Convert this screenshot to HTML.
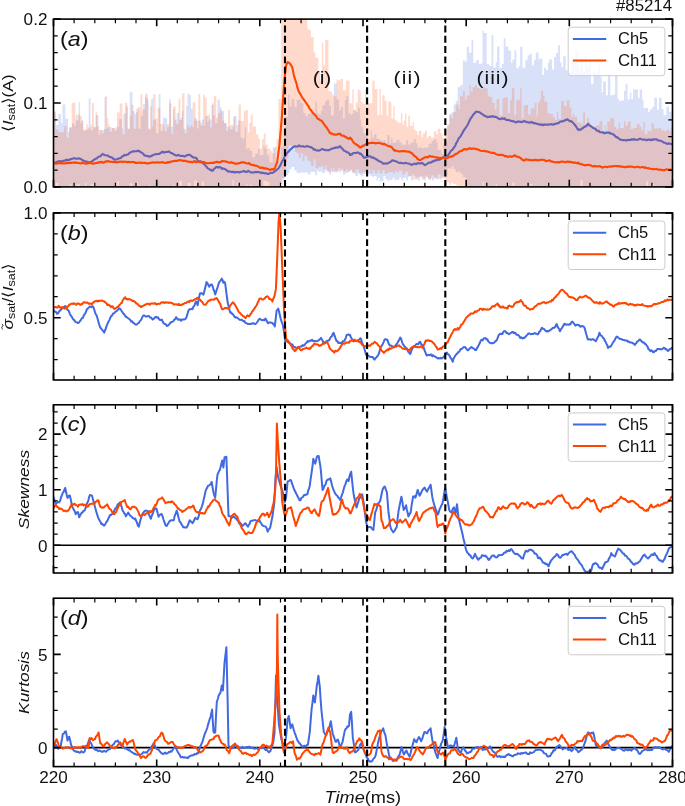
<!DOCTYPE html>
<html><head><meta charset="utf-8"><title>#85214</title>
<style>html,body{margin:0;padding:0;background:#fff;}body{width:685px;height:806px;overflow:hidden;font-family:"Liberation Sans",sans-serif;}</style>
</head><body>
<svg width="685" height="806" viewBox="0 0 685 806" style="display:block;will-change:transform;transform:translateZ(0)">
<rect x="0" y="0" width="685" height="806" fill="#fff"/>
<defs>
<clipPath id="cpa"><rect x="53.5" y="19.1" width="619.0" height="167.8"/></clipPath>
<clipPath id="cpb"><rect x="53.5" y="212.9" width="619.0" height="167.1"/></clipPath>
<clipPath id="cpc"><rect x="53.5" y="404.8" width="619.0" height="168.2"/></clipPath>
<clipPath id="cpd"><rect x="53.5" y="598.2" width="619.0" height="168.4"/></clipPath>
</defs>
<g clip-path="url(#cpa)">
<path d="M53.5 112.2 L55.9 112.2 L55.9 124.7 L58.3 124.7 L58.3 114.3 L61.1 114.3 L61.1 123.2 L62.5 123.2 L62.5 104.6 L65.3 104.6 L65.3 118.8 L68.1 118.8 L68.1 132.0 L69.5 132.0 L69.5 128.0 L71.9 128.0 L71.9 123.2 L73.9 123.2 L73.9 125.7 L75.9 125.7 L75.9 115.0 L77.3 115.0 L77.3 120.5 L78.7 120.5 L78.7 102.2 L80.1 102.2 L80.1 123.3 L81.5 123.3 L81.5 119.8 L82.9 119.8 L82.9 130.9 L84.9 130.9 L84.9 130.3 L86.3 130.3 L86.3 129.6 L88.7 129.6 L88.7 98.2 L90.5 98.2 L90.5 130.2 L92.9 130.2 L92.9 126.8 L95.7 126.8 L95.7 115.0 L98.5 115.0 L98.5 134.8 L100.3 134.8 L100.3 130.1 L102.7 130.1 L102.7 130.3 L104.5 130.3 L104.5 97.1 L106.3 97.1 L106.3 128.4 L108.7 128.4 L108.7 127.0 L111.5 127.0 L111.5 127.9 L114.3 127.9 L114.3 130.5 L117.1 130.5 L117.1 126.8 L119.1 126.8 L119.1 119.1 L121.9 119.1 L121.9 128.5 L123.3 128.5 L123.3 113.5 L126.1 113.5 L126.1 106.4 L127.9 106.4 L127.9 128.8 L129.7 128.8 L129.7 92.2 L132.5 92.2 L132.5 110.9 L134.5 110.9 L134.5 114.1 L136.3 114.1 L136.3 108.7 L138.3 108.7 L138.3 128.7 L140.7 128.7 L140.7 116.1 L143.1 116.1 L143.1 103.9 L144.9 103.9 L144.9 97.4 L147.3 97.4 L147.3 99.8 L148.7 99.8 L148.7 129.5 L151.1 129.5 L151.1 98.9 L153.1 98.9 L153.1 119.7 L155.9 119.7 L155.9 133.2 L158.7 133.2 L158.7 94.2 L160.5 94.2 L160.5 131.1 L162.9 131.1 L162.9 117.5 L164.7 117.5 L164.7 118.3 L167.1 118.3 L167.1 127.0 L169.1 127.0 L169.1 99.4 L170.9 99.4 L170.9 126.8 L172.9 126.8 L172.9 108.9 L174.3 108.9 L174.3 119.4 L176.7 119.4 L176.7 113.1 L179.1 113.1 L179.1 120.1 L181.9 120.1 L181.9 110.7 L183.3 110.7 L183.3 129.0 L186.1 129.0 L186.1 106.1 L187.5 106.1 L187.5 93.4 L188.9 93.4 L188.9 95.1 L190.9 95.1 L190.9 109.1 L192.7 109.1 L192.7 127.4 L194.1 127.4 L194.1 118.5 L196.9 118.5 L196.9 128.6 L198.7 128.6 L198.7 120.4 L200.5 120.4 L200.5 122.5 L201.9 122.5 L201.9 119.4 L203.9 119.4 L203.9 125.5 L205.3 125.5 L205.3 116.3 L207.3 116.3 L207.3 121.8 L208.7 121.8 L208.7 119.4 L211.5 119.4 L211.5 104.9 L213.3 104.9 L213.3 115.4 L215.1 115.4 L215.1 123.1 L217.5 123.1 L217.5 99.4 L219.9 99.4 L219.9 107.3 L221.3 107.3 L221.3 111.2 L224.1 111.2 L224.1 122.9 L226.9 122.9 L226.9 126.8 L229.7 126.8 L229.7 129.2 L232.5 129.2 L232.5 127.0 L233.9 127.0 L233.9 115.9 L236.7 115.9 L236.7 132.3 L238.1 132.3 L238.1 120.4 L240.5 120.4 L240.5 137.5 L242.3 137.5 L242.3 138.7 L244.7 138.7 L244.7 127.3 L246.1 127.3 L246.1 148.9 L247.5 148.9 L247.5 148.1 L249.5 148.1 L249.5 150.8 L252.3 150.8 L252.3 157.3 L255.1 157.3 L255.1 153.7 L257.9 153.7 L257.9 149.1 L259.7 149.1 L259.7 155.3 L261.5 155.3 L261.5 155.2 L263.3 155.2 L263.3 146.3 L265.1 146.3 L265.1 149.0 L266.9 149.0 L266.9 154.7 L269.3 154.7 L269.3 161.7 L270.7 161.7 L270.7 162.5 L272.7 162.5 L272.7 147.6 L275.5 147.6 L275.5 169.2 L277.9 169.2 L277.9 161.6 L280.7 161.6 L280.7 147.6 L282.5 147.6 L282.5 145.6 L283.9 145.6 L283.9 129.0 L285.3 129.0 L285.3 116.7 L288.1 116.7 L288.1 94.4 L289.5 94.4 L289.5 106.5 L291.5 106.5 L291.5 99.1 L294.3 99.1 L294.3 107.1 L296.7 107.1 L296.7 100.1 L298.7 100.1 L298.7 99.6 L300.5 99.6 L300.5 103.2 L303.3 103.2 L303.3 113.0 L305.7 113.0 L305.7 116.6 L307.7 116.6 L307.7 113.8 L310.5 113.8 L310.5 110.6 L312.5 110.6 L312.5 113.3 L315.3 113.3 L315.3 101.8 L317.1 101.8 L317.1 112.7 L318.5 112.7 L318.5 114.4 L320.9 114.4 L320.9 110.6 L322.3 110.6 L322.3 105.3 L325.1 105.3 L325.1 101.4 L326.5 101.4 L326.5 99.8 L329.3 99.8 L329.3 105.7 L331.1 105.7 L331.1 115.5 L333.9 115.5 L333.9 83.5 L336.7 83.5 L336.7 99.4 L339.1 99.4 L339.1 110.0 L341.1 110.0 L341.1 106.9 L342.9 106.9 L342.9 118.5 L344.9 118.5 L344.9 100.0 L346.3 100.0 L346.3 96.0 L348.3 96.0 L348.3 113.3 L350.7 113.3 L350.7 115.0 L352.1 115.0 L352.1 113.7 L353.5 113.7 L353.5 109.9 L355.3 109.9 L355.3 111.7 L358.1 111.7 L358.1 107.7 L359.9 107.7 L359.9 119.4 L361.3 119.4 L361.3 126.6 L363.3 126.6 L363.3 133.4 L366.1 133.4 L366.1 136.5 L367.9 136.5 L367.9 142.1 L369.3 142.1 L369.3 140.3 L370.7 140.3 L370.7 130.4 L372.1 130.4 L372.1 137.7 L374.1 137.7 L374.1 134.2 L376.5 134.2 L376.5 138.7 L377.9 138.7 L377.9 139.0 L379.7 139.0 L379.7 140.1 L381.5 140.1 L381.5 141.0 L383.5 141.0 L383.5 140.0 L385.3 140.0 L385.3 142.8 L387.3 142.8 L387.3 134.9 L389.7 134.9 L389.7 143.4 L391.1 143.4 L391.1 137.5 L392.5 137.5 L392.5 142.8 L394.5 142.8 L394.5 142.3 L396.5 142.3 L396.5 139.9 L399.3 139.9 L399.3 142.3 L401.3 142.3 L401.3 144.6 L403.3 144.6 L403.3 144.7 L406.1 144.7 L406.1 140.1 L408.1 140.1 L408.1 144.5 L410.9 144.5 L410.9 142.6 L413.7 142.6 L413.7 139.0 L415.7 139.0 L415.7 143.2 L417.5 143.2 L417.5 147.8 L419.9 147.8 L419.9 146.5 L421.3 146.5 L421.3 148.3 L423.3 148.3 L423.3 147.8 L425.7 147.8 L425.7 147.5 L428.5 147.5 L428.5 143.7 L430.5 143.7 L430.5 143.4 L431.9 143.4 L431.9 141.0 L433.9 141.0 L433.9 139.3 L436.3 139.3 L436.3 142.6 L437.7 142.6 L437.7 150.0 L439.5 150.0 L439.5 149.7 L441.3 149.7 L441.3 153.7 L443.3 153.7 L443.3 144.2 L445.1 144.2 L445.1 141.6 L447.5 141.6 L447.5 123.9 L449.5 123.9 L449.5 114.1 L451.3 114.1 L451.3 112.6 L453.7 112.6 L453.7 104.6 L455.7 104.6 L455.7 100.7 L457.7 100.7 L457.7 87.0 L460.5 87.0 L460.5 85.0 L462.9 85.0 L462.9 60.5 L465.3 60.5 L465.3 61.7 L466.7 61.7 L466.7 46.8 L469.1 46.8 L469.1 52.7 L471.5 52.7 L471.5 39.8 L473.3 39.8 L473.3 62.9 L476.1 62.9 L476.1 60.2 L478.9 60.2 L478.9 64.0 L480.7 64.0 L480.7 63.5 L482.5 63.5 L482.5 30.7 L483.9 30.7 L483.9 32.9 L486.7 32.9 L486.7 63.9 L489.1 63.9 L489.1 65.8 L491.5 65.8 L491.5 35.2 L493.3 35.2 L493.3 67.6 L495.7 67.6 L495.7 62.2 L497.1 62.2 L497.1 46.6 L499.5 46.6 L499.5 68.0 L501.9 68.0 L501.9 64.0 L503.7 64.0 L503.7 37.9 L505.5 37.9 L505.5 46.4 L508.3 46.4 L508.3 50.5 L511.1 50.5 L511.1 63.1 L512.5 63.1 L512.5 59.5 L514.5 59.5 L514.5 50.3 L516.3 50.3 L516.3 68.2 L518.7 68.2 L518.7 66.0 L520.1 66.0 L520.1 46.7 L522.5 46.7 L522.5 67.8 L525.3 67.8 L525.3 59.8 L527.7 59.8 L527.7 55.3 L530.1 55.3 L530.1 53.6 L531.9 53.6 L531.9 65.6 L533.9 65.6 L533.9 60.0 L535.7 60.0 L535.7 52.4 L538.5 52.4 L538.5 59.3 L540.5 59.3 L540.5 58.4 L542.3 58.4 L542.3 74.9 L544.1 74.9 L544.1 67.8 L545.9 67.8 L545.9 70.1 L547.9 70.1 L547.9 62.6 L549.3 62.6 L549.3 59.4 L552.1 59.4 L552.1 69.6 L554.1 69.6 L554.1 56.9 L556.1 56.9 L556.1 53.1 L558.1 53.1 L558.1 45.3 L560.1 45.3 L560.1 62.6 L561.5 62.6 L561.5 67.2 L563.3 67.2 L563.3 56.0 L565.7 56.0 L565.7 69.9 L567.5 69.9 L567.5 72.2 L569.9 72.2 L569.9 70.8 L571.7 70.8 L571.7 55.2 L573.1 55.2 L573.1 62.3 L575.5 62.3 L575.5 49.2 L578.3 49.2 L578.3 70.2 L580.3 70.2 L580.3 58.1 L582.7 58.1 L582.7 71.7 L584.7 71.7 L584.7 56.1 L586.7 56.1 L586.7 65.8 L589.1 65.8 L589.1 59.7 L591.1 59.7 L591.1 84.2 L593.5 84.2 L593.5 71.2 L595.9 71.2 L595.9 74.0 L597.9 74.0 L597.9 65.1 L599.9 65.1 L599.9 76.5 L601.7 76.5 L601.7 92.2 L603.1 92.2 L603.1 81.5 L605.9 81.5 L605.9 95.3 L607.9 95.3 L607.9 73.4 L610.3 73.4 L610.3 95.2 L613.1 95.2 L613.1 94.8 L615.1 94.8 L615.1 75.5 L617.5 75.5 L617.5 98.6 L618.9 98.6 L618.9 100.9 L621.3 100.9 L621.3 100.5 L624.1 100.5 L624.1 90.7 L625.5 90.7 L625.5 83.7 L627.5 83.7 L627.5 99.4 L629.9 99.4 L629.9 92.4 L631.3 92.4 L631.3 99.2 L633.1 99.2 L633.1 89.2 L635.9 89.2 L635.9 89.5 L637.9 89.5 L637.9 97.9 L639.7 97.9 L639.7 89.5 L642.1 89.5 L642.1 99.6 L643.5 99.6 L643.5 108.1 L646.3 108.1 L646.3 107.7 L648.1 107.7 L648.1 112.1 L649.9 112.1 L649.9 109.2 L652.3 109.2 L652.3 106.8 L654.3 106.8 L654.3 97.8 L657.1 97.8 L657.1 109.7 L658.9 109.7 L658.9 97.8 L661.7 97.8 L661.7 109.0 L663.5 109.0 L663.5 115.2 L666.3 115.2 L666.3 106.8 L669.1 106.8 L669.1 111.8 L671.9 111.8 L671.9 101.2 L674.3 101.2 L674.3 185.2 L671.9 185.2 L671.9 189.9 L669.1 189.9 L669.1 189.9 L666.3 189.9 L666.3 189.9 L663.5 189.9 L663.5 189.9 L661.7 189.9 L661.7 189.9 L658.9 189.9 L658.9 189.9 L657.1 189.9 L657.1 189.9 L654.3 189.9 L654.3 184.2 L652.3 184.2 L652.3 185.5 L649.9 185.5 L649.9 189.9 L648.1 189.9 L648.1 181.2 L646.3 181.2 L646.3 189.9 L643.5 189.9 L643.5 189.9 L642.1 189.9 L642.1 189.9 L639.7 189.9 L639.7 189.9 L637.9 189.9 L637.9 189.9 L635.9 189.9 L635.9 189.9 L633.1 189.9 L633.1 189.9 L631.3 189.9 L631.3 189.9 L629.9 189.9 L629.9 189.9 L627.5 189.9 L627.5 189.9 L625.5 189.9 L625.5 189.9 L624.1 189.9 L624.1 189.9 L621.3 189.9 L621.3 189.9 L618.9 189.9 L618.9 189.9 L617.5 189.9 L617.5 189.9 L615.1 189.9 L615.1 189.9 L613.1 189.9 L613.1 189.9 L610.3 189.9 L610.3 189.9 L607.9 189.9 L607.9 189.9 L605.9 189.9 L605.9 189.9 L603.1 189.9 L603.1 189.9 L601.7 189.9 L601.7 189.9 L599.9 189.9 L599.9 189.9 L597.9 189.9 L597.9 189.9 L595.9 189.9 L595.9 189.9 L593.5 189.9 L593.5 189.9 L591.1 189.9 L591.1 189.9 L589.1 189.9 L589.1 189.9 L586.7 189.9 L586.7 189.9 L584.7 189.9 L584.7 189.9 L582.7 189.9 L582.7 180.3 L580.3 180.3 L580.3 189.9 L578.3 189.9 L578.3 189.9 L575.5 189.9 L575.5 189.9 L573.1 189.9 L573.1 189.9 L571.7 189.9 L571.7 189.9 L569.9 189.9 L569.9 189.9 L567.5 189.9 L567.5 189.9 L565.7 189.9 L565.7 189.9 L563.3 189.9 L563.3 189.9 L561.5 189.9 L561.5 189.9 L560.1 189.9 L560.1 189.9 L558.1 189.9 L558.1 189.9 L556.1 189.9 L556.1 189.9 L554.1 189.9 L554.1 189.9 L552.1 189.9 L552.1 189.9 L549.3 189.9 L549.3 189.9 L547.9 189.9 L547.9 189.9 L545.9 189.9 L545.9 189.9 L544.1 189.9 L544.1 189.9 L542.3 189.9 L542.3 189.9 L540.5 189.9 L540.5 189.9 L538.5 189.9 L538.5 189.9 L535.7 189.9 L535.7 189.9 L533.9 189.9 L533.9 189.9 L531.9 189.9 L531.9 183.9 L530.1 183.9 L530.1 189.9 L527.7 189.9 L527.7 189.9 L525.3 189.9 L525.3 189.9 L522.5 189.9 L522.5 189.9 L520.1 189.9 L520.1 189.9 L518.7 189.9 L518.7 189.9 L516.3 189.9 L516.3 189.9 L514.5 189.9 L514.5 182.2 L512.5 182.2 L512.5 189.9 L511.1 189.9 L511.1 189.9 L508.3 189.9 L508.3 189.9 L505.5 189.9 L505.5 189.9 L503.7 189.9 L503.7 189.9 L501.9 189.9 L501.9 189.9 L499.5 189.9 L499.5 189.9 L497.1 189.9 L497.1 183.5 L495.7 183.5 L495.7 189.9 L493.3 189.9 L493.3 189.9 L491.5 189.9 L491.5 189.9 L489.1 189.9 L489.1 189.9 L486.7 189.9 L486.7 189.9 L483.9 189.9 L483.9 181.4 L482.5 181.4 L482.5 189.9 L480.7 189.9 L480.7 189.9 L478.9 189.9 L478.9 189.9 L476.1 189.9 L476.1 189.9 L473.3 189.9 L473.3 189.9 L471.5 189.9 L471.5 189.9 L469.1 189.9 L469.1 185.9 L466.7 185.9 L466.7 177.6 L465.3 177.6 L465.3 177.1 L462.9 177.1 L462.9 173.7 L460.5 173.7 L460.5 171.6 L457.7 171.6 L457.7 172.2 L455.7 172.2 L455.7 169.1 L453.7 169.1 L453.7 166.4 L451.3 166.4 L451.3 168.7 L449.5 168.7 L449.5 168.1 L447.5 168.1 L447.5 176.9 L445.1 176.9 L445.1 176.4 L443.3 176.4 L443.3 176.6 L441.3 176.6 L441.3 178.7 L439.5 178.7 L439.5 179.2 L437.7 179.2 L437.7 178.1 L436.3 178.1 L436.3 178.7 L433.9 178.7 L433.9 180.4 L431.9 180.4 L431.9 178.1 L430.5 178.1 L430.5 178.8 L428.5 178.8 L428.5 177.7 L425.7 177.7 L425.7 180.2 L423.3 180.2 L423.3 176.5 L421.3 176.5 L421.3 176.2 L419.9 176.2 L419.9 180.4 L417.5 180.4 L417.5 179.6 L415.7 179.6 L415.7 175.8 L413.7 175.8 L413.7 180.3 L410.9 180.3 L410.9 176.4 L408.1 176.4 L408.1 180.5 L406.1 180.5 L406.1 177.8 L403.3 177.8 L403.3 180.1 L401.3 180.1 L401.3 177.4 L399.3 177.4 L399.3 179.8 L396.5 179.8 L396.5 180.0 L394.5 180.0 L394.5 177.7 L392.5 177.7 L392.5 180.3 L391.1 180.3 L391.1 179.7 L389.7 179.7 L389.7 180.7 L387.3 180.7 L387.3 179.1 L385.3 179.1 L385.3 176.1 L383.5 176.1 L383.5 180.7 L381.5 180.7 L381.5 181.8 L379.7 181.8 L379.7 177.9 L377.9 177.9 L377.9 180.8 L376.5 180.8 L376.5 175.9 L374.1 175.9 L374.1 177.0 L372.1 177.0 L372.1 175.9 L370.7 175.9 L370.7 174.4 L369.3 174.4 L369.3 173.7 L367.9 173.7 L367.9 174.3 L366.1 174.3 L366.1 173.9 L363.3 173.9 L363.3 176.6 L361.3 176.6 L361.3 174.9 L359.9 174.9 L359.9 172.9 L358.1 172.9 L358.1 175.7 L355.3 175.7 L355.3 172.2 L353.5 172.2 L353.5 172.5 L352.1 172.5 L352.1 170.7 L350.7 170.7 L350.7 171.2 L348.3 171.2 L348.3 172.6 L346.3 172.6 L346.3 173.5 L344.9 173.5 L344.9 174.6 L342.9 174.6 L342.9 168.8 L341.1 168.8 L341.1 172.3 L339.1 172.3 L339.1 170.5 L336.7 170.5 L336.7 172.2 L333.9 172.2 L333.9 171.6 L331.1 171.6 L331.1 174.5 L329.3 174.5 L329.3 171.6 L326.5 171.6 L326.5 169.7 L325.1 169.7 L325.1 173.0 L322.3 173.0 L322.3 171.6 L320.9 171.6 L320.9 171.7 L318.5 171.7 L318.5 170.6 L317.1 170.6 L317.1 175.2 L315.3 175.2 L315.3 171.9 L312.5 171.9 L312.5 172.1 L310.5 172.1 L310.5 174.4 L307.7 174.4 L307.7 172.0 L305.7 172.0 L305.7 172.8 L303.3 172.8 L303.3 172.4 L300.5 172.4 L300.5 173.0 L298.7 173.0 L298.7 172.9 L296.7 172.9 L296.7 170.5 L294.3 170.5 L294.3 167.1 L291.5 167.1 L291.5 169.3 L289.5 169.3 L289.5 173.0 L288.1 173.0 L288.1 174.9 L285.3 174.9 L285.3 177.9 L283.9 177.9 L283.9 180.8 L282.5 180.8 L282.5 183.9 L280.7 183.9 L280.7 188.8 L277.9 188.8 L277.9 189.9 L275.5 189.9 L275.5 189.9 L272.7 189.9 L272.7 189.9 L270.7 189.9 L270.7 189.9 L269.3 189.9 L269.3 182.1 L266.9 182.1 L266.9 180.9 L265.1 180.9 L265.1 180.6 L263.3 180.6 L263.3 189.9 L261.5 189.9 L261.5 189.9 L259.7 189.9 L259.7 189.9 L257.9 189.9 L257.9 189.9 L255.1 189.9 L255.1 189.9 L252.3 189.9 L252.3 184.7 L249.5 184.7 L249.5 189.9 L247.5 189.9 L247.5 184.2 L246.1 184.2 L246.1 189.9 L244.7 189.9 L244.7 189.9 L242.3 189.9 L242.3 189.9 L240.5 189.9 L240.5 189.9 L238.1 189.9 L238.1 182.7 L236.7 182.7 L236.7 189.9 L233.9 189.9 L233.9 180.1 L232.5 180.1 L232.5 189.9 L229.7 189.9 L229.7 189.9 L226.9 189.9 L226.9 189.9 L224.1 189.9 L224.1 189.9 L221.3 189.9 L221.3 189.9 L219.9 189.9 L219.9 189.9 L217.5 189.9 L217.5 189.9 L215.1 189.9 L215.1 189.9 L213.3 189.9 L213.3 189.9 L211.5 189.9 L211.5 189.9 L208.7 189.9 L208.7 189.9 L207.3 189.9 L207.3 189.9 L205.3 189.9 L205.3 189.9 L203.9 189.9 L203.9 181.6 L201.9 181.6 L201.9 189.9 L200.5 189.9 L200.5 189.9 L198.7 189.9 L198.7 189.9 L196.9 189.9 L196.9 180.8 L194.1 180.8 L194.1 189.9 L192.7 189.9 L192.7 189.9 L190.9 189.9 L190.9 183.0 L188.9 183.0 L188.9 182.7 L187.5 182.7 L187.5 189.9 L186.1 189.9 L186.1 189.9 L183.3 189.9 L183.3 189.9 L181.9 189.9 L181.9 180.7 L179.1 180.7 L179.1 189.9 L176.7 189.9 L176.7 189.9 L174.3 189.9 L174.3 184.9 L172.9 184.9 L172.9 189.9 L170.9 189.9 L170.9 189.9 L169.1 189.9 L169.1 189.9 L167.1 189.9 L167.1 189.9 L164.7 189.9 L164.7 189.9 L162.9 189.9 L162.9 189.9 L160.5 189.9 L160.5 189.9 L158.7 189.9 L158.7 189.9 L155.9 189.9 L155.9 189.9 L153.1 189.9 L153.1 189.9 L151.1 189.9 L151.1 185.2 L148.7 185.2 L148.7 189.9 L147.3 189.9 L147.3 189.9 L144.9 189.9 L144.9 189.9 L143.1 189.9 L143.1 189.9 L140.7 189.9 L140.7 185.5 L138.3 185.5 L138.3 182.1 L136.3 182.1 L136.3 189.9 L134.5 189.9 L134.5 189.9 L132.5 189.9 L132.5 183.2 L129.7 183.2 L129.7 189.9 L127.9 189.9 L127.9 189.9 L126.1 189.9 L126.1 189.9 L123.3 189.9 L123.3 189.9 L121.9 189.9 L121.9 189.9 L119.1 189.9 L119.1 181.0 L117.1 181.0 L117.1 189.9 L114.3 189.9 L114.3 189.9 L111.5 189.9 L111.5 189.9 L108.7 189.9 L108.7 189.9 L106.3 189.9 L106.3 189.9 L104.5 189.9 L104.5 189.9 L102.7 189.9 L102.7 189.9 L100.3 189.9 L100.3 189.9 L98.5 189.9 L98.5 189.9 L95.7 189.9 L95.7 183.5 L92.9 183.5 L92.9 184.3 L90.5 184.3 L90.5 189.9 L88.7 189.9 L88.7 189.9 L86.3 189.9 L86.3 183.1 L84.9 183.1 L84.9 189.9 L82.9 189.9 L82.9 189.9 L81.5 189.9 L81.5 189.9 L80.1 189.9 L80.1 184.6 L78.7 184.6 L78.7 184.2 L77.3 184.2 L77.3 184.2 L75.9 184.2 L75.9 189.9 L73.9 189.9 L73.9 189.9 L71.9 189.9 L71.9 184.5 L69.5 184.5 L69.5 185.7 L68.1 185.7 L68.1 189.9 L65.3 189.9 L65.3 189.9 L62.5 189.9 L62.5 189.9 L61.1 189.9 L61.1 189.9 L58.3 189.9 L58.3 182.8 L55.9 182.8 L55.9 189.9 L53.5 189.9 Z" fill="#4169e1" fill-opacity="0.2"/>
<path d="M53.3 163.1 L54.0 163.4 L54.7 163.1 L55.6 162.4 L56.5 161.9 L57.5 161.9 L58.4 161.5 L59.3 161.0 L60.3 161.3 L61.2 161.3 L62.1 161.4 L63.1 160.9 L64.0 160.8 L64.9 160.6 L65.9 159.8 L66.8 159.9 L67.8 159.8 L68.7 160.3 L69.6 159.7 L70.6 159.1 L71.5 159.1 L72.4 158.6 L73.4 158.5 L74.2 158.2 L75.1 158.3 L76.0 158.7 L76.9 158.8 L77.7 158.7 L78.6 158.3 L79.5 158.6 L80.4 158.7 L81.3 159.4 L82.2 159.8 L83.1 160.5 L84.0 160.7 L84.9 161.1 L85.8 161.6 L86.7 161.6 L87.6 161.9 L88.5 162.3 L89.5 162.7 L90.5 161.9 L91.5 161.6 L92.4 161.2 L93.4 160.4 L94.4 159.3 L95.3 159.3 L96.2 158.5 L97.1 158.2 L98.0 157.1 L98.9 156.5 L99.8 156.5 L100.7 156.3 L101.6 154.9 L102.6 153.9 L103.5 154.4 L104.5 155.0 L105.5 155.3 L106.4 155.5 L107.4 155.4 L108.4 155.9 L109.3 156.8 L110.1 157.0 L111.0 157.1 L111.9 157.5 L112.8 158.6 L113.6 158.6 L114.5 159.4 L115.4 159.7 L116.3 159.4 L117.2 159.0 L118.0 158.6 L118.9 158.7 L119.8 158.2 L120.7 158.0 L121.5 157.1 L122.4 156.3 L123.3 156.2 L124.3 154.9 L125.2 155.1 L126.1 155.2 L127.1 154.6 L128.0 154.5 L128.8 153.9 L129.7 152.6 L130.6 152.5 L131.5 152.0 L132.3 151.6 L133.2 151.3 L134.1 151.4 L135.0 151.3 L136.0 151.2 L136.9 151.2 L137.8 150.5 L138.8 151.1 L139.7 151.3 L140.6 152.3 L141.6 152.6 L142.5 153.2 L143.4 154.0 L144.4 155.3 L145.4 155.8 L146.4 155.8 L147.3 156.1 L148.3 156.1 L149.3 156.8 L150.2 156.3 L151.2 156.3 L152.2 155.4 L153.2 155.1 L154.1 154.6 L155.1 154.2 L156.0 154.3 L156.9 154.1 L157.7 154.0 L158.6 154.0 L159.5 153.9 L160.4 152.8 L161.2 152.8 L162.1 151.8 L163.0 151.9 L163.9 152.7 L164.7 152.3 L165.6 152.0 L166.5 152.0 L167.4 151.9 L168.2 151.8 L169.1 151.4 L170.0 152.3 L170.9 153.0 L171.8 153.1 L172.6 153.6 L173.5 154.2 L174.4 154.8 L175.3 155.1 L176.1 155.6 L177.0 155.4 L177.9 155.0 L178.8 155.1 L179.6 155.7 L180.5 156.0 L181.4 156.0 L182.3 155.7 L183.1 155.9 L184.0 156.4 L184.9 156.5 L185.8 155.8 L186.6 155.6 L187.5 155.0 L188.4 154.7 L189.3 154.9 L190.1 155.0 L191.1 155.9 L192.1 156.7 L193.1 157.2 L194.0 157.8 L195.0 157.7 L196.0 157.7 L196.9 158.9 L197.7 160.8 L198.6 161.4 L199.5 161.6 L200.0 161.0 L200.9 162.2 L201.9 162.3 L202.8 163.3 L203.7 163.7 L204.7 164.9 L205.6 165.9 L206.5 166.7 L207.5 168.2 L208.4 168.6 L209.3 169.1 L210.2 170.1 L211.1 169.8 L212.0 170.8 L212.8 170.7 L213.7 169.3 L214.6 168.5 L215.5 167.7 L216.4 166.9 L217.3 167.0 L218.2 167.7 L219.2 166.9 L220.1 167.2 L221.0 167.6 L221.9 168.8 L222.8 168.3 L223.6 168.8 L224.5 168.9 L225.4 169.3 L226.3 170.2 L227.2 170.7 L228.0 171.6 L228.9 171.2 L229.8 171.4 L230.7 171.9 L231.5 172.1 L232.4 171.8 L233.3 172.2 L234.2 171.8 L235.0 172.6 L235.9 172.3 L236.8 172.0 L237.7 172.0 L238.5 172.1 L239.4 172.5 L240.3 172.0 L241.2 171.7 L242.0 171.8 L242.9 171.4 L243.8 170.9 L244.7 171.6 L245.5 171.6 L246.4 172.1 L247.3 171.7 L248.2 170.8 L249.1 171.4 L249.9 171.8 L250.8 172.5 L251.7 172.5 L252.6 172.4 L253.4 172.5 L254.3 172.2 L255.2 172.2 L256.1 171.8 L256.9 172.2 L257.8 172.0 L258.7 172.0 L259.6 172.5 L260.4 172.8 L261.3 172.4 L262.2 173.2 L263.1 172.8 L263.9 173.1 L264.8 173.4 L265.7 173.3 L266.6 173.3 L267.4 173.9 L268.3 173.9 L269.2 173.8 L270.1 173.0 L271.0 172.6 L271.9 173.0 L272.9 172.7 L273.8 172.0 L274.7 171.6 L275.7 170.6 L276.6 170.0 L277.5 169.1 L278.5 168.3 L279.4 166.8 L280.4 165.3 L281.3 163.1 L282.2 161.1 L283.2 159.9 L284.1 157.8 L285.0 156.2 L286.0 154.7 L286.9 153.1 L287.8 152.3 L288.8 151.2 L289.7 150.3 L290.6 149.3 L291.6 148.7 L292.5 147.6 L293.4 146.8 L294.4 146.6 L295.3 146.2 L296.2 146.5 L297.2 146.6 L298.1 146.3 L299.0 145.4 L300.0 146.3 L300.9 146.5 L301.8 146.2 L302.8 146.3 L303.7 146.6 L304.6 146.7 L305.6 146.6 L306.5 146.3 L307.4 146.0 L308.4 146.7 L309.3 146.9 L310.2 147.0 L311.2 147.3 L312.1 147.9 L313.1 148.6 L314.0 149.9 L314.9 149.5 L315.9 150.1 L316.8 150.5 L317.7 150.4 L318.7 150.6 L319.6 150.5 L320.5 149.9 L321.5 149.3 L322.4 149.0 L323.3 149.3 L324.3 150.0 L325.2 149.9 L326.1 150.3 L327.1 150.3 L328.0 150.1 L328.9 150.2 L329.9 149.7 L330.8 149.2 L331.7 148.5 L332.7 148.7 L333.6 148.2 L334.5 147.8 L335.5 147.9 L336.4 147.2 L337.3 147.6 L338.3 147.4 L339.2 146.7 L340.1 146.1 L341.0 147.6 L341.9 148.1 L342.8 149.1 L343.6 150.3 L344.6 150.9 L345.6 151.4 L346.6 152.0 L347.5 152.3 L348.5 152.7 L349.5 153.7 L350.0 155.1 L350.9 154.4 L351.9 154.6 L352.8 153.2 L353.7 153.0 L354.7 153.0 L355.5 153.1 L356.4 152.8 L357.3 152.5 L358.2 152.6 L359.1 153.1 L359.9 153.9 L360.8 153.6 L361.7 154.8 L362.5 155.5 L363.2 156.8 L364.0 157.8 L364.9 157.7 L365.9 157.1 L366.8 157.0 L367.8 156.5 L368.7 156.4 L369.6 156.5 L370.4 156.4 L371.3 157.4 L372.2 157.6 L373.1 157.2 L373.9 158.3 L374.8 158.3 L375.7 159.0 L376.6 159.5 L377.6 160.1 L378.5 160.9 L379.4 161.4 L380.4 161.5 L381.3 162.1 L382.2 162.7 L383.2 163.7 L384.1 163.6 L385.0 163.5 L385.9 163.4 L386.8 163.6 L387.7 163.2 L388.5 162.9 L389.4 162.6 L390.3 161.9 L391.2 161.3 L392.0 160.3 L393.0 160.4 L393.9 160.7 L394.8 161.0 L395.8 161.2 L396.7 161.7 L397.6 162.2 L398.6 162.6 L399.5 163.0 L400.5 162.9 L401.4 162.9 L402.3 163.3 L403.3 163.3 L404.2 163.4 L405.1 162.9 L406.1 163.0 L407.0 163.3 L407.9 163.5 L408.9 163.8 L409.8 163.8 L410.7 164.5 L411.7 164.9 L412.6 164.3 L413.5 164.2 L414.5 163.6 L415.4 163.8 L416.3 164.3 L417.3 163.3 L418.2 163.1 L419.1 163.5 L420.1 163.2 L421.0 163.4 L421.9 162.9 L422.9 163.5 L423.8 164.3 L424.7 165.1 L425.7 164.8 L426.6 164.1 L427.5 163.6 L428.5 162.8 L429.4 162.5 L430.4 162.8 L431.3 162.3 L432.2 161.4 L433.2 161.6 L434.1 160.5 L435.0 160.8 L436.0 160.3 L436.9 160.1 L437.8 160.0 L438.8 159.6 L439.7 159.7 L440.6 159.1 L441.6 158.6 L442.5 158.0 L443.4 157.3 L444.3 156.7 L445.2 156.6 L446.1 156.1 L446.9 155.8 L447.8 155.6 L448.7 154.4 L449.6 153.2 L450.4 151.6 L451.4 150.4 L452.3 150.0 L453.2 148.7 L454.2 147.2 L455.1 146.1 L456.0 143.6 L457.0 142.0 L457.9 140.1 L458.8 138.1 L459.8 137.3 L460.7 136.1 L461.6 134.4 L462.6 132.8 L463.5 130.8 L464.5 129.5 L465.4 128.1 L466.3 126.9 L467.3 125.5 L468.2 123.6 L469.1 121.6 L470.0 119.7 L470.9 118.1 L471.8 117.0 L472.6 115.7 L473.6 114.2 L474.7 113.3 L475.7 111.8 L476.6 111.8 L477.5 111.8 L478.5 112.0 L479.4 112.3 L480.3 112.7 L481.3 113.6 L482.2 114.1 L483.1 114.7 L484.1 115.6 L485.0 115.7 L485.9 116.5 L486.9 116.6 L487.8 117.3 L488.7 117.1 L489.7 116.3 L490.6 116.9 L491.5 116.7 L492.5 116.0 L493.4 116.5 L494.4 117.0 L495.3 116.8 L496.2 117.0 L497.2 117.7 L498.1 118.4 L499.1 118.7 L500.0 119.0 L500.9 119.2 L501.8 118.2 L502.7 118.4 L503.6 118.9 L504.5 118.3 L505.4 119.3 L506.3 120.0 L507.2 119.9 L508.1 120.1 L509.0 120.1 L509.9 120.5 L510.8 120.8 L511.7 121.1 L512.6 121.0 L513.5 121.5 L514.4 121.6 L515.3 122.2 L516.2 122.5 L517.1 121.8 L518.0 121.4 L518.9 121.7 L519.8 121.6 L520.7 121.9 L521.6 122.1 L522.5 121.9 L523.4 121.2 L524.3 121.0 L525.2 121.6 L526.1 121.5 L527.0 122.3 L527.9 122.3 L528.8 122.6 L529.7 122.4 L530.6 122.6 L531.5 121.8 L532.4 122.3 L533.3 123.1 L534.2 123.0 L535.1 123.1 L536.0 123.6 L536.9 123.9 L537.8 123.9 L538.7 124.5 L539.6 124.2 L540.5 125.0 L541.4 124.5 L542.3 124.4 L543.2 125.2 L544.1 124.8 L545.0 124.4 L545.9 124.7 L546.8 124.6 L547.7 124.5 L548.6 124.6 L549.5 124.4 L550.4 124.2 L551.3 124.0 L552.2 124.8 L553.1 124.3 L554.0 124.5 L554.9 123.8 L555.8 124.0 L556.7 123.4 L557.6 123.1 L558.4 123.2 L559.2 122.6 L560.1 121.7 L560.9 121.5 L561.8 121.4 L562.6 121.5 L563.5 120.8 L564.3 120.6 L565.1 120.5 L565.9 119.7 L566.7 119.7 L567.5 119.3 L568.4 120.2 L569.3 120.8 L570.2 121.3 L571.1 121.0 L572.0 122.0 L572.9 122.6 L573.8 123.6 L574.7 124.8 L575.6 125.7 L576.5 127.2 L577.4 128.7 L578.3 130.0 L579.2 129.4 L580.1 129.7 L581.0 129.4 L581.9 128.5 L582.8 128.2 L583.7 127.3 L584.5 126.8 L585.3 126.5 L586.2 126.3 L587.0 125.2 L587.8 123.8 L588.7 124.5 L589.6 125.6 L590.5 125.9 L591.4 126.7 L592.3 127.2 L593.2 128.0 L594.1 128.4 L595.0 128.6 L595.9 129.3 L596.8 130.8 L597.7 130.8 L598.6 130.7 L599.5 132.0 L600.4 132.3 L601.3 132.2 L602.2 132.4 L603.1 132.3 L604.0 133.2 L604.9 133.1 L605.8 132.8 L606.7 132.6 L607.6 132.5 L608.5 132.8 L609.4 132.5 L610.2 133.5 L611.1 133.5 L611.9 133.8 L612.8 134.2 L613.6 134.7 L614.4 135.3 L615.3 136.3 L616.1 137.1 L617.0 137.0 L617.9 138.0 L618.8 138.4 L619.7 139.4 L620.6 139.6 L621.5 139.7 L622.4 140.1 L623.2 140.3 L624.1 140.1 L624.9 140.2 L625.8 140.3 L626.6 140.5 L627.4 140.0 L628.3 139.9 L629.1 140.0 L630.0 140.1 L630.8 139.8 L631.7 139.2 L632.5 139.8 L633.3 139.5 L634.2 139.0 L635.0 139.6 L635.9 139.7 L636.8 139.7 L637.7 139.6 L638.6 139.4 L639.5 138.8 L640.4 138.7 L641.3 139.1 L642.1 139.5 L643.0 139.7 L643.8 139.5 L644.7 139.6 L645.5 139.8 L646.3 140.1 L647.2 140.2 L648.0 139.6 L648.9 139.5 L649.7 139.9 L650.6 140.0 L651.4 140.2 L652.3 139.4 L653.1 139.4 L653.9 139.8 L654.8 139.3 L655.7 139.3 L656.6 139.2 L657.5 140.3 L658.4 140.5 L659.3 140.4 L660.2 140.7 L661.1 140.9 L662.0 141.4 L662.9 142.0 L663.8 142.5 L664.7 142.7 L665.6 143.1 L666.5 143.5 L667.4 144.0 L668.4 143.2 L669.3 143.6 L670.2 143.8 L671.1 144.0 L672.0 144.1" fill="none" stroke="#4169e1" stroke-width="2.1" stroke-linejoin="round"/>
<path d="M53.5 111.0 L55.5 111.0 L55.5 129.5 L58.3 129.5 L58.3 131.9 L60.3 131.9 L60.3 132.5 L62.7 132.5 L62.7 131.9 L64.1 131.9 L64.1 126.2 L66.5 126.2 L66.5 137.7 L68.9 137.7 L68.9 127.1 L71.7 127.1 L71.7 103.1 L73.5 103.1 L73.5 102.8 L75.5 102.8 L75.5 120.3 L77.5 120.3 L77.5 114.3 L79.3 114.3 L79.3 115.7 L81.7 115.7 L81.7 121.0 L83.5 121.0 L83.5 129.5 L86.3 129.5 L86.3 124.0 L87.7 124.0 L87.7 127.6 L90.5 127.6 L90.5 125.3 L91.9 125.3 L91.9 102.9 L93.9 102.9 L93.9 127.7 L95.7 127.7 L95.7 112.1 L97.1 112.1 L97.1 125.9 L98.9 125.9 L98.9 129.9 L101.7 129.9 L101.7 133.3 L104.1 133.3 L104.1 128.9 L105.5 128.9 L105.5 96.1 L106.9 96.1 L106.9 118.3 L108.3 118.3 L108.3 124.7 L109.7 124.7 L109.7 131.8 L112.1 131.8 L112.1 127.9 L114.9 127.9 L114.9 127.4 L116.9 127.4 L116.9 112.5 L119.7 112.5 L119.7 103.6 L122.5 103.6 L122.5 134.6 L124.9 134.6 L124.9 102.9 L127.3 102.9 L127.3 128.8 L129.7 128.8 L129.7 116.0 L131.5 116.0 L131.5 104.8 L133.5 104.8 L133.5 128.7 L136.3 128.7 L136.3 112.1 L137.7 112.1 L137.7 107.2 L140.5 107.2 L140.5 94.1 L142.3 94.1 L142.3 109.4 L145.1 109.4 L145.1 93.8 L147.9 93.8 L147.9 128.5 L149.9 128.5 L149.9 106.3 L151.7 106.3 L151.7 126.8 L153.1 126.8 L153.1 94.3 L155.5 94.3 L155.5 118.4 L157.5 118.4 L157.5 107.9 L160.3 107.9 L160.3 124.0 L163.1 124.0 L163.1 125.5 L164.5 125.5 L164.5 131.2 L166.9 131.2 L166.9 124.0 L169.3 124.0 L169.3 103.6 L171.3 103.6 L171.3 134.0 L173.3 134.0 L173.3 106.2 L175.7 106.2 L175.7 124.1 L178.5 124.1 L178.5 98.8 L180.3 98.8 L180.3 117.4 L182.1 117.4 L182.1 93.2 L184.5 93.2 L184.5 132.9 L186.9 132.9 L186.9 124.5 L188.3 124.5 L188.3 127.2 L190.7 127.2 L190.7 125.3 L192.7 125.3 L192.7 102.3 L195.5 102.3 L195.5 120.7 L198.3 120.7 L198.3 94.0 L200.3 94.0 L200.3 125.7 L203.1 125.7 L203.1 94.7 L204.9 94.7 L204.9 98.1 L206.7 98.1 L206.7 115.4 L208.7 115.4 L208.7 114.3 L210.1 114.3 L210.1 127.6 L212.1 127.6 L212.1 103.2 L213.9 103.2 L213.9 96.1 L216.3 96.1 L216.3 117.7 L218.1 117.7 L218.1 112.9 L220.5 112.9 L220.5 109.6 L222.3 109.6 L222.3 120.7 L224.3 120.7 L224.3 123.6 L226.1 123.6 L226.1 131.3 L228.1 131.3 L228.1 109.9 L229.9 109.9 L229.9 124.9 L231.7 124.9 L231.7 125.0 L233.1 125.0 L233.1 117.2 L234.9 117.2 L234.9 131.6 L236.7 131.6 L236.7 124.9 L238.5 124.9 L238.5 104.6 L240.9 104.6 L240.9 121.1 L243.7 121.1 L243.7 111.1 L245.5 111.1 L245.5 109.9 L247.9 109.9 L247.9 132.4 L249.3 132.4 L249.3 123.0 L250.7 123.0 L250.7 114.5 L252.7 114.5 L252.7 126.4 L254.7 126.4 L254.7 126.6 L256.1 126.6 L256.1 134.5 L258.5 134.5 L258.5 138.8 L259.9 138.8 L259.9 148.7 L261.9 148.7 L261.9 139.2 L263.7 139.2 L263.7 133.7 L265.7 133.7 L265.7 144.5 L267.7 144.5 L267.7 148.6 L270.5 148.6 L270.5 151.0 L271.9 151.0 L271.9 153.2 L274.7 153.2 L274.7 146.5 L276.5 146.5 L276.5 139.0 L278.5 139.0 L278.5 98.9 L281.3 98.9 L281.3 14.1 L283.7 14.1 L283.7 14.1 L285.7 14.1 L285.7 14.1 L287.1 14.1 L287.1 14.1 L288.5 14.1 L288.5 14.1 L290.9 14.1 L290.9 14.1 L292.3 14.1 L292.3 14.1 L295.1 14.1 L295.1 14.1 L296.5 14.1 L296.5 14.1 L298.9 14.1 L298.9 14.1 L300.9 14.1 L300.9 14.1 L302.7 14.1 L302.7 14.1 L304.5 14.1 L304.5 15.1 L307.3 15.1 L307.3 28.7 L309.1 28.7 L309.1 30.0 L310.9 30.0 L310.9 37.1 L313.7 37.1 L313.7 52.4 L315.5 52.4 L315.5 57.7 L318.3 57.7 L318.3 71.5 L320.1 71.5 L320.1 80.7 L321.9 80.7 L321.9 43.0 L323.3 43.0 L323.3 65.4 L325.1 65.4 L325.1 40.0 L326.5 40.0 L326.5 40.0 L328.5 40.0 L328.5 91.3 L330.5 91.3 L330.5 91.6 L331.9 91.6 L331.9 94.6 L333.3 94.6 L333.3 96.0 L334.7 96.0 L334.7 96.5 L336.5 96.5 L336.5 79.7 L338.5 79.7 L338.5 80.5 L340.3 80.5 L340.3 79.0 L343.1 79.0 L343.1 90.3 L345.9 90.3 L345.9 80.5 L347.7 80.5 L347.7 80.5 L349.5 80.5 L349.5 103.3 L352.3 103.3 L352.3 89.2 L353.7 89.2 L353.7 110.1 L355.7 110.1 L355.7 102.4 L357.7 102.4 L357.7 89.0 L359.1 89.0 L359.1 90.6 L360.9 90.6 L360.9 102.1 L362.7 102.1 L362.7 103.7 L365.1 103.7 L365.1 89.8 L366.5 89.8 L366.5 105.9 L367.9 105.9 L367.9 103.6 L370.3 103.6 L370.3 103.2 L372.3 103.2 L372.3 80.7 L374.7 80.7 L374.7 88.9 L377.5 88.9 L377.5 114.9 L379.5 114.9 L379.5 89.0 L380.9 89.0 L380.9 114.8 L382.3 114.8 L382.3 95.3 L384.7 95.3 L384.7 100.7 L386.5 100.7 L386.5 115.4 L388.3 115.4 L388.3 101.2 L389.7 101.2 L389.7 101.9 L391.5 101.9 L391.5 118.6 L393.3 118.6 L393.3 105.9 L394.7 105.9 L394.7 120.0 L396.7 120.0 L396.7 121.8 L398.5 121.8 L398.5 122.7 L400.9 122.7 L400.9 112.9 L402.3 112.9 L402.3 124.5 L403.7 124.5 L403.7 120.5 L405.1 120.5 L405.1 113.8 L406.5 113.8 L406.5 126.7 L408.3 126.7 L408.3 115.5 L410.1 115.5 L410.1 125.8 L412.5 125.8 L412.5 122.1 L413.9 122.1 L413.9 129.9 L415.9 129.9 L415.9 130.9 L417.3 130.9 L417.3 134.7 L418.7 134.7 L418.7 130.9 L421.5 130.9 L421.5 137.4 L422.9 137.4 L422.9 133.3 L424.9 133.3 L424.9 130.9 L426.9 130.9 L426.9 137.9 L428.3 137.9 L428.3 136.0 L431.1 136.0 L431.1 137.8 L433.9 137.8 L433.9 131.3 L436.3 131.3 L436.3 134.5 L437.7 134.5 L437.7 128.7 L440.5 128.7 L440.5 133.4 L442.3 133.4 L442.3 137.9 L445.1 137.9 L445.1 129.5 L446.9 129.5 L446.9 126.0 L449.3 126.0 L449.3 115.1 L451.1 115.1 L451.1 118.1 L453.1 118.1 L453.1 111.9 L455.9 111.9 L455.9 104.6 L458.7 104.6 L458.7 108.5 L460.1 108.5 L460.1 96.2 L462.9 96.2 L462.9 90.9 L464.9 90.9 L464.9 99.4 L466.7 99.4 L466.7 95.2 L469.5 95.2 L469.5 85.4 L470.9 85.4 L470.9 91.7 L472.7 91.7 L472.7 87.0 L475.1 87.0 L475.1 84.9 L477.1 84.9 L477.1 88.0 L479.1 88.0 L479.1 88.8 L481.5 88.8 L481.5 88.4 L483.5 88.4 L483.5 87.4 L485.3 87.4 L485.3 88.3 L487.7 88.3 L487.7 95.5 L489.5 95.5 L489.5 97.0 L492.3 97.0 L492.3 102.7 L494.7 102.7 L494.7 109.4 L496.5 109.4 L496.5 99.3 L499.3 99.3 L499.3 115.3 L500.7 115.3 L500.7 115.4 L502.5 115.4 L502.5 98.1 L504.9 98.1 L504.9 97.2 L507.7 97.2 L507.7 113.1 L510.1 113.1 L510.1 100.1 L511.9 100.1 L511.9 88.0 L514.3 88.0 L514.3 115.3 L516.1 115.3 L516.1 100.6 L517.9 100.6 L517.9 100.1 L520.3 100.1 L520.3 88.1 L521.7 88.1 L521.7 118.2 L523.5 118.2 L523.5 105.7 L525.3 105.7 L525.3 104.9 L528.1 104.9 L528.1 114.4 L530.9 114.4 L530.9 108.3 L532.3 108.3 L532.3 108.6 L534.7 108.6 L534.7 102.8 L536.5 102.8 L536.5 116.6 L537.9 116.6 L537.9 102.4 L539.7 102.4 L539.7 99.5 L541.1 99.5 L541.1 90.9 L543.1 90.9 L543.1 96.3 L544.5 96.3 L544.5 101.7 L547.3 101.7 L547.3 113.3 L550.1 113.3 L550.1 114.1 L552.9 114.1 L552.9 117.3 L554.9 117.3 L554.9 120.3 L556.9 120.3 L556.9 112.0 L558.3 112.0 L558.3 119.2 L561.1 119.2 L561.1 100.7 L563.9 100.7 L563.9 106.3 L566.7 106.3 L566.7 100.2 L569.5 100.2 L569.5 107.6 L571.5 107.6 L571.5 117.3 L572.9 117.3 L572.9 113.8 L574.3 113.8 L574.3 116.9 L577.1 116.9 L577.1 122.2 L578.9 122.2 L578.9 122.4 L581.7 122.4 L581.7 124.6 L583.1 124.6 L583.1 112.5 L585.1 112.5 L585.1 123.9 L587.1 123.9 L587.1 117.7 L588.9 117.7 L588.9 121.6 L590.3 121.6 L590.3 125.9 L593.1 125.9 L593.1 128.2 L594.5 128.2 L594.5 125.9 L596.9 125.9 L596.9 125.0 L599.7 125.0 L599.7 121.0 L602.5 121.0 L602.5 130.9 L604.5 130.9 L604.5 125.5 L605.9 125.5 L605.9 132.9 L607.3 132.9 L607.3 121.5 L610.1 121.5 L610.1 118.1 L611.5 118.1 L611.5 118.2 L614.3 118.2 L614.3 127.1 L616.3 127.1 L616.3 129.3 L618.7 129.3 L618.7 122.4 L620.1 122.4 L620.1 128.0 L622.1 128.0 L622.1 128.2 L624.1 128.2 L624.1 121.1 L625.5 121.1 L625.5 125.4 L627.9 125.4 L627.9 121.5 L630.7 121.5 L630.7 129.1 L633.1 129.1 L633.1 128.0 L634.9 128.0 L634.9 127.9 L636.7 127.9 L636.7 123.8 L639.5 123.8 L639.5 127.1 L641.5 127.1 L641.5 130.6 L643.5 130.6 L643.5 122.3 L644.9 122.3 L644.9 134.3 L647.3 134.3 L647.3 130.6 L649.7 130.6 L649.7 130.9 L651.5 130.9 L651.5 123.2 L653.9 123.2 L653.9 128.6 L656.7 128.6 L656.7 128.5 L659.1 128.5 L659.1 127.9 L661.1 127.9 L661.1 130.6 L662.5 130.6 L662.5 129.9 L664.5 129.9 L664.5 131.3 L666.5 131.3 L666.5 129.4 L668.9 129.4 L668.9 130.9 L670.9 130.9 L670.9 127.6 L673.7 127.6 L673.7 189.9 L670.9 189.9 L670.9 189.9 L668.9 189.9 L668.9 189.9 L666.5 189.9 L666.5 189.9 L664.5 189.9 L664.5 189.9 L662.5 189.9 L662.5 189.9 L661.1 189.9 L661.1 189.9 L659.1 189.9 L659.1 189.9 L656.7 189.9 L656.7 189.9 L653.9 189.9 L653.9 189.9 L651.5 189.9 L651.5 189.9 L649.7 189.9 L649.7 189.9 L647.3 189.9 L647.3 189.9 L644.9 189.9 L644.9 189.9 L643.5 189.9 L643.5 189.9 L641.5 189.9 L641.5 189.9 L639.5 189.9 L639.5 189.9 L636.7 189.9 L636.7 189.9 L634.9 189.9 L634.9 189.9 L633.1 189.9 L633.1 189.9 L630.7 189.9 L630.7 189.9 L627.9 189.9 L627.9 189.9 L625.5 189.9 L625.5 189.9 L624.1 189.9 L624.1 189.9 L622.1 189.9 L622.1 189.9 L620.1 189.9 L620.1 189.9 L618.7 189.9 L618.7 189.9 L616.3 189.9 L616.3 189.9 L614.3 189.9 L614.3 189.9 L611.5 189.9 L611.5 189.9 L610.1 189.9 L610.1 189.9 L607.3 189.9 L607.3 189.9 L605.9 189.9 L605.9 189.9 L604.5 189.9 L604.5 189.9 L602.5 189.9 L602.5 189.9 L599.7 189.9 L599.7 189.9 L596.9 189.9 L596.9 189.9 L594.5 189.9 L594.5 189.9 L593.1 189.9 L593.1 189.9 L590.3 189.9 L590.3 189.9 L588.9 189.9 L588.9 189.9 L587.1 189.9 L587.1 189.9 L585.1 189.9 L585.1 189.9 L583.1 189.9 L583.1 189.9 L581.7 189.9 L581.7 189.9 L578.9 189.9 L578.9 189.9 L577.1 189.9 L577.1 189.9 L574.3 189.9 L574.3 189.9 L572.9 189.9 L572.9 189.9 L571.5 189.9 L571.5 189.9 L569.5 189.9 L569.5 189.9 L566.7 189.9 L566.7 189.9 L563.9 189.9 L563.9 189.9 L561.1 189.9 L561.1 189.9 L558.3 189.9 L558.3 189.9 L556.9 189.9 L556.9 189.9 L554.9 189.9 L554.9 189.9 L552.9 189.9 L552.9 189.9 L550.1 189.9 L550.1 189.9 L547.3 189.9 L547.3 189.9 L544.5 189.9 L544.5 189.9 L543.1 189.9 L543.1 189.9 L541.1 189.9 L541.1 189.9 L539.7 189.9 L539.7 189.9 L537.9 189.9 L537.9 189.9 L536.5 189.9 L536.5 189.9 L534.7 189.9 L534.7 189.9 L532.3 189.9 L532.3 189.9 L530.9 189.9 L530.9 189.9 L528.1 189.9 L528.1 189.9 L525.3 189.9 L525.3 189.9 L523.5 189.9 L523.5 189.9 L521.7 189.9 L521.7 189.9 L520.3 189.9 L520.3 189.9 L517.9 189.9 L517.9 189.9 L516.1 189.9 L516.1 189.9 L514.3 189.9 L514.3 189.9 L511.9 189.9 L511.9 189.9 L510.1 189.9 L510.1 189.9 L507.7 189.9 L507.7 189.9 L504.9 189.9 L504.9 189.9 L502.5 189.9 L502.5 189.9 L500.7 189.9 L500.7 189.9 L499.3 189.9 L499.3 189.9 L496.5 189.9 L496.5 189.9 L494.7 189.9 L494.7 189.9 L492.3 189.9 L492.3 189.9 L489.5 189.9 L489.5 189.9 L487.7 189.9 L487.7 189.9 L485.3 189.9 L485.3 189.9 L483.5 189.9 L483.5 189.9 L481.5 189.9 L481.5 189.9 L479.1 189.9 L479.1 189.9 L477.1 189.9 L477.1 189.9 L475.1 189.9 L475.1 189.9 L472.7 189.9 L472.7 189.9 L470.9 189.9 L470.9 189.9 L469.5 189.9 L469.5 188.4 L466.7 188.4 L466.7 186.2 L464.9 186.2 L464.9 185.5 L462.9 185.5 L462.9 186.8 L460.1 186.8 L460.1 186.8 L458.7 186.8 L458.7 185.6 L455.9 185.6 L455.9 184.1 L453.1 184.1 L453.1 182.9 L451.1 182.9 L451.1 185.1 L449.3 185.1 L449.3 182.3 L446.9 182.3 L446.9 184.9 L445.1 184.9 L445.1 177.9 L442.3 177.9 L442.3 178.9 L440.5 178.9 L440.5 174.5 L437.7 174.5 L437.7 179.5 L436.3 179.5 L436.3 177.0 L433.9 177.0 L433.9 175.5 L431.1 175.5 L431.1 179.9 L428.3 179.9 L428.3 176.4 L426.9 176.4 L426.9 175.4 L424.9 175.4 L424.9 178.5 L422.9 178.5 L422.9 179.6 L421.5 179.6 L421.5 176.7 L418.7 176.7 L418.7 176.9 L417.3 176.9 L417.3 177.4 L415.9 177.4 L415.9 178.9 L413.9 178.9 L413.9 174.1 L412.5 174.1 L412.5 175.7 L410.1 175.7 L410.1 176.3 L408.3 176.3 L408.3 172.1 L406.5 172.1 L406.5 171.4 L405.1 171.4 L405.1 174.3 L403.7 174.3 L403.7 175.0 L402.3 175.0 L402.3 170.3 L400.9 170.3 L400.9 170.7 L398.5 170.7 L398.5 172.7 L396.7 172.7 L396.7 170.8 L394.7 170.8 L394.7 174.0 L393.3 174.0 L393.3 171.7 L391.5 171.7 L391.5 171.9 L389.7 171.9 L389.7 172.5 L388.3 172.5 L388.3 172.8 L386.5 172.8 L386.5 174.1 L384.7 174.1 L384.7 169.9 L382.3 169.9 L382.3 173.9 L380.9 173.9 L380.9 173.0 L379.5 173.0 L379.5 169.9 L377.5 169.9 L377.5 173.5 L374.7 173.5 L374.7 170.0 L372.3 170.0 L372.3 173.4 L370.3 173.4 L370.3 169.6 L367.9 169.6 L367.9 169.7 L366.5 169.7 L366.5 172.2 L365.1 172.2 L365.1 172.1 L362.7 172.1 L362.7 173.1 L360.9 173.1 L360.9 174.3 L359.1 174.3 L359.1 169.5 L357.7 169.5 L357.7 169.3 L355.7 169.3 L355.7 173.3 L353.7 173.3 L353.7 172.8 L352.3 172.8 L352.3 169.4 L349.5 169.4 L349.5 172.0 L347.7 172.0 L347.7 169.0 L345.9 169.0 L345.9 170.9 L343.1 170.9 L343.1 170.4 L340.3 170.4 L340.3 168.0 L338.5 168.0 L338.5 172.3 L336.5 172.3 L336.5 171.2 L334.7 171.2 L334.7 168.1 L333.3 168.1 L333.3 172.4 L331.9 172.4 L331.9 168.3 L330.5 168.3 L330.5 172.2 L328.5 172.2 L328.5 170.6 L326.5 170.6 L326.5 165.6 L325.1 165.6 L325.1 169.4 L323.3 169.4 L323.3 165.7 L321.9 165.7 L321.9 166.8 L320.1 166.8 L320.1 166.7 L318.3 166.7 L318.3 168.2 L315.5 168.2 L315.5 159.3 L313.7 159.3 L313.7 165.9 L310.9 165.9 L310.9 161.6 L309.1 161.6 L309.1 160.5 L307.3 160.5 L307.3 156.1 L304.5 156.1 L304.5 161.1 L302.7 161.1 L302.7 153.2 L300.9 153.2 L300.9 157.9 L298.9 157.9 L298.9 153.3 L296.5 153.3 L296.5 152.0 L295.1 152.0 L295.1 147.5 L292.3 147.5 L292.3 145.1 L290.9 145.1 L290.9 145.6 L288.5 145.6 L288.5 157.6 L287.1 157.6 L287.1 162.5 L285.7 162.5 L285.7 168.9 L283.7 168.9 L283.7 178.2 L281.3 178.2 L281.3 187.6 L278.5 187.6 L278.5 189.9 L276.5 189.9 L276.5 189.9 L274.7 189.9 L274.7 189.9 L271.9 189.9 L271.9 189.9 L270.5 189.9 L270.5 189.9 L267.7 189.9 L267.7 189.9 L265.7 189.9 L265.7 189.9 L263.7 189.9 L263.7 189.9 L261.9 189.9 L261.9 189.9 L259.9 189.9 L259.9 189.9 L258.5 189.9 L258.5 189.9 L256.1 189.9 L256.1 189.9 L254.7 189.9 L254.7 189.9 L252.7 189.9 L252.7 189.9 L250.7 189.9 L250.7 189.9 L249.3 189.9 L249.3 189.9 L247.9 189.9 L247.9 189.9 L245.5 189.9 L245.5 189.9 L243.7 189.9 L243.7 189.9 L240.9 189.9 L240.9 189.9 L238.5 189.9 L238.5 189.9 L236.7 189.9 L236.7 189.9 L234.9 189.9 L234.9 189.9 L233.1 189.9 L233.1 189.9 L231.7 189.9 L231.7 189.9 L229.9 189.9 L229.9 189.9 L228.1 189.9 L228.1 189.9 L226.1 189.9 L226.1 189.9 L224.3 189.9 L224.3 189.9 L222.3 189.9 L222.3 189.9 L220.5 189.9 L220.5 189.9 L218.1 189.9 L218.1 189.9 L216.3 189.9 L216.3 189.9 L213.9 189.9 L213.9 189.9 L212.1 189.9 L212.1 189.9 L210.1 189.9 L210.1 189.9 L208.7 189.9 L208.7 189.9 L206.7 189.9 L206.7 189.9 L204.9 189.9 L204.9 189.9 L203.1 189.9 L203.1 189.9 L200.3 189.9 L200.3 189.9 L198.3 189.9 L198.3 189.9 L195.5 189.9 L195.5 189.9 L192.7 189.9 L192.7 189.9 L190.7 189.9 L190.7 189.9 L188.3 189.9 L188.3 189.9 L186.9 189.9 L186.9 189.9 L184.5 189.9 L184.5 189.9 L182.1 189.9 L182.1 189.9 L180.3 189.9 L180.3 189.9 L178.5 189.9 L178.5 189.9 L175.7 189.9 L175.7 189.9 L173.3 189.9 L173.3 189.9 L171.3 189.9 L171.3 189.9 L169.3 189.9 L169.3 189.9 L166.9 189.9 L166.9 189.9 L164.5 189.9 L164.5 189.9 L163.1 189.9 L163.1 189.9 L160.3 189.9 L160.3 189.9 L157.5 189.9 L157.5 189.9 L155.5 189.9 L155.5 189.9 L153.1 189.9 L153.1 189.9 L151.7 189.9 L151.7 189.9 L149.9 189.9 L149.9 189.9 L147.9 189.9 L147.9 189.9 L145.1 189.9 L145.1 189.9 L142.3 189.9 L142.3 189.9 L140.5 189.9 L140.5 189.9 L137.7 189.9 L137.7 189.9 L136.3 189.9 L136.3 189.9 L133.5 189.9 L133.5 189.9 L131.5 189.9 L131.5 189.9 L129.7 189.9 L129.7 189.9 L127.3 189.9 L127.3 189.9 L124.9 189.9 L124.9 189.9 L122.5 189.9 L122.5 189.9 L119.7 189.9 L119.7 189.9 L116.9 189.9 L116.9 189.9 L114.9 189.9 L114.9 189.9 L112.1 189.9 L112.1 189.9 L109.7 189.9 L109.7 189.9 L108.3 189.9 L108.3 189.9 L106.9 189.9 L106.9 189.9 L105.5 189.9 L105.5 189.9 L104.1 189.9 L104.1 189.9 L101.7 189.9 L101.7 189.9 L98.9 189.9 L98.9 189.9 L97.1 189.9 L97.1 189.9 L95.7 189.9 L95.7 189.9 L93.9 189.9 L93.9 189.9 L91.9 189.9 L91.9 189.9 L90.5 189.9 L90.5 189.9 L87.7 189.9 L87.7 189.9 L86.3 189.9 L86.3 189.9 L83.5 189.9 L83.5 189.9 L81.7 189.9 L81.7 189.9 L79.3 189.9 L79.3 189.9 L77.5 189.9 L77.5 189.9 L75.5 189.9 L75.5 189.9 L73.5 189.9 L73.5 189.9 L71.7 189.9 L71.7 189.9 L68.9 189.9 L68.9 189.9 L66.5 189.9 L66.5 189.9 L64.1 189.9 L64.1 189.9 L62.7 189.9 L62.7 189.9 L60.3 189.9 L60.3 189.9 L58.3 189.9 L58.3 189.9 L55.5 189.9 L55.5 189.9 L53.5 189.9 Z" fill="#ff4500" fill-opacity="0.2"/>
<path d="M53.3 164.0 L54.0 163.5 L54.7 163.5 L55.6 163.5 L56.5 163.8 L57.5 163.2 L58.4 163.3 L59.3 163.2 L60.3 163.1 L61.2 163.1 L62.1 163.2 L63.1 163.4 L64.0 163.3 L64.9 163.5 L65.9 163.3 L66.8 162.4 L67.8 163.1 L68.7 163.0 L69.6 162.7 L70.6 162.9 L71.5 162.9 L72.4 162.8 L73.4 162.4 L74.3 162.6 L75.2 162.3 L76.1 163.0 L77.0 162.7 L77.8 162.8 L78.7 163.0 L79.6 163.3 L80.5 163.3 L81.4 163.5 L82.3 162.5 L83.2 163.0 L84.1 163.3 L85.0 163.4 L85.9 163.9 L86.8 163.5 L87.7 163.5 L88.6 162.9 L89.5 163.2 L90.4 162.8 L91.3 162.6 L92.2 163.7 L93.1 163.7 L94.0 163.5 L94.9 163.5 L95.8 162.9 L96.7 162.7 L97.6 163.0 L98.5 162.3 L99.4 162.5 L100.3 162.0 L101.2 162.3 L102.1 161.9 L103.0 162.6 L103.9 162.7 L104.8 162.2 L105.7 161.4 L106.6 161.3 L107.5 161.4 L108.4 161.1 L109.3 161.5 L110.2 161.9 L111.1 161.8 L112.0 161.7 L112.9 162.0 L113.8 161.8 L114.7 162.1 L115.6 161.9 L116.5 162.4 L117.4 162.2 L118.3 161.8 L119.2 161.9 L120.1 161.8 L121.0 161.6 L121.9 161.8 L122.8 162.1 L123.7 161.5 L124.6 161.7 L125.5 161.8 L126.4 161.9 L127.3 162.2 L128.2 161.8 L129.1 162.1 L130.0 162.0 L130.9 162.1 L131.8 162.0 L132.7 162.0 L133.5 161.9 L134.4 162.2 L135.3 162.9 L136.2 162.9 L137.1 162.9 L138.0 162.8 L138.9 162.5 L139.8 162.7 L140.7 163.2 L141.6 162.5 L142.5 162.8 L143.4 163.0 L144.3 162.9 L145.2 162.9 L146.1 163.1 L147.0 163.5 L147.9 163.3 L148.8 163.4 L149.7 163.0 L150.6 162.9 L151.5 162.6 L152.4 162.5 L153.3 162.2 L154.2 162.4 L155.1 162.7 L156.0 162.4 L156.9 162.4 L157.8 162.5 L158.7 162.4 L159.6 162.7 L160.5 162.6 L161.4 162.2 L162.3 162.0 L163.2 162.4 L164.1 162.7 L165.0 163.0 L165.9 162.9 L166.8 162.8 L167.7 162.1 L168.6 162.5 L169.5 161.9 L170.4 162.1 L171.3 161.5 L172.2 161.2 L173.1 161.2 L174.0 161.0 L174.9 160.7 L175.8 160.9 L176.7 160.9 L177.6 160.7 L178.5 160.3 L179.4 160.1 L180.3 160.2 L181.2 160.3 L182.1 160.5 L183.0 160.9 L183.9 160.9 L184.8 160.8 L185.7 160.8 L186.6 161.5 L187.5 161.5 L188.3 161.6 L189.2 161.7 L190.1 161.9 L191.1 161.9 L192.0 162.1 L192.9 162.2 L193.9 161.1 L194.8 161.3 L195.8 162.4 L196.7 161.7 L197.6 161.7 L198.6 162.0 L199.5 161.9 L200.0 162.2 L200.9 161.8 L201.8 161.7 L202.6 162.0 L203.5 162.1 L204.4 162.2 L205.3 162.8 L206.1 163.1 L207.0 163.3 L207.9 163.1 L208.8 163.2 L209.6 163.0 L210.5 162.7 L211.4 162.9 L212.3 162.9 L213.1 162.8 L214.0 162.9 L214.9 162.2 L215.8 162.1 L216.7 161.8 L217.6 162.2 L218.6 162.0 L219.5 162.3 L220.4 162.3 L221.3 161.6 L222.2 160.9 L223.2 161.3 L224.1 161.3 L225.1 161.5 L226.1 161.4 L227.1 161.9 L228.0 162.2 L228.9 162.5 L229.8 162.7 L230.7 162.6 L231.5 162.2 L232.4 162.7 L233.3 162.9 L234.2 163.2 L235.0 163.8 L235.9 163.6 L236.8 163.8 L237.7 163.5 L238.5 163.3 L239.4 163.1 L240.3 163.0 L241.2 162.2 L242.0 162.4 L242.9 162.5 L243.8 162.2 L244.7 162.7 L245.5 162.9 L246.4 163.3 L247.3 163.5 L248.2 163.5 L249.1 163.0 L249.9 164.0 L250.8 164.5 L251.7 164.8 L252.6 164.9 L253.4 165.4 L254.3 165.2 L255.2 165.6 L256.1 165.8 L256.9 165.8 L257.8 166.3 L258.7 166.8 L259.6 167.6 L260.4 168.0 L261.3 167.6 L262.2 167.4 L263.1 168.1 L263.9 168.4 L264.8 168.4 L265.7 168.3 L266.6 168.7 L267.4 168.8 L268.3 169.0 L269.2 169.7 L270.1 169.9 L270.9 169.5 L271.8 169.1 L272.6 169.1 L273.4 169.7 L274.3 169.2 L275.2 167.4 L276.1 164.6 L277.1 162.1 L277.9 156.9 L278.6 151.1 L279.4 145.7 L280.2 136.0 L281.0 127.1 L281.8 118.1 L282.5 106.9 L283.3 96.0 L284.1 85.0 L285.0 74.4 L286.0 65.7 L286.8 63.9 L287.6 62.2 L288.4 62.5 L289.1 62.8 L289.9 63.7 L290.7 64.4 L291.5 65.9 L292.3 67.4 L293.0 70.9 L293.8 74.7 L294.6 77.9 L295.5 80.5 L296.4 83.3 L297.2 86.6 L298.1 89.9 L299.0 91.7 L300.0 93.7 L300.9 94.9 L301.8 96.7 L302.8 98.4 L303.7 99.5 L304.6 100.6 L305.6 102.3 L306.5 103.4 L307.4 104.8 L308.4 106.0 L309.3 108.1 L310.2 109.3 L311.2 110.5 L312.1 111.8 L313.1 113.0 L314.0 114.2 L314.9 114.9 L315.9 116.0 L316.8 117.6 L317.7 118.7 L318.7 119.0 L319.6 119.8 L320.5 120.4 L321.5 120.5 L322.4 121.9 L323.3 123.0 L324.3 124.7 L325.2 125.8 L326.1 127.0 L327.0 128.1 L327.9 129.8 L328.8 130.8 L329.6 132.6 L330.6 133.4 L331.5 133.2 L332.4 133.8 L333.4 134.4 L334.3 134.3 L335.3 134.7 L336.3 134.6 L337.2 134.4 L338.2 133.8 L339.2 133.9 L340.1 133.8 L341.1 135.2 L342.0 135.6 L342.9 135.8 L343.9 135.7 L344.8 136.8 L345.8 136.8 L346.7 137.7 L347.6 138.4 L348.6 138.6 L349.5 138.8 L350.0 137.6 L350.9 138.3 L351.9 139.7 L352.8 141.3 L353.7 142.5 L354.7 143.6 L355.6 143.9 L356.5 144.7 L357.5 145.2 L358.4 145.9 L359.3 147.0 L360.3 147.5 L361.2 147.0 L362.1 146.5 L363.1 145.6 L364.0 145.6 L364.9 145.0 L365.9 144.2 L366.8 143.6 L367.8 143.5 L368.7 143.1 L369.6 143.3 L370.6 142.9 L371.5 142.7 L372.4 143.0 L373.4 142.8 L374.3 143.0 L375.3 143.4 L376.3 143.3 L377.3 143.0 L378.2 143.0 L379.2 142.9 L380.2 143.4 L381.1 143.5 L382.1 143.8 L383.1 144.2 L384.1 143.9 L385.0 144.2 L386.0 145.0 L387.0 145.3 L388.0 146.0 L388.9 146.2 L389.9 146.3 L390.9 146.8 L391.8 147.2 L392.6 148.6 L393.5 149.4 L394.4 150.7 L395.4 150.4 L396.3 150.8 L397.3 151.1 L398.3 151.2 L399.2 151.5 L400.2 151.5 L401.2 151.2 L402.2 151.0 L403.1 151.1 L404.1 151.1 L405.1 151.4 L406.1 151.4 L407.0 151.5 L407.9 151.7 L408.9 151.5 L409.8 152.0 L410.7 152.6 L411.7 153.1 L412.6 154.0 L413.5 155.2 L414.5 155.8 L415.4 156.7 L416.3 157.2 L417.3 158.7 L418.2 159.4 L419.1 160.0 L420.1 160.0 L421.0 159.7 L421.9 159.0 L422.9 158.6 L423.8 157.9 L424.7 157.5 L425.7 157.1 L426.7 157.1 L427.7 157.4 L428.6 156.6 L429.6 156.0 L430.6 156.2 L431.6 156.6 L432.5 156.5 L433.5 156.8 L434.5 157.0 L435.5 157.2 L436.4 157.6 L437.4 157.4 L438.3 157.7 L439.2 157.9 L440.2 157.9 L441.1 158.3 L442.0 157.8 L443.0 157.4 L443.9 158.0 L444.8 157.6 L445.8 158.3 L446.7 158.3 L447.6 157.9 L448.6 157.5 L449.5 156.8 L450.4 157.0 L451.4 156.3 L452.3 156.6 L453.2 155.6 L454.2 155.4 L455.1 154.2 L456.0 153.8 L457.0 153.8 L457.9 152.9 L458.8 152.0 L459.8 151.3 L460.7 151.1 L461.6 150.9 L462.6 150.3 L463.5 149.2 L464.5 149.1 L465.4 149.3 L466.4 149.7 L467.4 149.2 L468.3 148.8 L469.3 148.3 L470.3 148.4 L471.3 149.0 L472.2 148.6 L473.2 148.8 L474.2 148.6 L475.2 148.7 L476.1 149.0 L477.1 149.5 L478.0 149.5 L478.9 149.8 L479.9 150.5 L480.8 150.8 L481.8 151.0 L482.7 151.0 L483.7 150.9 L484.7 151.1 L485.7 151.3 L486.6 151.3 L487.6 151.8 L488.6 151.9 L489.6 152.4 L490.5 152.5 L491.5 152.9 L492.5 152.8 L493.5 152.9 L494.4 153.0 L495.4 153.9 L496.4 154.3 L497.3 154.6 L498.3 155.0 L499.2 154.7 L500.0 154.9 L500.9 154.9 L501.8 154.7 L502.7 155.1 L503.6 155.2 L504.5 156.1 L505.4 156.0 L506.3 156.1 L507.2 156.7 L508.1 156.9 L509.0 156.4 L509.9 156.5 L510.8 156.3 L511.7 156.9 L512.6 156.4 L513.5 156.1 L514.4 155.4 L515.3 155.5 L516.2 156.4 L517.1 156.7 L518.0 156.7 L518.9 157.3 L519.8 157.6 L520.7 158.0 L521.6 159.1 L522.5 159.8 L523.4 160.2 L524.3 160.6 L525.2 159.9 L526.1 159.2 L527.0 159.7 L527.9 159.8 L528.8 159.9 L529.7 159.9 L530.6 160.1 L531.5 160.3 L532.4 160.3 L533.3 160.3 L534.2 160.0 L535.1 159.8 L536.0 160.2 L536.9 159.9 L537.8 160.4 L538.7 160.2 L539.6 159.9 L540.5 160.0 L541.4 159.8 L542.3 159.8 L543.2 159.8 L544.1 160.0 L545.0 160.4 L545.9 161.1 L546.8 161.1 L547.7 160.7 L548.6 160.6 L549.5 160.3 L550.4 161.0 L551.3 161.5 L552.2 161.6 L553.1 161.8 L554.0 162.0 L554.9 162.2 L555.8 162.4 L556.7 162.5 L557.6 162.0 L558.5 162.3 L559.4 162.6 L560.3 161.8 L561.2 161.8 L562.1 161.5 L563.0 161.8 L563.9 161.7 L564.8 162.1 L565.7 162.3 L566.6 161.8 L567.5 161.6 L568.4 161.6 L569.3 162.0 L570.2 161.8 L571.1 162.2 L572.0 162.0 L572.9 162.6 L573.8 162.9 L574.7 162.6 L575.6 162.6 L576.5 163.0 L577.4 163.4 L578.3 162.7 L579.2 163.4 L580.1 164.3 L581.0 164.2 L581.9 164.0 L582.8 164.8 L583.7 165.0 L584.6 165.1 L585.5 165.4 L586.4 165.0 L587.3 165.0 L588.2 164.9 L589.1 164.9 L590.0 165.2 L590.9 165.2 L591.8 166.1 L592.7 166.3 L593.6 166.5 L594.5 165.9 L595.4 166.1 L596.3 166.2 L597.2 166.3 L598.1 166.5 L599.0 166.3 L599.9 166.1 L600.8 166.6 L601.7 167.3 L602.6 167.7 L603.5 167.2 L604.4 166.8 L605.3 166.8 L606.2 166.9 L607.1 167.3 L608.0 166.9 L608.9 166.5 L609.8 166.8 L610.7 166.4 L611.6 166.2 L612.5 166.4 L613.4 166.3 L614.3 166.0 L615.2 166.0 L616.1 166.0 L617.0 166.1 L617.9 166.0 L618.8 166.4 L619.7 166.4 L620.6 166.3 L621.5 166.8 L622.4 166.5 L623.3 166.9 L624.2 167.1 L625.1 167.0 L626.0 167.1 L626.9 166.6 L627.8 166.9 L628.7 166.6 L629.6 166.5 L630.5 166.8 L631.4 166.6 L632.3 166.8 L633.2 166.9 L634.1 167.2 L635.0 167.2 L635.9 167.3 L636.8 166.8 L637.7 166.7 L638.6 167.0 L639.5 167.4 L640.4 167.5 L641.3 167.3 L642.2 167.0 L643.1 167.0 L644.0 167.7 L644.9 167.4 L645.8 167.6 L646.7 168.0 L647.6 168.2 L648.5 168.0 L649.4 168.8 L650.3 168.7 L651.2 168.8 L652.1 169.1 L653.0 168.9 L653.9 169.2 L654.8 169.2 L655.7 169.0 L656.6 168.9 L657.5 169.4 L658.4 169.6 L659.3 169.7 L660.2 169.6 L661.2 169.7 L662.1 170.0 L663.0 170.3 L663.9 170.1 L664.8 170.1 L665.7 169.5 L666.6 169.4 L667.5 169.5 L668.4 169.6 L669.3 170.1 L670.2 169.5 L671.1 170.0 L672.0 170.3" fill="none" stroke="#ff4500" stroke-width="2.1" stroke-linejoin="round"/>
</g>
<line x1="53.5" x2="672.5" y1="545.3" y2="545.3" stroke="#000" stroke-width="1.6"/>
<line x1="53.5" x2="672.5" y1="747.6" y2="747.6" stroke="#000" stroke-width="1.6"/>
<g clip-path="url(#cpb)">
<path d="M53.3 310.3 L54.2 310.7 L55.1 311.8 L56.1 312.0 L57.0 313.7 L57.9 313.6 L58.8 312.1 L59.6 310.6 L60.5 310.6 L61.4 308.9 L62.4 308.5 L63.3 307.9 L64.2 307.0 L65.2 306.0 L66.1 307.0 L66.9 308.7 L67.8 310.2 L68.7 310.7 L69.6 313.4 L70.6 315.3 L71.5 316.2 L72.4 317.9 L73.4 319.6 L74.3 320.1 L75.2 321.6 L76.2 322.3 L77.1 322.4 L78.0 323.1 L79.0 322.5 L79.9 321.2 L80.8 320.2 L81.8 318.3 L82.7 318.1 L83.6 315.8 L84.5 314.4 L85.3 313.4 L86.2 311.2 L87.1 309.0 L88.0 308.4 L88.8 307.6 L89.7 306.6 L90.6 306.4 L91.5 307.2 L92.3 306.6 L93.2 306.5 L94.1 309.1 L95.0 312.1 L95.8 314.3 L96.7 315.5 L97.6 318.7 L98.5 322.1 L99.3 324.8 L100.2 327.3 L101.2 328.7 L102.2 330.0 L103.2 330.9 L104.2 332.6 L105.0 330.3 L105.9 328.5 L106.7 325.6 L107.6 323.6 L108.4 321.8 L109.3 320.1 L110.3 317.8 L111.2 315.9 L112.1 315.5 L113.1 313.5 L114.0 313.3 L114.9 312.3 L115.9 311.5 L116.8 310.9 L117.7 310.0 L118.5 309.1 L119.3 308.5 L120.1 308.8 L120.9 309.8 L121.8 311.3 L122.7 312.6 L123.6 313.8 L124.5 314.7 L125.5 316.5 L126.5 317.0 L127.5 317.8 L128.4 318.5 L129.4 319.1 L130.4 320.2 L131.3 321.7 L132.2 321.3 L133.2 322.9 L134.1 323.3 L135.0 324.2 L136.0 324.7 L136.9 324.4 L137.8 323.4 L138.8 323.1 L139.7 321.3 L140.6 320.3 L141.6 319.0 L142.5 316.7 L143.4 315.5 L144.4 315.4 L145.3 316.2 L146.2 316.5 L147.2 316.4 L148.1 315.9 L149.0 315.9 L150.0 317.6 L150.9 317.4 L151.8 318.5 L152.8 319.6 L153.6 318.9 L154.5 318.1 L155.4 316.9 L156.3 316.8 L157.2 317.8 L158.1 317.4 L159.1 319.2 L160.0 319.9 L160.9 320.0 L161.9 319.6 L162.9 322.1 L163.9 323.6 L164.8 323.9 L165.8 324.4 L166.8 325.9 L167.7 325.7 L168.7 324.8 L169.6 324.1 L170.5 322.6 L171.5 321.9 L172.4 321.7 L173.3 321.3 L174.3 319.6 L175.2 319.3 L176.1 317.2 L177.1 318.3 L178.0 319.8 L178.9 319.6 L179.9 319.4 L180.8 320.8 L181.7 319.4 L182.7 319.7 L183.6 319.3 L184.5 319.4 L185.5 318.9 L186.4 317.5 L187.2 314.8 L188.1 311.7 L189.0 309.6 L189.9 309.1 L190.7 309.3 L191.6 308.8 L192.5 309.2 L193.4 306.7 L194.2 306.0 L195.1 303.6 L196.0 301.6 L196.8 302.3 L197.6 305.3 L198.4 300.8 L199.2 296.7 L200.0 293.2 L200.9 293.3 L201.8 293.2 L202.6 293.9 L203.5 294.6 L204.5 290.4 L205.5 286.6 L206.5 282.1 L207.5 283.2 L208.4 285.3 L209.3 286.8 L210.1 285.2 L210.9 284.6 L211.7 284.5 L212.6 286.3 L213.4 289.3 L214.3 291.0 L215.2 294.5 L216.1 292.0 L216.9 289.3 L217.8 286.6 L218.7 283.4 L219.7 281.6 L220.7 280.6 L221.7 278.6 L222.6 280.2 L223.5 282.8 L224.4 281.8 L225.2 283.5 L226.0 289.9 L226.8 296.0 L227.6 302.1 L228.5 305.8 L229.4 309.9 L230.4 312.8 L231.3 312.6 L232.2 313.9 L233.2 314.6 L234.1 316.2 L235.0 317.4 L236.0 317.3 L236.9 317.5 L237.8 318.2 L238.8 319.0 L239.7 319.8 L240.6 319.9 L241.6 319.6 L242.5 320.4 L243.4 321.2 L244.4 321.1 L245.3 322.7 L246.2 323.0 L247.2 323.6 L248.1 324.1 L249.1 323.9 L249.9 323.8 L250.8 324.1 L251.7 323.7 L252.6 323.1 L253.4 323.6 L254.3 323.6 L255.2 324.1 L256.1 323.5 L256.9 322.5 L257.8 321.2 L258.7 319.7 L259.6 318.8 L260.6 319.4 L261.6 320.0 L262.6 320.3 L263.5 319.8 L264.5 320.2 L265.4 318.6 L266.3 319.9 L267.3 322.2 L268.2 323.3 L269.0 322.5 L269.9 322.4 L270.7 322.5 L271.6 322.8 L272.4 322.9 L273.2 324.1 L274.0 324.5 L274.7 326.5 L275.7 319.0 L276.6 310.7 L277.4 309.9 L278.2 308.6 L279.0 311.3 L279.8 314.8 L280.6 318.3 L281.4 321.2 L282.1 322.8 L282.9 325.3 L283.7 329.7 L284.5 335.1 L285.3 341.8 L286.1 340.6 L287.0 341.2 L287.9 342.2 L288.8 342.0 L289.7 342.5 L290.6 344.0 L291.6 344.4 L292.5 344.6 L293.4 346.8 L294.4 346.9 L295.3 347.2 L296.2 348.2 L297.2 347.9 L298.1 347.2 L299.0 347.0 L300.0 346.7 L300.9 346.3 L301.8 346.5 L302.8 345.0 L303.7 345.7 L304.6 344.9 L305.6 343.5 L306.5 342.7 L307.4 341.3 L308.4 341.7 L309.3 341.0 L310.2 340.6 L311.2 340.7 L312.1 339.8 L313.1 341.2 L314.0 341.1 L314.9 340.9 L315.9 341.3 L316.8 341.2 L317.6 340.9 L318.5 340.5 L319.3 339.8 L320.2 339.0 L321.0 337.9 L321.9 339.4 L322.9 341.3 L323.8 343.2 L324.7 342.5 L325.7 341.9 L326.6 341.1 L327.5 340.7 L328.5 340.6 L329.3 340.2 L330.2 338.1 L331.0 336.8 L331.9 336.4 L332.7 333.9 L333.6 332.8 L334.6 335.6 L335.6 338.6 L336.6 341.0 L337.5 341.3 L338.4 342.9 L339.3 342.8 L340.1 342.9 L341.1 343.1 L342.0 342.4 L342.9 341.2 L343.9 341.3 L344.8 340.0 L345.8 337.9 L346.7 335.0 L347.6 334.7 L348.4 334.3 L349.2 335.2 L350.0 334.9 L350.9 337.4 L351.8 338.7 L352.6 340.1 L353.5 341.4 L354.4 340.9 L355.3 341.1 L356.1 340.9 L357.0 340.6 L357.9 340.5 L358.8 339.7 L359.6 339.3 L360.5 338.2 L361.3 339.7 L362.1 343.1 L362.8 344.3 L363.9 347.0 L364.9 350.5 L365.9 354.6 L366.9 355.1 L367.9 355.5 L368.9 355.9 L369.9 356.8 L370.8 357.0 L371.7 356.9 L372.7 357.1 L373.6 358.5 L374.5 359.6 L375.4 358.3 L376.3 357.5 L377.2 356.4 L378.0 355.3 L379.0 353.6 L379.9 350.1 L380.8 347.0 L381.8 345.6 L382.7 344.2 L383.6 342.1 L384.6 339.5 L385.5 339.0 L386.4 339.8 L387.4 339.8 L388.2 342.4 L388.9 344.1 L389.7 345.4 L390.6 345.6 L391.6 345.8 L392.5 346.3 L393.4 347.0 L394.4 347.0 L395.3 345.9 L396.1 344.5 L397.0 343.8 L397.9 341.8 L398.7 340.7 L399.4 339.6 L400.2 337.5 L401.2 338.9 L402.2 342.6 L403.3 344.8 L404.2 345.7 L405.2 347.4 L406.2 348.1 L407.2 348.9 L408.2 351.7 L409.3 352.8 L410.3 354.0 L411.2 351.4 L412.1 348.9 L413.1 347.6 L413.9 346.1 L414.8 346.0 L415.7 344.8 L416.6 343.9 L417.4 344.0 L418.3 344.3 L419.2 342.4 L420.1 341.7 L420.9 343.7 L421.8 344.9 L422.7 345.1 L423.6 347.2 L424.6 350.4 L425.6 352.8 L426.6 355.5 L427.6 355.1 L428.6 354.7 L429.6 355.3 L430.6 354.7 L431.5 354.4 L432.3 356.4 L433.2 355.4 L434.1 356.0 L435.0 356.6 L436.0 357.3 L436.9 357.6 L437.8 358.5 L438.8 358.0 L439.7 358.5 L440.6 357.8 L441.6 358.4 L442.5 357.7 L443.4 357.4 L444.3 356.2 L445.2 354.8 L446.1 353.6 L446.9 352.5 L447.7 354.2 L448.5 354.4 L449.3 355.2 L450.1 357.2 L451.0 358.3 L451.9 359.8 L452.8 361.7 L453.6 358.4 L454.5 357.0 L455.4 355.5 L456.3 354.3 L457.2 353.6 L458.0 352.4 L458.9 351.8 L459.8 350.6 L460.7 349.1 L461.6 348.9 L462.6 348.2 L463.5 347.2 L464.5 346.9 L465.3 347.5 L466.2 348.5 L467.1 349.8 L468.0 350.3 L468.8 349.4 L469.7 348.5 L470.6 347.6 L471.5 347.0 L472.4 347.9 L473.3 348.3 L474.3 348.9 L475.2 350.1 L476.1 350.0 L477.1 348.0 L478.0 346.6 L478.9 344.8 L479.9 342.8 L480.8 340.5 L481.7 339.7 L482.7 340.4 L483.6 338.4 L484.5 338.2 L485.5 337.9 L486.4 339.4 L487.3 339.3 L488.3 341.4 L489.2 342.2 L490.1 342.9 L491.1 343.2 L492.0 343.0 L492.9 343.2 L493.9 342.9 L494.8 341.8 L495.7 341.2 L496.6 340.3 L497.4 338.6 L498.3 335.9 L499.2 334.7 L500.0 333.8 L500.8 333.7 L501.6 334.0 L502.4 334.1 L503.2 332.1 L504.1 331.1 L504.9 331.2 L505.7 331.6 L506.5 333.1 L507.3 332.8 L508.1 333.7 L508.9 334.3 L509.7 333.6 L510.5 333.2 L511.3 332.7 L512.2 332.1 L513.0 332.0 L513.8 333.2 L514.6 332.6 L515.4 333.0 L516.2 334.4 L517.0 334.8 L517.8 334.9 L518.6 335.4 L519.4 336.3 L520.3 337.9 L521.1 337.3 L521.9 338.1 L522.7 338.5 L523.5 337.7 L524.3 337.9 L525.1 337.3 L525.9 336.2 L526.7 335.4 L527.5 334.6 L528.4 333.5 L529.3 333.4 L530.2 333.9 L531.1 334.3 L532.0 334.1 L532.9 334.1 L533.8 333.6 L534.6 333.0 L535.4 333.5 L536.2 333.7 L537.0 333.7 L537.8 334.4 L538.6 333.3 L539.4 331.5 L540.2 331.3 L541.1 329.2 L541.9 327.8 L542.8 328.7 L543.7 328.7 L544.6 329.7 L545.5 330.6 L546.4 331.5 L547.3 330.9 L548.2 331.4 L549.1 330.9 L550.0 330.2 L550.9 329.6 L551.8 329.0 L552.7 328.0 L553.5 327.7 L554.3 327.9 L555.1 327.1 L555.9 325.1 L556.7 324.1 L557.5 326.5 L558.3 327.9 L559.1 329.0 L560.0 331.3 L560.8 329.6 L561.7 328.3 L562.5 326.9 L563.4 325.7 L564.3 323.8 L565.1 323.9 L565.9 324.7 L566.7 324.6 L567.5 324.4 L568.3 324.8 L569.1 324.2 L569.9 324.7 L570.8 323.6 L571.6 321.8 L572.4 321.7 L573.2 322.6 L574.0 323.6 L574.8 324.6 L575.6 325.7 L576.4 324.8 L577.2 324.7 L578.1 325.1 L578.9 324.9 L579.7 326.4 L580.6 326.7 L581.5 325.9 L582.4 326.3 L583.3 326.3 L584.3 327.4 L585.1 329.7 L586.0 333.3 L586.9 336.3 L587.8 339.6 L588.6 339.4 L589.4 339.3 L590.2 339.3 L591.0 339.9 L591.8 339.6 L592.6 339.3 L593.4 339.2 L594.3 340.2 L595.1 340.6 L595.9 341.1 L596.8 339.2 L597.6 337.5 L598.5 335.9 L599.4 332.7 L600.3 334.8 L601.2 335.7 L602.1 336.1 L603.1 338.0 L604.0 338.6 L604.8 340.6 L605.6 341.8 L606.4 343.7 L607.2 345.1 L608.0 348.1 L608.8 346.7 L609.6 346.8 L610.5 346.8 L611.3 345.6 L612.1 344.1 L613.0 342.4 L613.9 341.4 L614.8 339.9 L615.8 337.8 L616.7 336.6 L617.6 336.9 L618.6 338.0 L619.6 338.7 L620.6 339.1 L621.5 339.1 L622.4 339.6 L623.3 340.1 L624.2 340.0 L625.1 340.6 L626.0 340.4 L626.9 340.4 L627.8 341.7 L628.7 341.6 L629.6 342.3 L630.5 342.6 L631.4 342.4 L632.3 342.8 L633.1 343.3 L634.0 343.9 L634.8 345.0 L635.6 343.7 L636.4 343.0 L637.2 341.4 L638.0 341.3 L638.8 340.4 L639.6 339.5 L640.4 339.9 L641.3 341.1 L642.2 341.9 L643.1 342.6 L644.0 342.6 L644.9 343.8 L645.8 344.1 L646.6 345.6 L647.5 346.4 L648.3 349.0 L649.1 349.4 L649.9 350.6 L650.7 351.1 L651.5 350.3 L652.3 350.8 L653.1 352.2 L653.9 352.2 L654.8 351.1 L655.7 351.0 L656.6 350.0 L657.5 349.0 L658.4 349.1 L659.3 349.0 L660.2 349.3 L661.1 349.2 L662.0 349.2 L662.9 348.5 L663.8 347.8 L664.7 348.1 L665.6 349.4 L666.4 349.2 L667.2 350.2 L668.0 350.9 L668.8 350.3 L669.6 349.2 L670.4 349.0 L671.2 348.7 L672.0 347.1" fill="none" stroke="#4169e1" stroke-width="2" stroke-linejoin="round"/>
<path d="M53.3 307.0 L54.1 306.9 L55.0 307.3 L55.9 307.1 L56.7 307.5 L57.6 307.6 L58.5 305.9 L59.3 306.5 L60.2 307.8 L61.1 307.3 L62.0 307.7 L62.8 307.0 L63.7 307.8 L64.6 308.6 L65.5 307.9 L66.4 308.3 L67.3 306.8 L68.3 306.1 L69.3 304.6 L70.2 304.4 L71.2 303.9 L72.2 303.5 L73.2 304.0 L74.1 303.2 L75.1 303.9 L76.1 304.9 L77.1 303.5 L78.0 303.7 L78.9 303.6 L79.8 304.6 L80.7 304.9 L81.5 304.0 L82.4 303.9 L83.3 302.4 L84.2 302.2 L85.0 302.6 L86.0 302.7 L87.0 302.5 L88.0 302.9 L88.9 303.9 L89.9 303.5 L90.9 303.6 L91.8 304.5 L92.8 302.9 L93.8 302.1 L94.8 301.2 L95.7 301.2 L96.7 300.7 L97.7 301.6 L98.7 300.5 L99.6 301.1 L100.6 300.8 L101.6 300.4 L102.6 300.9 L103.5 301.3 L104.5 301.5 L105.5 302.6 L106.4 303.3 L107.4 305.1 L108.4 304.7 L109.3 305.2 L110.1 306.1 L111.0 307.1 L111.9 306.1 L112.8 306.4 L113.6 308.5 L114.5 308.9 L115.4 308.5 L116.3 307.8 L117.3 307.0 L118.2 307.0 L119.1 305.1 L120.1 304.5 L120.9 303.2 L121.8 302.9 L122.6 300.5 L123.5 299.2 L124.4 297.9 L125.2 297.2 L126.1 299.0 L127.0 298.9 L127.9 299.6 L128.8 299.0 L129.7 299.2 L130.6 299.6 L131.6 300.2 L132.5 300.9 L133.5 300.7 L134.5 301.6 L135.5 302.4 L136.4 303.5 L137.4 303.9 L138.3 304.8 L139.2 305.9 L140.2 305.9 L141.1 307.2 L142.0 306.3 L142.8 305.9 L143.7 305.6 L144.6 304.7 L145.5 304.7 L146.4 304.1 L147.2 304.0 L148.1 303.5 L149.0 304.1 L149.9 304.7 L150.7 303.4 L151.6 303.4 L152.5 303.4 L153.4 303.4 L154.2 303.8 L155.1 303.1 L156.0 304.2 L156.9 304.4 L157.7 303.8 L158.6 303.8 L159.5 303.9 L160.4 303.5 L161.2 302.4 L162.1 302.3 L163.0 302.7 L163.9 302.2 L164.7 302.9 L165.6 302.3 L166.5 302.6 L167.4 302.4 L168.2 302.9 L169.1 302.5 L170.0 302.7 L170.9 302.7 L171.8 302.9 L172.6 303.3 L173.5 304.4 L174.4 304.3 L175.3 304.4 L176.1 304.2 L177.0 304.6 L177.9 305.0 L178.8 303.9 L179.6 305.1 L180.5 304.8 L181.4 305.2 L182.3 304.3 L183.1 304.2 L184.0 303.6 L184.9 303.0 L185.8 303.0 L186.6 302.6 L187.5 301.7 L188.4 301.4 L189.3 302.1 L190.1 300.7 L191.0 300.4 L191.9 301.0 L192.8 300.7 L193.6 300.0 L194.5 299.7 L195.4 299.0 L196.3 299.1 L197.2 297.7 L198.1 298.1 L199.1 299.4 L200.0 299.5 L200.9 300.9 L201.9 301.7 L202.8 302.9 L203.7 304.4 L204.7 304.7 L205.6 304.8 L206.5 303.4 L207.5 302.3 L208.4 300.8 L209.3 300.5 L210.3 300.4 L211.2 299.4 L212.1 299.6 L213.1 299.7 L214.0 299.8 L214.8 298.6 L215.6 298.7 L216.4 298.1 L217.2 298.8 L218.1 300.3 L219.0 302.2 L219.9 303.1 L220.6 305.1 L221.4 307.5 L222.2 309.2 L223.1 309.3 L223.9 308.8 L224.8 308.0 L225.7 307.9 L226.6 308.1 L227.4 308.5 L228.3 308.2 L229.2 308.1 L230.1 305.8 L230.9 304.6 L231.8 303.6 L232.7 302.3 L233.6 302.9 L234.6 304.3 L235.5 305.6 L236.4 307.4 L237.4 309.1 L238.3 311.2 L239.2 312.5 L240.2 313.1 L241.1 314.2 L242.0 315.1 L242.9 316.1 L243.8 316.3 L244.7 317.3 L245.5 318.1 L246.5 316.5 L247.4 315.3 L248.4 316.0 L249.3 316.3 L250.2 314.5 L251.2 313.6 L252.1 311.6 L253.0 310.8 L254.0 309.1 L254.9 307.9 L255.8 306.3 L256.8 305.0 L257.7 302.5 L258.6 301.0 L259.6 298.4 L260.4 298.4 L261.3 298.6 L262.2 299.6 L263.1 299.6 L263.9 299.0 L264.8 298.4 L265.7 297.2 L266.6 296.6 L267.4 296.3 L268.3 297.0 L269.2 298.9 L270.1 298.9 L270.9 299.5 L271.6 300.0 L272.4 301.6 L273.2 298.8 L274.0 297.4 L274.7 295.1 L275.9 288.9 L276.7 270.9 L277.4 253.4 L278.6 221.3 L279.4 212.5 L280.6 226.4 L281.4 245.9 L282.2 266.6 L283.2 289.0 L284.1 312.5 L285.0 324.7 L286.0 337.5 L286.9 340.0 L287.9 340.3 L288.9 343.0 L289.9 343.6 L290.9 345.1 L291.8 346.7 L292.7 348.8 L293.7 349.3 L294.6 351.1 L295.5 350.6 L296.4 349.3 L297.2 348.4 L298.1 346.9 L299.0 347.7 L299.9 349.1 L300.7 350.3 L301.6 350.3 L302.5 349.3 L303.5 348.9 L304.4 348.7 L305.3 348.3 L306.3 347.6 L307.2 348.3 L308.1 348.7 L309.1 348.1 L310.0 349.0 L310.9 347.6 L311.8 346.3 L312.7 346.0 L313.6 344.6 L314.5 343.5 L315.4 344.2 L316.3 344.2 L317.3 344.4 L318.2 344.7 L319.1 346.0 L320.1 345.2 L321.0 345.4 L321.9 344.7 L322.9 343.5 L323.8 343.7 L324.7 343.5 L325.5 343.0 L326.4 342.3 L327.3 341.8 L328.1 344.1 L328.9 345.6 L329.6 348.0 L330.6 349.5 L331.5 350.0 L332.4 351.2 L333.4 351.2 L334.3 352.6 L335.2 350.7 L336.2 351.4 L337.1 350.9 L338.0 350.3 L339.0 349.3 L339.9 348.2 L340.7 346.5 L341.6 345.1 L342.5 343.7 L343.4 343.3 L344.4 343.8 L345.3 342.8 L346.2 342.5 L347.2 342.8 L348.1 342.3 L349.1 342.8 L350.0 340.8 L350.9 340.8 L351.9 340.5 L352.8 340.2 L353.7 340.0 L354.7 339.6 L355.6 340.8 L356.5 341.1 L357.5 341.3 L358.4 341.0 L359.3 342.3 L360.3 341.7 L361.2 343.2 L362.1 344.9 L363.1 345.4 L364.0 345.9 L365.0 346.8 L366.0 345.7 L366.9 345.8 L367.9 345.8 L368.9 345.5 L369.9 345.9 L370.8 344.9 L371.8 343.8 L372.8 343.8 L373.7 342.9 L374.7 341.9 L375.7 342.6 L376.6 343.2 L377.4 344.1 L378.3 345.5 L379.2 346.0 L380.1 347.4 L381.1 349.8 L382.0 351.0 L382.9 351.7 L383.9 353.0 L384.8 351.8 L385.7 350.8 L386.7 350.6 L387.6 349.3 L388.5 349.9 L389.5 348.4 L390.4 348.8 L391.3 348.4 L392.3 347.5 L393.2 347.6 L394.2 347.2 L395.2 346.3 L396.1 346.7 L397.1 345.8 L398.1 345.8 L399.1 345.3 L400.0 346.6 L401.0 346.8 L402.0 347.9 L402.9 348.8 L403.9 348.7 L404.9 348.8 L405.8 349.3 L406.8 349.4 L407.7 349.4 L408.6 350.2 L409.6 350.7 L410.4 348.7 L411.3 347.7 L412.2 346.9 L413.1 346.9 L414.0 346.3 L414.9 346.7 L415.9 347.1 L416.8 347.3 L417.7 347.1 L418.7 347.2 L419.6 347.3 L420.5 346.5 L421.5 346.4 L422.4 347.8 L423.3 345.8 L424.2 344.5 L425.0 342.3 L425.9 340.4 L426.8 340.9 L427.8 340.2 L428.7 340.2 L429.6 341.0 L430.6 340.8 L431.5 341.5 L432.3 341.8 L433.2 342.8 L434.1 343.7 L435.0 344.9 L435.8 346.4 L436.7 347.2 L437.6 349.6 L438.5 349.4 L439.5 348.8 L440.4 348.1 L441.3 348.9 L442.3 347.3 L443.1 346.6 L444.0 346.0 L444.9 345.3 L445.8 344.2 L446.6 342.6 L447.5 342.6 L448.4 340.6 L449.3 338.5 L450.2 337.0 L451.1 335.0 L452.1 333.3 L453.0 331.6 L453.9 329.8 L454.9 328.9 L455.8 329.9 L456.7 329.6 L457.7 328.1 L458.6 329.5 L459.5 327.9 L460.4 326.4 L461.2 324.7 L462.1 324.5 L463.1 322.9 L464.0 321.7 L464.9 320.1 L465.9 318.1 L466.8 317.3 L467.7 316.2 L468.7 315.4 L469.6 315.0 L470.5 313.5 L471.5 313.5 L472.4 313.5 L473.3 313.5 L474.3 312.4 L475.2 311.2 L476.1 311.9 L477.1 311.0 L478.0 310.5 L478.9 310.3 L479.9 308.8 L480.8 308.7 L481.7 309.0 L482.7 310.1 L483.6 308.8 L484.5 309.3 L485.5 309.4 L486.4 309.7 L487.3 309.3 L488.3 309.6 L489.2 309.4 L490.1 309.0 L491.0 308.0 L491.9 306.9 L492.8 306.0 L493.6 306.3 L494.6 306.4 L495.6 304.9 L496.6 304.4 L497.6 303.4 L498.4 305.8 L499.2 305.2 L500.0 307.0 L500.8 307.6 L501.7 307.6 L502.5 306.4 L503.4 306.9 L504.2 307.8 L505.1 307.8 L505.9 307.7 L506.8 308.6 L507.6 308.4 L508.4 305.9 L509.3 305.6 L510.1 306.2 L511.0 306.3 L511.8 306.9 L512.7 306.8 L513.5 305.8 L514.3 303.9 L515.1 303.2 L515.9 302.7 L516.7 301.9 L517.6 302.4 L518.4 301.7 L519.2 301.9 L520.0 301.0 L520.8 300.0 L521.6 301.4 L522.4 301.9 L523.2 304.0 L524.0 305.5 L524.8 305.7 L525.7 305.8 L526.6 307.3 L527.5 308.3 L528.4 308.3 L529.3 309.1 L530.2 309.7 L531.2 309.1 L532.2 309.0 L533.2 308.7 L534.1 307.5 L535.1 306.3 L536.0 305.9 L536.9 305.2 L537.8 304.2 L538.7 303.7 L539.6 303.7 L540.5 303.7 L541.4 303.2 L542.3 302.5 L543.2 302.4 L544.1 302.0 L545.0 302.9 L545.9 303.4 L546.8 302.4 L547.7 302.5 L548.6 302.2 L549.5 301.7 L550.4 301.3 L551.3 301.6 L552.1 299.7 L552.9 300.3 L553.7 299.1 L554.6 297.5 L555.4 297.5 L556.3 296.1 L557.2 294.8 L558.1 294.3 L559.0 293.0 L559.9 291.5 L560.8 290.5 L561.6 289.8 L562.4 289.7 L563.2 290.3 L564.0 291.2 L564.8 292.1 L565.7 293.2 L566.6 293.4 L567.5 294.7 L568.4 296.1 L569.3 297.0 L570.2 296.9 L571.1 297.6 L572.0 297.2 L572.9 297.6 L573.8 298.1 L574.7 298.7 L575.6 299.8 L576.5 299.9 L577.4 299.9 L578.3 298.3 L579.2 297.6 L580.1 296.6 L581.0 297.3 L581.9 297.5 L582.8 297.2 L583.7 296.7 L584.6 296.3 L585.5 295.6 L586.4 295.9 L587.3 296.9 L588.2 297.7 L589.1 297.4 L590.0 298.3 L590.9 299.0 L591.8 300.1 L592.7 301.1 L593.6 301.8 L594.5 302.7 L595.4 302.8 L596.3 302.1 L597.2 302.8 L598.1 303.2 L598.9 303.8 L599.8 302.0 L600.6 302.9 L601.4 303.7 L602.3 303.2 L603.1 303.5 L604.0 303.0 L604.9 302.1 L605.8 301.7 L606.7 301.5 L607.6 302.6 L608.5 303.2 L609.4 303.4 L610.2 304.7 L611.0 304.7 L611.8 304.8 L612.6 305.8 L613.4 306.7 L614.3 305.8 L615.2 304.8 L616.1 304.8 L617.0 304.1 L617.9 304.3 L618.8 302.8 L619.7 303.8 L620.6 303.5 L621.5 303.2 L622.4 303.0 L623.3 303.3 L624.2 302.9 L625.1 303.2 L626.0 302.9 L626.9 304.0 L627.8 304.4 L628.7 305.0 L629.6 304.1 L630.5 303.8 L631.4 304.4 L632.3 304.3 L633.2 304.6 L634.1 305.4 L635.0 304.8 L635.9 305.6 L636.8 305.0 L637.7 304.4 L638.6 304.8 L639.5 305.0 L640.4 304.9 L641.3 305.2 L642.1 304.0 L643.0 304.9 L643.8 305.6 L644.7 305.7 L645.5 305.9 L646.3 305.9 L647.2 306.1 L648.0 306.7 L648.9 306.2 L649.7 305.9 L650.6 306.2 L651.4 306.2 L652.3 305.7 L653.1 304.7 L653.9 304.0 L654.8 304.3 L655.7 304.0 L656.6 304.0 L657.5 303.8 L658.4 303.3 L659.3 303.3 L660.2 302.8 L661.1 302.3 L662.0 301.9 L662.9 302.1 L663.8 301.5 L664.7 300.3 L665.7 301.1 L666.6 300.3 L667.5 299.3 L668.4 300.3 L669.3 300.0 L670.2 299.6 L671.1 299.9 L672.0 299.8" fill="none" stroke="#ff4500" stroke-width="2" stroke-linejoin="round"/>
</g>
<g clip-path="url(#cpc)">
<path d="M53.3 496.6 L54.1 498.8 L55.0 501.6 L55.8 503.9 L56.7 502.9 L57.6 502.5 L58.5 501.9 L59.3 502.2 L60.2 500.4 L61.1 497.0 L62.0 495.3 L62.8 492.8 L63.6 492.0 L64.4 489.6 L65.2 488.0 L66.0 491.8 L66.7 494.8 L67.5 497.9 L68.3 496.9 L69.1 495.4 L69.9 495.6 L70.6 498.8 L71.4 502.8 L72.2 506.9 L73.1 508.2 L73.9 510.0 L74.8 511.4 L75.7 514.2 L76.5 512.6 L77.3 512.7 L78.0 512.1 L79.2 517.2 L80.1 515.4 L80.9 514.0 L81.8 512.6 L82.7 512.4 L83.5 510.8 L84.3 510.8 L85.0 509.7 L85.8 507.4 L86.6 504.6 L87.4 502.6 L88.2 501.1 L88.9 497.9 L89.7 495.4 L90.5 494.9 L91.3 495.3 L92.0 495.6 L92.8 498.7 L93.6 501.8 L94.4 504.8 L95.3 508.1 L96.1 510.9 L97.0 514.0 L97.9 516.9 L98.8 519.1 L99.6 520.5 L100.5 521.9 L101.4 524.1 L102.3 523.7 L103.1 525.0 L104.0 525.6 L104.9 524.9 L105.8 523.1 L106.6 521.8 L107.5 520.6 L108.4 518.4 L109.3 516.8 L110.1 515.0 L111.0 514.9 L111.9 514.1 L112.8 514.0 L113.6 512.4 L114.5 510.2 L115.4 508.3 L116.2 507.9 L117.0 506.2 L117.7 504.5 L118.5 503.8 L119.3 503.6 L120.1 502.3 L120.9 504.9 L121.6 506.9 L122.4 509.9 L123.3 511.4 L124.2 513.3 L125.0 513.9 L125.9 516.4 L126.7 514.9 L127.5 513.7 L128.2 512.5 L129.1 514.2 L130.0 515.3 L130.9 516.4 L131.8 516.7 L132.6 518.0 L133.5 518.2 L134.4 519.1 L135.3 518.5 L136.1 520.8 L137.0 522.6 L137.9 525.7 L138.8 526.7 L139.7 522.7 L140.6 519.4 L141.6 516.3 L142.6 513.9 L143.6 512.3 L144.6 511.0 L145.5 510.7 L146.4 510.6 L147.2 510.9 L148.1 511.3 L149.0 514.3 L150.0 517.1 L150.9 518.8 L151.9 515.5 L152.9 513.1 L153.9 510.1 L154.7 508.9 L155.5 508.3 L156.3 508.4 L157.1 510.9 L157.8 513.7 L158.6 516.7 L159.6 515.1 L160.6 514.5 L161.6 514.0 L162.6 516.3 L163.5 519.5 L164.5 522.3 L165.2 524.4 L166.0 525.8 L166.8 525.9 L167.7 524.1 L168.5 523.0 L169.4 521.5 L170.3 520.5 L171.2 520.5 L172.0 520.0 L172.9 520.5 L173.8 520.1 L174.7 515.8 L175.7 513.8 L176.6 510.7 L177.6 513.4 L178.6 517.8 L179.6 521.4 L180.5 522.5 L181.4 524.1 L182.3 525.4 L183.1 527.2 L184.0 527.0 L184.9 527.6 L185.8 527.6 L186.6 527.6 L187.7 525.6 L188.7 522.9 L189.7 520.3 L190.6 521.1 L191.5 522.0 L192.5 523.2 L193.4 521.8 L194.4 519.5 L195.3 517.7 L196.1 518.7 L196.8 518.8 L197.6 519.3 L198.4 517.2 L199.2 514.1 L200.0 510.4 L200.9 509.0 L201.9 506.3 L202.8 503.6 L203.8 499.1 L204.8 494.8 L205.8 490.1 L206.9 488.3 L207.9 485.9 L208.9 485.5 L209.8 485.0 L210.7 484.0 L211.7 482.0 L212.6 487.5 L213.5 492.5 L214.4 495.8 L215.2 497.6 L216.0 489.3 L216.7 481.7 L217.5 474.5 L218.3 472.9 L219.1 470.9 L219.9 470.0 L220.6 466.9 L221.4 463.7 L222.2 460.5 L223.4 467.5 L224.5 457.3 L225.5 457.3 L226.4 456.7 L227.6 490.3 L228.5 515.9 L229.5 515.9 L230.5 516.9 L231.5 517.5 L232.4 517.6 L233.3 516.6 L234.2 516.9 L235.0 517.9 L235.9 518.2 L236.8 519.6 L237.7 520.2 L238.5 521.7 L239.4 523.7 L240.3 522.7 L241.2 524.4 L242.0 525.9 L242.9 525.5 L243.8 524.5 L244.7 523.6 L245.5 523.2 L246.3 524.4 L247.1 525.7 L247.9 526.7 L248.8 524.9 L249.6 523.8 L250.5 521.2 L251.4 520.8 L252.3 520.8 L253.3 520.5 L254.2 520.0 L255.1 520.1 L256.1 520.5 L256.9 520.7 L257.8 520.7 L258.7 520.1 L259.6 520.7 L260.4 522.4 L261.3 523.4 L262.2 525.4 L263.1 525.7 L264.1 526.1 L265.1 526.4 L266.1 527.1 L266.9 528.8 L267.7 531.7 L268.5 529.9 L269.3 528.8 L270.1 527.9 L270.9 524.1 L271.6 520.6 L272.4 516.8 L273.3 510.2 L274.3 503.2 L275.4 478.1 L276.6 467.3 L277.4 472.5 L278.2 477.7 L279.0 480.1 L279.8 483.1 L280.6 485.8 L281.4 488.4 L282.1 489.9 L282.9 492.5 L283.7 496.3 L284.6 502.6 L285.3 500.2 L286.0 498.1 L286.8 489.8 L287.6 481.4 L288.5 481.3 L289.3 480.7 L290.2 479.9 L291.1 480.3 L291.9 483.2 L292.7 485.4 L293.4 487.4 L294.3 489.7 L295.2 491.5 L296.1 493.5 L296.9 494.8 L297.8 496.7 L298.7 498.2 L299.6 500.3 L300.4 500.3 L301.3 498.0 L302.2 497.5 L303.1 496.7 L303.9 495.2 L304.8 494.8 L305.7 494.9 L306.6 494.2 L307.4 494.3 L308.2 490.5 L309.0 488.7 L309.8 485.5 L310.7 478.7 L311.6 472.5 L312.5 466.1 L313.3 458.8 L314.2 461.4 L315.2 463.7 L316.0 460.6 L316.8 456.9 L317.7 456.0 L318.7 456.1 L319.5 461.1 L320.3 465.6 L321.1 473.2 L321.8 481.5 L322.6 489.9 L323.4 488.7 L324.2 486.2 L325.0 485.1 L325.7 484.0 L326.5 480.9 L327.3 479.8 L328.3 479.3 L329.3 479.5 L330.3 478.3 L331.3 482.3 L332.2 486.0 L333.1 488.8 L334.0 490.9 L334.9 492.9 L335.8 494.4 L336.6 495.2 L337.5 496.0 L338.4 497.7 L339.3 498.3 L340.1 499.9 L341.0 497.6 L341.9 494.9 L342.8 492.6 L343.6 489.4 L344.5 486.2 L345.4 484.4 L346.3 481.5 L347.2 479.5 L347.9 479.6 L348.6 481.1 L349.3 477.2 L350.0 474.6 L351.2 471.7 L351.9 478.8 L352.7 486.5 L353.5 493.2 L354.5 498.6 L355.5 503.3 L356.5 507.6 L357.5 504.3 L358.4 501.4 L359.3 498.5 L360.3 497.6 L361.2 495.1 L362.1 494.3 L363.1 499.5 L364.0 504.7 L364.9 512.3 L365.9 521.2 L366.7 524.5 L367.5 527.7 L368.5 527.2 L369.5 527.1 L370.6 526.9 L371.5 528.0 L372.4 529.3 L373.4 530.0 L374.3 521.0 L375.2 512.1 L376.2 510.2 L377.1 506.7 L378.0 503.5 L378.8 503.1 L379.6 501.7 L380.4 500.0 L381.1 496.5 L381.9 492.8 L382.7 489.2 L383.6 487.6 L384.6 486.5 L385.3 487.8 L386.1 490.5 L386.9 492.1 L387.7 502.2 L388.5 512.5 L389.4 518.4 L390.2 526.0 L391.2 529.2 L392.2 530.8 L393.2 532.3 L394.1 531.3 L395.0 530.2 L395.8 528.4 L396.7 527.3 L397.6 518.6 L398.6 510.6 L399.5 506.1 L400.5 500.9 L401.4 496.8 L402.2 500.7 L402.9 505.3 L403.7 509.9 L404.5 508.6 L405.3 507.4 L406.1 505.3 L406.8 509.5 L407.6 512.5 L408.4 516.5 L409.2 514.9 L410.0 513.5 L410.7 512.3 L411.5 506.1 L412.3 501.3 L413.1 496.5 L413.8 496.4 L414.6 496.2 L415.4 497.7 L416.2 495.4 L417.0 492.2 L417.7 489.9 L418.7 493.0 L419.6 495.8 L420.4 494.4 L421.2 492.7 L421.9 490.8 L422.9 489.4 L423.8 488.3 L424.7 487.6 L425.5 489.5 L426.3 490.6 L427.1 491.6 L428.0 489.3 L428.8 488.1 L429.7 486.6 L430.6 484.7 L431.4 490.5 L432.2 496.4 L433.0 500.2 L433.8 503.2 L434.6 506.2 L435.6 508.9 L436.6 511.6 L437.6 514.7 L438.6 512.7 L439.6 509.3 L440.6 507.2 L441.4 505.3 L442.2 504.2 L443.0 500.8 L444.0 494.1 L445.1 488.3 L446.0 492.1 L446.9 497.6 L447.7 501.2 L448.5 505.9 L449.3 510.2 L450.0 511.3 L450.8 512.0 L451.6 512.4 L452.4 510.0 L453.2 508.3 L453.9 507.4 L454.8 510.2 L455.6 513.3 L456.3 508.9 L457.0 504.2 L457.8 511.6 L458.6 518.8 L459.6 521.9 L460.6 526.6 L461.6 530.3 L462.6 534.5 L463.5 539.0 L464.5 542.8 L465.2 545.9 L466.0 549.7 L466.8 551.6 L467.7 553.1 L468.5 553.6 L469.4 555.2 L470.3 555.2 L471.1 557.0 L471.8 557.7 L472.6 558.5 L473.4 557.6 L474.2 556.0 L475.0 553.8 L475.8 555.7 L476.7 557.0 L477.6 559.1 L478.5 559.8 L479.3 558.3 L480.2 557.8 L481.1 557.5 L482.0 555.2 L482.8 555.4 L483.7 555.7 L484.6 556.0 L485.5 555.6 L486.4 556.9 L487.2 557.4 L488.1 559.3 L489.0 559.9 L489.9 558.6 L490.7 557.8 L491.6 556.3 L492.5 555.5 L493.4 555.8 L494.2 555.5 L495.1 557.0 L496.0 557.5 L497.0 557.3 L498.0 555.9 L499.0 555.1 L500.0 555.3 L500.8 555.1 L501.6 555.0 L502.4 554.7 L503.2 554.1 L504.1 552.7 L504.9 552.6 L505.7 552.6 L506.5 550.9 L507.3 551.3 L508.1 551.1 L508.9 550.1 L509.7 551.0 L510.5 549.8 L511.3 549.1 L512.2 550.1 L513.1 551.7 L514.0 552.9 L514.9 553.7 L515.7 554.2 L516.5 553.8 L517.3 553.9 L518.1 554.4 L518.9 555.6 L519.7 555.8 L520.5 556.7 L521.3 558.0 L522.1 558.2 L523.0 558.7 L523.9 555.3 L524.8 553.1 L525.7 550.9 L526.5 550.7 L527.4 551.7 L528.3 551.2 L529.2 549.7 L530.0 549.7 L530.8 549.8 L531.6 550.0 L532.4 550.8 L533.2 551.0 L534.0 552.6 L534.8 553.7 L535.6 553.6 L536.5 554.3 L537.3 555.6 L538.1 558.1 L538.9 558.2 L539.7 557.5 L540.5 558.7 L541.3 559.5 L542.1 560.9 L542.9 562.6 L543.8 562.7 L544.6 563.1 L545.4 564.0 L546.2 563.7 L547.0 564.1 L547.8 565.5 L548.6 566.3 L549.4 564.0 L550.2 562.2 L551.0 560.7 L551.9 559.6 L552.7 558.6 L553.5 557.5 L554.3 557.1 L555.1 556.1 L555.9 555.6 L556.7 554.0 L557.5 554.6 L558.3 555.5 L559.1 557.3 L560.0 557.7 L560.8 557.6 L561.7 556.1 L562.6 555.0 L563.5 554.9 L564.3 554.5 L565.1 554.3 L565.9 554.1 L566.7 553.8 L567.5 554.9 L568.3 553.7 L569.1 552.8 L569.9 552.1 L570.8 551.5 L571.6 551.0 L572.4 552.1 L573.2 553.3 L574.0 554.1 L574.8 554.9 L575.6 557.0 L576.4 558.2 L577.2 559.1 L578.1 560.1 L578.9 561.4 L579.7 563.1 L580.5 563.8 L581.3 564.7 L582.1 565.8 L582.9 567.6 L583.7 569.1 L584.6 570.7 L585.5 571.3 L586.4 571.7 L587.2 572.0 L588.0 571.5 L588.9 571.5 L589.7 572.1 L590.5 571.7 L591.4 570.0 L592.3 566.1 L593.2 564.0 L594.1 563.9 L595.0 563.2 L595.9 563.1 L596.8 564.1 L597.7 564.5 L598.6 566.8 L599.5 567.7 L600.3 567.8 L601.2 568.0 L602.1 569.0 L602.9 567.3 L603.7 565.7 L604.5 564.0 L605.3 562.3 L606.2 562.1 L607.1 561.8 L608.0 561.1 L608.8 558.8 L609.6 557.6 L610.5 555.9 L611.3 553.1 L612.1 554.7 L613.0 555.4 L613.9 555.7 L614.8 556.5 L615.7 554.7 L616.5 552.4 L617.4 550.4 L618.3 548.6 L619.1 549.6 L619.9 549.6 L620.7 550.5 L621.5 551.6 L622.3 552.7 L623.2 553.5 L624.0 553.7 L624.8 555.5 L625.6 555.5 L626.4 556.0 L627.2 557.2 L628.0 558.6 L628.8 558.9 L629.6 559.6 L630.4 560.9 L631.3 562.1 L632.1 562.5 L632.9 564.1 L633.7 564.3 L634.5 564.8 L635.3 563.4 L636.1 563.3 L636.9 563.4 L637.7 563.2 L638.5 562.1 L639.4 561.7 L640.2 560.8 L641.0 559.3 L641.8 558.1 L642.7 556.2 L643.6 555.3 L644.5 554.7 L645.4 555.9 L646.2 557.0 L647.1 557.8 L648.0 558.5 L648.8 557.6 L649.6 557.0 L650.4 556.0 L651.2 554.8 L652.1 554.3 L652.9 554.9 L653.7 554.9 L654.5 553.1 L655.3 554.5 L656.1 555.5 L656.9 556.2 L657.7 558.3 L658.5 558.9 L659.3 560.2 L660.2 560.7 L661.1 560.4 L662.0 561.6 L662.9 561.7 L663.7 560.2 L664.5 559.1 L665.3 556.9 L666.2 554.7 L667.0 553.4 L667.9 551.1 L668.8 548.7 L669.6 547.4 L670.4 547.6 L671.2 546.9 L672.0 545.8" fill="none" stroke="#4169e1" stroke-width="2" stroke-linejoin="round"/>
<path d="M53.3 508.3 L54.1 507.3 L55.0 505.5 L55.8 504.8 L56.7 506.4 L57.6 507.1 L58.5 507.6 L59.3 509.0 L60.3 508.5 L61.2 508.8 L62.1 509.1 L63.1 510.5 L64.0 511.1 L64.9 510.5 L65.8 510.7 L66.6 511.4 L67.5 511.1 L68.4 510.1 L69.3 509.2 L70.1 507.4 L71.0 505.4 L71.9 505.8 L72.8 504.3 L73.6 504.5 L74.5 503.6 L75.4 504.6 L76.3 505.3 L77.2 505.4 L78.0 506.6 L79.0 504.8 L79.9 504.7 L80.8 504.4 L81.8 504.7 L82.7 504.1 L83.6 505.5 L84.6 504.7 L85.5 504.7 L86.4 505.7 L87.4 506.7 L88.3 506.4 L89.2 504.5 L90.2 503.9 L91.1 503.9 L92.0 503.6 L92.9 503.8 L93.8 503.5 L94.7 503.5 L95.5 501.7 L96.6 501.6 L97.6 500.2 L98.6 500.7 L99.4 503.9 L100.2 506.8 L101.1 507.1 L102.0 507.8 L102.8 507.3 L103.7 507.7 L104.6 506.7 L105.5 505.7 L106.4 505.3 L107.2 504.3 L108.1 506.2 L109.0 508.2 L109.9 509.1 L110.7 509.4 L111.6 510.9 L112.5 512.6 L113.4 513.4 L114.2 514.3 L115.1 513.0 L116.0 512.3 L116.9 510.2 L117.7 508.2 L118.6 506.4 L119.5 504.5 L120.4 504.2 L121.2 502.1 L122.1 501.6 L123.0 501.2 L123.9 500.8 L124.7 500.0 L125.5 502.5 L126.3 504.5 L127.1 507.0 L128.0 506.6 L128.8 507.6 L129.7 508.9 L130.6 509.3 L131.5 507.7 L132.3 506.8 L133.2 507.0 L134.1 506.5 L135.0 507.3 L135.8 507.5 L136.7 508.6 L137.6 510.4 L138.5 512.1 L139.3 514.8 L140.2 515.8 L141.1 516.3 L142.0 514.6 L142.8 514.3 L143.7 514.8 L144.6 515.1 L145.5 513.9 L146.4 513.2 L147.2 513.6 L148.1 512.8 L149.0 512.1 L149.9 511.0 L150.7 512.2 L151.6 511.6 L152.5 510.4 L153.4 508.3 L154.2 506.9 L155.1 505.0 L156.0 505.4 L156.9 503.2 L157.7 500.7 L158.6 499.5 L159.5 499.2 L160.4 498.7 L161.2 498.3 L162.1 497.4 L163.0 498.8 L163.9 500.1 L164.7 501.7 L165.6 503.2 L166.5 502.5 L167.4 502.5 L168.2 502.0 L169.1 502.2 L170.0 501.8 L170.9 502.3 L171.8 501.2 L172.6 502.2 L173.5 502.7 L174.4 504.3 L175.3 504.4 L176.1 505.8 L177.0 506.9 L177.9 508.8 L178.8 508.6 L179.6 509.8 L180.5 510.2 L181.4 510.5 L182.3 511.9 L183.1 511.4 L184.0 510.7 L184.9 510.3 L185.8 509.3 L186.6 508.8 L187.5 508.3 L188.4 507.3 L189.3 507.0 L190.1 507.8 L191.0 507.0 L191.9 507.0 L192.8 505.5 L193.6 506.1 L194.5 509.1 L195.4 510.6 L196.3 511.7 L197.2 512.4 L198.1 512.0 L199.1 512.8 L200.0 513.4 L200.9 513.0 L201.9 513.3 L202.8 513.0 L203.7 513.7 L204.7 513.4 L205.5 512.0 L206.4 509.7 L207.3 508.5 L208.2 506.3 L209.1 506.5 L209.9 504.9 L210.8 503.1 L211.7 502.1 L212.6 501.0 L213.4 500.0 L214.3 499.5 L215.2 499.4 L216.1 500.9 L216.9 501.2 L217.8 502.5 L218.7 502.4 L219.6 505.6 L220.4 506.9 L221.3 509.4 L222.2 513.1 L223.1 514.6 L223.9 515.6 L224.8 516.9 L225.7 518.8 L226.6 520.8 L227.4 522.4 L228.3 523.6 L229.2 525.5 L230.0 522.5 L230.8 519.9 L231.5 516.0 L232.5 515.4 L233.6 514.2 L234.6 513.8 L235.5 515.2 L236.4 516.1 L237.4 516.9 L238.2 519.6 L239.1 521.8 L240.0 524.0 L240.9 525.8 L241.8 528.2 L242.7 529.4 L243.7 530.7 L244.6 532.6 L245.5 534.0 L246.4 534.3 L247.3 533.2 L248.2 532.5 L249.1 532.2 L249.9 532.9 L250.8 533.1 L251.7 532.9 L252.6 532.7 L253.4 530.6 L254.3 528.6 L255.2 526.5 L256.1 523.1 L256.9 522.4 L257.8 521.5 L258.7 520.1 L259.6 518.0 L260.4 516.5 L261.3 515.5 L262.2 513.7 L263.1 513.7 L263.8 513.8 L264.6 515.7 L265.4 515.2 L266.3 514.4 L267.3 512.9 L268.1 514.8 L268.9 517.2 L269.7 515.2 L270.5 513.8 L271.2 511.9 L272.0 509.8 L272.8 505.7 L273.6 503.0 L274.3 497.1 L275.0 492.1 L275.9 478.7 L276.9 423.5 L277.8 440.7 L278.5 450.8 L279.2 461.4 L279.9 470.1 L280.7 480.1 L281.5 489.6 L282.2 501.5 L282.9 506.4 L283.6 510.1 L284.4 514.1 L285.3 516.1 L286.0 514.2 L286.8 511.9 L287.6 508.9 L288.5 508.3 L289.3 508.1 L290.2 507.8 L291.1 507.2 L291.9 510.6 L292.7 514.3 L293.4 517.0 L294.2 519.6 L295.0 522.8 L295.8 526.0 L296.6 523.7 L297.5 521.1 L298.4 518.3 L299.3 515.8 L300.1 513.6 L301.0 512.4 L301.9 511.9 L302.8 509.8 L303.6 509.4 L304.5 509.1 L305.4 508.9 L306.3 508.6 L307.1 507.5 L307.8 507.7 L308.6 507.7 L309.4 510.0 L310.2 511.1 L310.9 512.7 L311.8 513.0 L312.7 511.3 L313.6 510.6 L314.5 509.4 L315.2 510.4 L316.0 512.3 L316.8 514.1 L317.6 514.3 L318.3 515.8 L319.1 515.9 L319.9 511.8 L320.7 506.5 L321.5 502.2 L322.3 501.1 L323.2 500.8 L324.1 498.6 L325.0 496.1 L326.0 494.0 L327.0 491.1 L328.0 488.0 L328.8 492.7 L329.6 497.8 L330.6 503.0 L331.7 508.5 L332.7 514.3 L333.7 514.7 L334.7 513.9 L335.6 514.3 L336.6 513.4 L337.7 512.0 L338.7 510.8 L339.7 508.8 L340.5 504.9 L341.2 501.8 L342.0 499.5 L342.9 502.9 L343.9 505.9 L344.8 507.4 L345.7 508.6 L346.6 508.1 L347.4 508.2 L348.3 509.0 L349.2 511.1 L350.0 513.3 L350.8 513.2 L351.6 510.9 L352.3 509.3 L353.1 507.1 L353.9 505.1 L354.7 503.8 L355.5 501.9 L356.2 499.3 L357.0 498.0 L357.9 497.6 L358.9 495.9 L359.8 493.9 L360.6 495.5 L361.4 496.8 L362.1 498.1 L362.9 501.6 L363.7 506.2 L364.5 510.5 L365.3 512.8 L366.0 514.6 L366.8 516.8 L367.8 516.9 L368.8 518.8 L369.9 520.1 L370.6 517.4 L371.4 514.1 L372.2 511.6 L373.0 508.8 L373.7 506.4 L374.5 503.9 L375.5 504.8 L376.5 504.2 L377.6 504.9 L378.5 504.8 L379.4 505.7 L380.4 506.1 L381.5 520.7 L382.3 521.8 L383.1 524.9 L383.9 528.2 L384.7 527.8 L385.6 527.9 L386.5 527.0 L387.4 525.5 L388.2 525.6 L388.9 524.2 L389.7 522.0 L390.6 520.8 L391.5 520.3 L392.3 519.7 L393.2 519.2 L394.1 519.9 L395.0 521.6 L395.8 523.1 L396.7 523.3 L397.6 522.1 L398.5 521.9 L399.3 521.2 L400.2 519.7 L401.0 520.9 L401.8 522.5 L402.6 522.5 L403.6 521.2 L404.6 520.5 L405.6 519.2 L406.6 521.1 L407.6 523.3 L408.6 525.5 L409.6 527.1 L410.6 524.0 L411.6 522.3 L412.6 520.1 L413.6 518.8 L414.6 516.4 L415.6 514.7 L416.6 512.0 L417.3 515.7 L418.1 518.2 L418.9 521.1 L419.8 519.9 L420.7 517.8 L421.5 516.8 L422.4 514.0 L423.3 512.7 L424.2 511.9 L425.0 511.5 L425.9 510.7 L426.8 510.2 L427.7 509.5 L428.5 509.4 L429.4 508.4 L430.3 508.1 L431.2 508.2 L432.0 507.7 L432.9 507.4 L433.7 509.0 L434.5 511.2 L435.3 511.3 L436.0 516.0 L436.8 522.3 L437.6 526.9 L438.5 525.3 L439.3 525.6 L440.2 524.5 L441.1 525.0 L441.9 524.2 L442.7 523.6 L443.4 523.6 L444.4 528.5 L445.3 533.6 L446.1 530.0 L446.9 528.2 L447.6 526.5 L448.6 524.0 L449.5 520.9 L450.4 518.6 L451.3 517.2 L452.2 514.7 L453.1 512.8 L453.9 511.9 L454.7 513.2 L455.5 514.7 L456.3 515.9 L457.2 517.1 L458.0 518.2 L458.9 518.7 L459.8 518.8 L460.7 520.0 L461.6 520.1 L462.6 521.0 L463.5 522.6 L464.5 523.6 L465.4 524.5 L466.3 524.5 L467.3 524.4 L468.2 525.0 L469.1 525.4 L470.0 525.2 L470.9 524.7 L471.8 524.3 L472.6 523.0 L473.5 521.7 L474.4 519.8 L475.3 517.5 L476.1 516.0 L477.0 514.1 L477.9 511.2 L478.8 509.8 L479.6 508.3 L480.5 508.3 L481.4 507.9 L482.3 507.0 L483.1 506.7 L484.0 508.3 L484.9 510.7 L485.8 511.2 L486.6 512.0 L487.5 512.9 L488.4 514.1 L489.3 515.4 L490.1 517.3 L491.1 517.0 L492.0 517.1 L492.9 517.5 L494.0 515.4 L495.0 513.5 L496.0 511.3 L496.8 511.2 L497.5 509.0 L498.3 507.3 L499.2 507.6 L500.0 509.4 L500.8 509.2 L501.6 508.7 L502.4 506.9 L503.2 506.4 L504.1 507.5 L504.9 508.0 L505.7 508.4 L506.5 508.1 L507.3 508.0 L508.1 507.1 L508.9 505.6 L509.7 504.5 L510.5 504.0 L511.3 503.4 L512.2 503.6 L513.1 503.4 L514.0 503.9 L514.9 503.5 L515.8 504.9 L516.7 507.3 L517.6 508.4 L518.5 507.2 L519.4 506.7 L520.3 504.2 L521.1 503.7 L521.9 502.8 L522.7 503.3 L523.5 503.2 L524.3 504.6 L525.2 504.3 L526.1 503.9 L527.0 502.2 L527.8 502.4 L528.6 503.4 L529.4 504.8 L530.2 506.4 L531.1 504.8 L532.0 505.7 L532.9 507.2 L533.8 507.8 L534.6 507.7 L535.4 507.6 L536.2 506.7 L537.0 505.2 L537.8 504.0 L538.6 504.1 L539.4 503.8 L540.2 503.2 L541.1 504.6 L541.9 503.6 L542.8 503.7 L543.7 504.2 L544.6 504.1 L545.4 503.6 L546.3 502.4 L547.2 501.3 L548.1 500.6 L548.9 501.4 L549.7 502.7 L550.5 503.1 L551.3 503.8 L552.1 502.4 L552.9 500.9 L553.7 499.7 L554.6 499.6 L555.4 498.1 L556.3 497.6 L557.2 496.8 L558.1 496.0 L558.9 495.5 L559.8 496.3 L560.7 495.8 L561.6 494.8 L562.4 495.8 L563.2 497.6 L564.0 499.0 L564.8 500.8 L565.6 501.8 L566.4 502.6 L567.2 502.7 L568.1 502.9 L568.9 503.7 L569.8 506.1 L570.7 507.5 L571.6 508.5 L572.4 508.6 L573.2 508.4 L574.0 507.5 L574.8 507.6 L575.6 507.3 L576.4 507.8 L577.2 507.8 L578.1 507.9 L578.9 507.1 L579.7 506.6 L580.5 505.5 L581.3 504.6 L582.1 503.8 L582.9 502.6 L583.7 501.8 L584.5 501.7 L585.3 499.9 L586.2 499.2 L587.0 498.0 L587.8 499.3 L588.7 499.0 L589.6 500.0 L590.5 501.5 L591.4 501.0 L592.2 501.3 L593.1 500.5 L594.0 499.9 L594.8 502.1 L595.6 503.6 L596.4 505.6 L597.2 508.5 L598.0 509.2 L598.8 510.6 L599.7 511.1 L600.5 511.9 L601.3 510.3 L602.2 508.6 L603.1 507.7 L604.0 507.8 L604.8 508.0 L605.6 507.2 L606.4 507.1 L607.2 507.1 L608.0 507.0 L608.8 507.2 L609.6 506.1 L610.5 505.5 L611.3 506.3 L612.1 505.8 L612.9 504.2 L613.7 503.2 L614.5 503.4 L615.3 503.0 L616.1 502.5 L616.9 501.2 L617.8 500.3 L618.6 500.0 L619.4 499.0 L620.2 497.9 L621.0 496.7 L621.8 497.8 L622.6 498.4 L623.4 498.5 L624.2 499.3 L625.0 498.9 L625.9 500.0 L626.7 500.7 L627.5 501.7 L628.3 502.2 L629.1 501.4 L629.9 502.0 L630.7 501.4 L631.5 500.8 L632.3 501.1 L633.1 501.2 L634.0 501.7 L634.8 502.3 L635.6 503.5 L636.4 503.6 L637.2 504.5 L638.0 504.8 L638.8 506.0 L639.6 507.1 L640.4 507.2 L641.2 508.1 L642.1 507.7 L642.9 508.7 L643.7 509.8 L644.5 510.5 L645.4 510.4 L646.2 510.9 L647.1 509.5 L648.0 510.6 L648.8 508.4 L649.6 507.4 L650.4 505.5 L651.2 504.5 L652.1 506.5 L652.9 507.3 L653.7 507.3 L654.5 507.1 L655.4 506.1 L656.2 506.3 L657.1 505.3 L658.0 504.5 L658.8 505.8 L659.6 505.7 L660.4 505.6 L661.2 504.3 L662.0 504.4 L662.9 504.3 L663.7 503.1 L664.5 503.4 L665.3 502.5 L666.1 502.7 L667.0 502.6 L667.9 501.6 L668.7 500.1 L669.6 501.0 L670.4 498.6 L671.2 497.2 L672.0 495.9" fill="none" stroke="#ff4500" stroke-width="2" stroke-linejoin="round"/>
</g>
<g clip-path="url(#cpd)">
<path d="M53.3 748.7 L54.1 747.5 L55.0 746.1 L55.8 744.6 L56.6 746.1 L57.4 746.9 L58.2 748.8 L59.0 748.2 L59.7 747.8 L60.5 747.4 L61.3 742.5 L62.1 738.4 L62.8 733.9 L63.9 733.6 L64.9 731.8 L65.9 731.4 L66.7 735.7 L67.5 740.6 L68.3 737.9 L69.2 736.7 L70.1 740.0 L71.0 744.5 L71.8 746.4 L72.6 748.2 L73.4 750.1 L74.2 750.9 L75.1 751.4 L76.0 751.3 L76.9 752.0 L77.7 751.7 L78.6 751.9 L79.5 752.7 L80.4 752.5 L81.2 751.2 L82.1 751.9 L83.0 752.4 L83.9 752.2 L84.6 751.4 L85.4 748.6 L86.2 746.7 L87.2 745.7 L88.2 742.5 L89.2 739.9 L90.2 742.2 L91.1 743.2 L92.0 745.5 L92.9 747.0 L93.8 748.3 L94.7 749.5 L95.5 749.7 L96.5 749.3 L97.4 750.7 L98.4 751.2 L99.3 750.5 L100.2 750.7 L101.2 751.5 L102.2 751.9 L103.1 751.5 L104.1 750.8 L105.1 751.5 L106.1 751.7 L107.0 750.6 L107.9 750.0 L108.9 749.3 L109.8 749.2 L110.7 747.8 L111.6 746.3 L112.5 745.0 L113.4 744.4 L114.2 743.7 L115.1 741.6 L116.0 741.2 L116.9 741.2 L117.7 740.5 L118.6 742.2 L119.5 743.0 L120.4 744.5 L121.2 745.3 L122.1 745.8 L123.0 746.7 L123.9 747.9 L124.7 748.4 L125.6 748.2 L126.5 748.4 L127.4 749.7 L128.2 749.2 L129.1 750.4 L130.0 750.6 L130.9 751.5 L131.8 752.2 L132.6 752.7 L133.5 753.2 L134.4 753.9 L135.3 753.7 L136.2 754.6 L137.1 754.8 L138.1 754.3 L139.0 755.0 L139.9 755.0 L140.8 754.5 L141.7 754.1 L142.6 753.3 L143.4 752.0 L144.3 752.5 L145.2 752.4 L146.1 752.2 L146.9 752.7 L147.8 751.1 L148.7 750.0 L149.6 749.4 L150.4 748.6 L151.3 747.4 L152.2 745.8 L153.1 744.3 L153.9 743.0 L154.7 745.5 L155.5 747.2 L156.3 748.5 L157.2 749.4 L158.0 749.6 L158.9 749.9 L159.8 751.5 L160.7 752.2 L161.5 753.5 L162.4 753.5 L163.3 754.1 L164.2 753.2 L165.2 752.5 L166.1 753.8 L167.0 753.4 L168.0 752.8 L168.8 751.9 L169.7 752.2 L170.6 751.1 L171.5 751.6 L172.3 750.5 L173.2 748.9 L174.1 748.0 L175.0 746.8 L176.0 748.2 L177.0 750.4 L178.0 752.3 L178.9 753.8 L179.9 755.1 L180.8 757.3 L181.7 757.0 L182.6 757.1 L183.4 757.6 L184.3 757.2 L185.2 757.4 L186.2 757.7 L187.1 757.4 L188.0 758.2 L189.0 756.7 L189.9 756.2 L190.8 755.5 L191.8 755.6 L192.7 755.3 L193.6 755.0 L194.6 753.9 L195.5 754.2 L196.5 754.2 L197.4 752.8 L198.3 753.1 L199.2 749.8 L200.0 746.8 L200.8 745.7 L201.6 743.5 L202.3 742.3 L203.3 738.8 L204.2 735.7 L205.1 733.2 L206.2 730.6 L207.2 728.0 L208.2 724.1 L209.0 721.6 L209.7 719.1 L210.5 717.0 L211.3 713.6 L212.1 709.6 L212.8 721.1 L213.5 731.9 L214.4 732.8 L215.2 732.5 L216.0 716.3 L216.8 701.9 L217.8 699.0 L218.7 695.4 L219.6 694.1 L220.6 692.2 L221.7 685.6 L222.9 690.5 L223.7 677.3 L224.5 663.2 L225.5 654.6 L226.4 647.2 L227.6 698.4 L228.5 745.4 L229.5 747.1 L230.5 747.7 L231.5 748.3 L232.4 748.3 L233.3 747.7 L234.2 746.8 L235.0 745.4 L236.0 745.3 L236.9 747.1 L237.8 746.8 L238.8 747.2 L239.7 747.5 L240.6 747.6 L241.6 748.1 L242.5 746.8 L243.4 748.1 L244.4 747.7 L245.3 747.5 L246.2 747.2 L247.2 746.9 L248.1 747.6 L249.1 746.6 L250.0 746.9 L250.9 748.0 L251.9 747.8 L252.8 747.4 L253.7 748.5 L254.7 748.7 L255.6 748.4 L256.5 748.1 L257.5 748.8 L258.4 749.5 L259.3 748.5 L260.3 747.9 L261.2 748.2 L262.1 747.4 L263.1 747.3 L263.9 747.9 L264.8 749.0 L265.7 750.2 L266.6 749.7 L267.3 750.2 L268.1 751.5 L268.9 752.5 L269.7 751.4 L270.5 750.9 L271.2 748.7 L272.3 745.8 L273.3 741.8 L274.5 733.5 L275.4 698.4 L276.0 675.5 L277.0 698.3 L278.0 711.0 L278.9 724.5 L279.7 729.3 L280.5 733.9 L281.3 738.8 L282.2 742.1 L283.2 744.2 L284.1 746.8 L285.0 741.7 L286.0 737.4 L286.8 728.6 L287.6 719.2 L288.8 716.0 L289.7 721.9 L290.6 728.2 L291.4 725.8 L292.3 724.4 L293.0 727.1 L293.8 730.0 L294.6 732.5 L295.5 734.9 L296.4 737.5 L297.2 740.0 L298.1 741.2 L299.0 742.8 L299.9 743.5 L300.7 744.8 L301.6 745.7 L302.5 747.0 L303.4 746.4 L304.2 745.6 L305.1 746.8 L306.0 746.1 L307.0 744.9 L307.9 744.8 L308.8 738.7 L309.8 731.9 L310.7 720.2 L311.6 709.0 L312.5 702.6 L313.3 695.4 L314.1 698.8 L314.9 702.5 L315.9 694.0 L316.8 685.7 L317.6 681.4 L318.4 675.7 L319.1 681.7 L319.8 686.7 L320.6 699.6 L321.5 710.9 L322.2 717.0 L323.0 724.6 L323.8 732.0 L324.6 733.2 L325.4 734.5 L326.1 735.4 L327.1 732.1 L328.0 731.2 L328.9 729.2 L329.9 725.1 L330.8 721.2 L331.7 727.3 L332.7 733.5 L333.6 736.2 L334.5 738.7 L335.5 741.7 L336.3 741.8 L337.0 740.1 L337.8 739.5 L338.6 741.3 L339.4 744.9 L340.1 746.7 L340.9 745.4 L341.7 744.0 L342.5 742.2 L343.3 737.9 L344.0 734.6 L344.8 730.6 L345.6 729.0 L346.4 728.6 L347.2 726.5 L348.1 726.7 L349.0 725.8 L350.0 714.4 L351.2 711.9 L352.0 723.8 L352.8 737.4 L353.6 742.7 L354.4 747.9 L355.1 752.4 L356.2 751.9 L357.2 750.8 L358.2 749.9 L359.2 747.7 L360.2 744.5 L361.2 743.2 L362.0 744.9 L362.8 746.2 L363.5 749.3 L364.3 751.4 L365.1 753.5 L365.9 754.9 L366.8 757.6 L367.8 758.5 L368.7 760.7 L369.6 761.5 L370.4 761.2 L371.3 761.4 L372.2 761.2 L373.1 759.2 L373.9 758.3 L374.8 757.4 L375.7 755.2 L376.5 751.0 L377.3 747.4 L378.0 743.1 L379.0 739.1 L379.9 735.7 L380.8 732.6 L381.6 730.8 L382.4 729.8 L383.2 728.4 L383.9 730.9 L384.7 733.7 L385.5 735.7 L386.4 741.3 L387.4 747.1 L388.2 750.4 L388.9 754.2 L389.7 757.7 L390.6 757.5 L391.5 758.6 L392.3 760.1 L393.2 761.1 L394.1 760.3 L395.0 760.7 L395.8 760.1 L396.7 759.4 L397.6 757.8 L398.6 756.2 L399.5 754.7 L400.5 751.6 L401.4 747.1 L402.2 748.3 L402.9 751.7 L403.7 754.6 L404.7 753.1 L405.6 751.5 L406.5 750.5 L407.5 753.3 L408.5 754.8 L409.6 756.7 L410.3 754.4 L411.1 750.8 L411.9 747.7 L412.7 744.7 L413.5 741.8 L414.2 739.1 L415.0 740.6 L415.8 741.7 L416.6 742.2 L417.3 739.9 L418.1 738.7 L418.9 737.0 L419.7 738.0 L420.5 739.9 L421.2 741.2 L422.3 738.7 L423.3 735.1 L424.3 732.3 L425.2 732.0 L426.1 732.9 L427.1 733.4 L428.0 731.5 L428.8 730.1 L429.7 729.6 L430.6 728.4 L431.4 734.3 L432.2 739.2 L433.0 743.3 L433.8 745.4 L434.6 749.6 L435.6 753.0 L436.6 755.6 L437.6 758.0 L438.6 752.9 L439.6 749.7 L440.6 745.6 L441.4 743.0 L442.2 742.0 L443.0 739.4 L443.8 733.5 L444.6 726.8 L445.4 731.8 L446.2 737.7 L447.2 743.2 L448.1 748.1 L449.0 746.8 L450.0 745.5 L450.9 745.4 L451.9 746.1 L452.9 746.3 L453.9 746.5 L454.7 743.7 L455.5 740.8 L456.3 737.7 L457.1 743.1 L457.9 749.5 L458.9 750.5 L459.9 752.1 L460.9 752.5 L461.7 750.0 L462.5 748.2 L463.3 747.3 L464.2 748.8 L465.0 750.6 L465.9 751.2 L466.8 753.5 L467.7 753.0 L468.7 752.8 L469.6 752.0 L470.5 752.0 L471.5 751.0 L472.4 748.4 L473.3 748.8 L474.3 748.6 L475.2 748.2 L476.1 747.7 L477.1 746.9 L478.0 746.9 L478.9 748.2 L479.9 747.6 L480.8 747.0 L481.7 748.2 L482.7 750.0 L483.6 749.4 L484.5 749.2 L485.5 749.5 L486.4 749.0 L487.3 748.2 L488.3 748.2 L489.2 748.0 L490.1 746.3 L491.0 748.0 L491.9 749.8 L492.8 751.2 L493.6 752.1 L494.5 752.3 L495.4 753.4 L496.3 755.3 L497.2 756.7 L498.1 756.8 L499.1 756.1 L500.0 756.3 L500.8 757.3 L501.6 756.7 L502.4 756.4 L503.2 757.1 L504.1 756.6 L504.9 757.1 L505.7 756.2 L506.5 755.3 L507.3 754.6 L508.1 754.7 L508.9 754.1 L509.7 755.0 L510.5 755.0 L511.3 755.7 L512.2 756.0 L513.0 756.4 L513.8 755.4 L514.6 754.9 L515.4 754.7 L516.2 754.4 L517.0 754.5 L517.8 753.3 L518.6 753.4 L519.4 753.6 L520.3 754.2 L521.1 753.2 L521.9 752.9 L522.7 753.6 L523.5 752.9 L524.3 752.7 L525.1 752.7 L525.9 752.5 L526.7 753.4 L527.5 754.0 L528.4 754.1 L529.2 754.2 L530.0 752.4 L530.8 752.9 L531.6 753.0 L532.4 752.6 L533.2 752.4 L534.0 752.1 L534.8 750.8 L535.6 750.2 L536.5 749.7 L537.3 749.9 L538.1 749.8 L538.9 749.7 L539.7 749.4 L540.5 749.8 L541.3 750.3 L542.1 750.7 L542.9 751.2 L543.8 753.0 L544.6 753.4 L545.4 753.6 L546.2 754.0 L547.0 755.8 L547.8 756.6 L548.6 756.6 L549.4 756.0 L550.2 756.0 L551.0 754.6 L551.9 753.0 L552.7 752.2 L553.5 750.3 L554.3 750.6 L555.1 750.0 L555.9 748.2 L556.7 747.1 L557.6 746.4 L558.5 745.9 L559.4 745.1 L560.2 746.2 L561.0 747.2 L561.8 747.9 L562.7 749.4 L563.5 748.8 L564.3 748.2 L565.1 748.4 L565.9 748.2 L566.7 747.9 L567.5 748.6 L568.3 749.9 L569.1 749.3 L569.9 749.8 L570.8 750.1 L571.6 751.1 L572.5 750.3 L573.4 748.4 L574.3 747.6 L575.1 747.1 L575.9 749.5 L576.7 749.9 L577.5 750.8 L578.3 752.2 L579.1 751.5 L579.9 751.1 L580.8 749.9 L581.6 749.7 L582.4 748.9 L583.3 747.2 L584.2 744.4 L585.1 742.2 L586.0 738.8 L586.9 735.5 L587.8 732.7 L588.7 732.4 L589.6 734.0 L590.5 733.5 L591.4 732.8 L592.3 733.3 L593.2 732.4 L594.1 735.6 L595.0 740.9 L595.9 745.4 L596.7 746.2 L597.5 746.5 L598.3 746.1 L599.1 746.8 L599.9 748.1 L600.7 747.3 L601.5 746.5 L602.4 747.3 L603.2 746.6 L604.0 744.7 L604.9 742.5 L605.8 742.0 L606.7 740.6 L607.5 741.6 L608.3 744.3 L609.1 745.3 L609.9 746.9 L610.7 748.4 L611.5 749.0 L612.4 750.0 L613.2 750.1 L614.0 749.1 L614.8 750.0 L615.6 748.9 L616.4 748.7 L617.2 748.1 L618.0 748.0 L618.8 747.9 L619.7 748.2 L620.6 748.7 L621.5 749.1 L622.4 749.8 L623.3 750.4 L624.2 750.8 L625.1 749.8 L626.0 749.1 L626.9 749.9 L627.8 750.4 L628.7 749.5 L629.6 750.1 L630.5 750.0 L631.4 750.6 L632.3 749.3 L633.2 749.1 L634.1 748.2 L635.0 748.1 L635.8 749.4 L636.7 749.6 L637.5 750.8 L638.3 752.2 L639.1 753.7 L639.9 753.9 L640.7 753.3 L641.5 752.1 L642.3 750.9 L643.1 750.6 L644.0 750.2 L644.9 749.8 L645.8 749.4 L646.7 749.4 L647.6 750.3 L648.5 749.8 L649.4 750.2 L650.3 749.9 L651.2 750.1 L652.1 749.9 L653.0 748.3 L653.9 747.4 L654.8 747.2 L655.7 747.1 L656.6 747.5 L657.5 747.7 L658.4 747.0 L659.3 747.4 L660.2 747.6 L661.1 748.4 L662.0 749.1 L662.9 749.4 L663.8 748.6 L664.7 748.6 L665.6 749.6 L666.4 749.8 L667.2 750.1 L668.0 750.9 L668.8 751.8 L669.6 750.0 L670.4 748.5 L671.2 747.2 L672.0 745.6" fill="none" stroke="#4169e1" stroke-width="2" stroke-linejoin="round"/>
<path d="M53.3 746.4 L54.1 744.7 L54.9 743.2 L55.7 741.1 L56.5 739.2 L57.3 741.0 L58.1 743.1 L58.9 746.6 L59.9 746.3 L60.9 747.7 L61.9 748.1 L62.8 748.6 L63.8 747.9 L64.7 747.8 L65.6 747.4 L66.6 747.4 L67.5 747.2 L68.5 747.2 L69.4 747.5 L70.3 748.2 L71.3 748.2 L72.2 748.7 L73.1 748.2 L74.1 747.0 L75.0 747.7 L75.9 747.3 L76.9 747.6 L77.8 747.7 L78.7 747.0 L79.7 747.6 L80.6 747.7 L81.5 746.8 L82.4 746.6 L83.3 746.0 L84.2 746.6 L85.0 746.5 L85.9 745.7 L86.8 746.4 L87.7 747.6 L88.5 748.0 L89.7 738.1 L90.6 739.1 L91.5 738.1 L92.3 739.5 L93.2 740.3 L94.1 739.3 L95.0 739.1 L95.8 736.8 L96.7 735.9 L97.6 734.5 L98.6 732.5 L99.4 737.8 L100.2 743.2 L101.1 743.5 L102.0 744.7 L102.8 746.0 L103.7 746.4 L104.6 744.8 L105.5 743.7 L106.4 742.9 L107.2 742.4 L108.1 743.7 L109.0 744.1 L109.9 746.4 L110.7 746.4 L111.6 746.9 L112.5 747.6 L113.4 747.9 L114.2 748.2 L115.1 747.0 L116.0 747.2 L116.9 746.6 L117.7 745.4 L118.5 744.5 L119.3 743.8 L120.1 742.2 L120.9 743.6 L121.6 744.3 L122.4 747.1 L123.2 743.3 L124.0 741.1 L124.7 739.0 L125.5 740.8 L126.3 742.6 L127.1 744.6 L128.0 743.0 L128.8 742.3 L129.7 741.5 L130.6 741.7 L131.4 740.8 L132.1 740.8 L132.9 740.0 L133.7 742.5 L134.5 746.2 L135.3 749.4 L136.0 750.3 L136.8 751.3 L137.6 752.5 L138.5 753.7 L139.3 754.6 L140.2 756.9 L141.1 758.0 L142.0 756.9 L143.0 756.3 L143.9 756.4 L144.8 757.6 L145.8 757.9 L146.7 757.0 L147.6 755.3 L148.6 754.8 L149.5 753.9 L150.4 753.7 L151.2 751.8 L152.0 749.9 L152.8 747.1 L153.6 744.8 L154.3 743.3 L155.1 740.5 L155.9 740.3 L156.7 739.7 L157.4 739.3 L158.3 737.5 L159.1 736.9 L160.0 736.1 L160.8 733.8 L161.6 732.6 L162.6 733.5 L163.5 736.4 L164.5 739.8 L165.3 740.7 L166.2 741.5 L167.1 742.1 L168.0 743.7 L168.9 743.6 L169.8 743.1 L170.8 742.1 L171.7 742.0 L172.6 742.1 L173.5 743.6 L174.4 744.8 L175.3 745.8 L176.1 746.6 L177.0 747.3 L177.9 747.6 L178.8 747.1 L179.6 747.6 L180.5 748.1 L181.4 747.8 L182.3 747.3 L183.1 747.4 L184.1 746.7 L185.0 746.1 L185.9 745.7 L186.9 745.4 L187.8 744.9 L188.7 745.0 L189.6 745.4 L190.4 745.4 L191.3 746.4 L192.2 746.2 L193.2 746.4 L194.1 747.3 L195.1 747.0 L196.0 747.4 L197.0 748.6 L198.0 750.2 L199.0 751.2 L200.0 752.5 L200.9 752.3 L201.8 751.5 L202.6 751.1 L203.5 750.2 L204.4 747.3 L205.3 746.1 L206.1 745.8 L207.0 745.3 L207.9 744.0 L208.8 742.3 L209.6 740.5 L210.5 739.9 L211.5 739.7 L212.5 739.2 L213.5 739.1 L214.3 737.2 L215.1 736.7 L215.9 736.0 L216.8 735.7 L217.8 735.4 L218.7 735.9 L219.5 738.6 L220.2 740.3 L221.0 741.9 L221.9 743.2 L222.8 743.5 L223.6 744.7 L224.5 744.4 L225.3 745.5 L226.1 748.0 L226.9 750.3 L227.6 750.6 L228.4 751.7 L229.2 753.2 L230.0 750.4 L230.8 748.2 L231.5 746.4 L232.4 745.9 L233.3 745.1 L234.2 744.2 L235.0 743.5 L235.9 745.5 L236.8 745.8 L237.7 745.8 L238.5 748.8 L239.4 749.9 L240.3 750.8 L241.2 751.6 L242.0 753.2 L243.0 753.8 L243.9 753.2 L244.8 753.1 L245.8 752.7 L246.7 754.0 L247.6 753.8 L248.6 754.5 L249.5 754.9 L250.5 754.7 L251.4 755.9 L252.3 755.9 L253.3 754.5 L254.2 754.7 L255.1 754.9 L256.1 753.9 L256.9 753.0 L257.8 752.1 L258.7 750.8 L259.6 748.1 L260.4 747.4 L261.3 746.7 L262.2 745.4 L263.1 744.7 L263.9 744.7 L264.8 746.0 L265.7 746.1 L266.6 745.5 L267.4 746.8 L268.3 746.4 L269.2 747.1 L270.1 747.7 L270.9 745.4 L271.6 745.5 L272.4 742.9 L273.1 734.7 L273.8 727.2 L274.9 711.5 L276.0 697.3 L277.0 665.0 L277.3 614.4 L277.7 655.0 L278.5 683.4 L279.5 711.8 L280.3 723.5 L281.1 733.6 L281.9 740.1 L282.8 748.0 L283.5 750.6 L284.2 752.9 L285.3 749.6 L286.4 745.9 L287.3 744.2 L288.2 743.7 L289.1 743.1 L289.9 742.2 L290.9 741.9 L292.0 743.1 L293.0 741.4 L293.8 747.1 L294.6 752.8 L295.4 754.9 L296.2 756.9 L296.9 759.7 L297.8 759.0 L298.7 758.1 L299.6 758.6 L300.4 757.5 L301.3 755.9 L302.2 754.1 L303.1 752.9 L303.9 752.1 L304.8 750.8 L305.7 750.4 L306.6 749.8 L307.4 748.6 L308.3 750.6 L309.2 751.5 L310.1 752.9 L310.9 753.5 L311.8 754.1 L312.7 754.2 L313.6 754.7 L314.5 755.3 L315.3 753.7 L316.2 754.0 L317.1 753.9 L318.0 753.5 L318.7 753.1 L319.5 753.6 L320.3 754.7 L321.1 751.8 L321.8 747.4 L322.6 744.2 L323.6 742.3 L324.7 738.8 L325.7 735.5 L326.6 733.5 L327.5 730.3 L328.5 727.5 L329.4 730.0 L330.3 732.7 L331.1 739.3 L331.9 746.3 L332.7 752.4 L333.7 753.1 L334.7 752.4 L335.6 751.4 L336.6 751.2 L337.5 750.1 L338.4 748.3 L339.3 746.8 L340.1 746.0 L341.0 747.7 L341.9 747.5 L342.8 747.9 L343.6 748.5 L344.5 748.1 L345.4 748.8 L346.3 748.0 L347.2 747.4 L348.1 750.7 L349.1 752.4 L350.0 753.2 L350.9 751.9 L351.9 751.5 L352.8 751.4 L353.8 749.5 L354.8 747.6 L355.8 744.0 L356.7 742.4 L357.6 740.4 L358.5 740.6 L359.3 738.4 L360.3 739.9 L361.2 740.3 L362.1 741.7 L362.9 745.2 L363.7 749.0 L364.5 751.6 L365.5 753.1 L366.5 754.5 L367.5 755.4 L368.5 755.1 L369.5 754.5 L370.6 753.5 L371.4 750.0 L372.2 744.7 L373.2 742.5 L374.2 740.9 L375.2 737.4 L376.2 734.9 L377.1 733.4 L378.0 731.1 L379.0 730.9 L379.9 730.4 L380.7 740.9 L381.5 751.7 L382.3 754.3 L383.1 755.6 L383.9 756.8 L384.7 756.7 L385.6 756.1 L386.5 756.6 L387.4 757.7 L388.3 758.0 L389.2 759.4 L390.2 758.9 L391.1 758.7 L392.0 759.1 L393.0 759.7 L393.9 760.1 L394.8 759.4 L395.8 760.1 L396.7 760.6 L397.6 758.6 L398.6 758.1 L399.5 757.3 L400.5 756.8 L401.4 756.5 L402.3 757.0 L403.3 758.0 L404.2 759.2 L405.1 758.9 L406.1 758.9 L407.0 759.0 L407.9 759.4 L408.9 759.1 L409.8 759.2 L410.7 760.1 L411.6 758.6 L412.5 756.8 L413.4 755.2 L414.2 753.9 L415.2 751.7 L416.3 749.0 L417.3 747.0 L418.2 748.2 L419.1 749.9 L420.1 751.6 L421.0 752.5 L421.9 753.5 L422.9 754.4 L423.9 752.5 L424.9 750.5 L425.9 747.8 L426.8 747.6 L427.7 747.3 L428.5 747.3 L429.4 746.7 L430.3 745.4 L431.2 745.2 L432.0 744.2 L432.9 743.5 L433.7 743.1 L434.5 742.0 L435.3 742.2 L436.0 745.3 L436.8 748.9 L437.6 751.6 L438.5 753.0 L439.3 753.3 L440.2 753.7 L441.1 754.4 L441.9 753.7 L442.7 752.5 L443.4 752.9 L444.4 755.7 L445.3 759.8 L446.2 757.8 L447.2 755.5 L448.1 754.1 L449.0 753.5 L449.9 753.3 L450.7 751.0 L451.6 750.3 L452.5 750.2 L453.4 750.2 L454.2 749.1 L455.1 748.4 L456.0 750.6 L456.9 751.8 L457.7 753.5 L458.6 754.2 L459.5 754.9 L460.4 755.1 L461.2 753.8 L462.1 753.7 L463.0 754.5 L463.9 756.0 L464.7 756.5 L465.6 757.2 L466.5 757.5 L467.4 757.8 L468.2 758.7 L469.1 759.2 L470.0 759.0 L470.9 758.5 L471.8 757.8 L472.6 758.0 L473.5 757.9 L474.4 756.0 L475.3 755.2 L476.1 754.2 L477.0 752.2 L477.9 751.7 L478.8 749.3 L479.6 747.8 L480.5 748.4 L481.4 747.5 L482.3 746.8 L483.1 746.3 L484.0 745.7 L484.9 746.5 L485.8 746.8 L486.6 748.7 L487.5 750.1 L488.4 751.6 L489.3 752.9 L490.1 754.5 L491.0 755.0 L491.9 755.1 L492.8 755.3 L493.6 757.3 L494.5 756.0 L495.4 754.5 L496.3 752.9 L497.2 751.8 L498.1 751.1 L499.1 750.8 L500.0 749.7 L500.8 749.7 L501.6 748.9 L502.4 747.7 L503.2 746.0 L504.1 745.1 L504.9 744.9 L505.7 745.5 L506.5 745.4 L507.3 746.4 L508.1 746.6 L508.9 745.9 L509.7 745.9 L510.5 745.3 L511.3 744.7 L512.2 744.0 L513.0 744.4 L513.8 745.4 L514.6 746.9 L515.4 748.3 L516.2 749.1 L517.0 747.0 L517.8 746.1 L518.6 745.8 L519.4 744.0 L520.3 744.2 L521.1 744.3 L521.9 744.9 L522.7 744.0 L523.5 743.9 L524.3 744.3 L525.1 743.8 L525.9 742.9 L526.7 741.3 L527.5 740.8 L528.4 740.7 L529.2 740.3 L530.0 741.8 L530.8 741.8 L531.6 742.0 L532.4 742.3 L533.2 743.7 L534.0 744.0 L534.8 744.6 L535.6 745.3 L536.5 745.6 L537.3 744.7 L538.1 743.4 L538.9 742.6 L539.7 742.5 L540.5 741.9 L541.3 742.3 L542.1 742.6 L542.9 743.4 L543.8 743.9 L544.6 744.4 L545.5 741.8 L546.4 740.4 L547.3 738.8 L548.1 739.1 L548.9 739.2 L549.7 739.1 L550.5 739.3 L551.3 739.9 L552.1 739.5 L552.9 739.0 L553.7 738.3 L554.6 737.9 L555.4 737.5 L556.3 738.3 L557.2 739.9 L558.1 741.1 L558.9 740.0 L559.7 738.9 L560.5 737.4 L561.3 735.8 L562.1 734.8 L562.9 737.6 L563.7 737.8 L564.5 738.7 L565.4 740.8 L566.2 741.9 L567.0 742.8 L567.8 744.0 L568.6 745.8 L569.4 746.4 L570.2 746.6 L571.0 745.4 L571.8 744.9 L572.6 744.9 L573.5 745.0 L574.3 744.9 L575.1 743.7 L575.9 743.3 L576.7 742.7 L577.5 741.0 L578.3 741.5 L579.1 741.2 L579.9 740.9 L580.8 740.9 L581.6 741.3 L582.4 740.8 L583.2 739.1 L584.1 737.3 L585.0 736.1 L585.9 735.9 L586.8 734.9 L587.7 734.6 L588.6 733.5 L589.4 734.4 L590.2 735.3 L591.0 736.1 L591.8 738.0 L592.6 740.5 L593.4 740.9 L594.3 741.0 L595.1 741.0 L595.9 742.2 L596.7 743.8 L597.5 743.7 L598.3 745.4 L599.1 746.3 L599.9 747.7 L600.7 748.2 L601.5 746.5 L602.4 744.6 L603.2 744.6 L604.0 745.0 L604.8 745.0 L605.6 744.4 L606.4 743.9 L607.2 742.8 L608.0 742.6 L608.8 741.7 L609.6 740.6 L610.5 739.8 L611.3 739.9 L612.1 739.3 L612.9 738.3 L613.7 737.5 L614.5 738.1 L615.3 736.8 L616.1 735.9 L617.0 736.7 L617.9 736.2 L618.8 735.7 L619.7 736.6 L620.6 736.1 L621.5 736.7 L622.4 736.6 L623.3 735.7 L624.2 736.6 L625.1 736.0 L626.0 735.3 L626.9 734.7 L627.8 734.9 L628.7 735.0 L629.6 735.9 L630.5 735.4 L631.4 736.8 L632.3 736.1 L633.1 737.0 L634.0 738.3 L634.8 739.3 L635.6 739.6 L636.4 740.7 L637.2 742.8 L638.0 743.3 L638.8 743.6 L639.6 744.0 L640.4 744.8 L641.3 744.6 L642.2 744.8 L643.1 745.6 L644.0 747.2 L644.9 747.8 L645.8 747.7 L646.6 746.5 L647.5 746.0 L648.3 744.2 L649.1 743.2 L649.9 742.2 L650.7 740.4 L651.5 740.8 L652.3 740.4 L653.1 740.5 L653.9 738.0 L654.8 738.4 L655.6 738.4 L656.4 738.7 L657.2 738.8 L658.0 739.8 L658.8 740.7 L659.6 740.6 L660.4 741.1 L661.2 741.9 L662.0 742.5 L662.9 741.7 L663.7 741.4 L664.5 741.2 L665.3 739.9 L666.1 738.6 L667.0 735.6 L667.9 734.9 L668.7 733.1 L669.6 731.0 L670.4 729.9 L671.2 730.6 L672.0 730.7" fill="none" stroke="#ff4500" stroke-width="2" stroke-linejoin="round"/>
</g>
<line x1="285.0" x2="285.0" y1="186.9" y2="19.1" stroke="#000" stroke-width="2.1" stroke-dasharray="6.9 3.4"/>
<line x1="367.1" x2="367.1" y1="186.9" y2="19.1" stroke="#000" stroke-width="2.1" stroke-dasharray="6.9 3.4"/>
<line x1="445.3" x2="445.3" y1="186.9" y2="19.1" stroke="#000" stroke-width="2.1" stroke-dasharray="6.9 3.4"/>
<line x1="285.0" x2="285.0" y1="380.0" y2="212.9" stroke="#000" stroke-width="2.1" stroke-dasharray="6.9 3.4"/>
<line x1="367.1" x2="367.1" y1="380.0" y2="212.9" stroke="#000" stroke-width="2.1" stroke-dasharray="6.9 3.4"/>
<line x1="445.3" x2="445.3" y1="380.0" y2="212.9" stroke="#000" stroke-width="2.1" stroke-dasharray="6.9 3.4"/>
<line x1="285.0" x2="285.0" y1="573.0" y2="404.8" stroke="#000" stroke-width="2.1" stroke-dasharray="6.9 3.4"/>
<line x1="367.1" x2="367.1" y1="573.0" y2="404.8" stroke="#000" stroke-width="2.1" stroke-dasharray="6.9 3.4"/>
<line x1="445.3" x2="445.3" y1="573.0" y2="404.8" stroke="#000" stroke-width="2.1" stroke-dasharray="6.9 3.4"/>
<line x1="285.0" x2="285.0" y1="766.6" y2="598.2" stroke="#000" stroke-width="2.1" stroke-dasharray="6.9 3.4"/>
<line x1="367.1" x2="367.1" y1="766.6" y2="598.2" stroke="#000" stroke-width="2.1" stroke-dasharray="6.9 3.4"/>
<line x1="445.3" x2="445.3" y1="766.6" y2="598.2" stroke="#000" stroke-width="2.1" stroke-dasharray="6.9 3.4"/>
<path d="M53.5 19.1 v7.2 M53.5 186.9 v-7.2" stroke="#000" stroke-width="1.6"/>
<path d="M74.1 19.1 v4.2 M74.1 186.9 v-4.2" stroke="#000" stroke-width="1.2"/>
<path d="M94.8 19.1 v4.2 M94.8 186.9 v-4.2" stroke="#000" stroke-width="1.2"/>
<path d="M115.4 19.1 v4.2 M115.4 186.9 v-4.2" stroke="#000" stroke-width="1.2"/>
<path d="M136.0 19.1 v4.2 M136.0 186.9 v-4.2" stroke="#000" stroke-width="1.2"/>
<path d="M156.7 19.1 v7.2 M156.7 186.9 v-7.2" stroke="#000" stroke-width="1.6"/>
<path d="M177.3 19.1 v4.2 M177.3 186.9 v-4.2" stroke="#000" stroke-width="1.2"/>
<path d="M197.9 19.1 v4.2 M197.9 186.9 v-4.2" stroke="#000" stroke-width="1.2"/>
<path d="M218.6 19.1 v4.2 M218.6 186.9 v-4.2" stroke="#000" stroke-width="1.2"/>
<path d="M239.2 19.1 v4.2 M239.2 186.9 v-4.2" stroke="#000" stroke-width="1.2"/>
<path d="M259.8 19.1 v7.2 M259.8 186.9 v-7.2" stroke="#000" stroke-width="1.6"/>
<path d="M280.5 19.1 v4.2 M280.5 186.9 v-4.2" stroke="#000" stroke-width="1.2"/>
<path d="M301.1 19.1 v4.2 M301.1 186.9 v-4.2" stroke="#000" stroke-width="1.2"/>
<path d="M321.7 19.1 v4.2 M321.7 186.9 v-4.2" stroke="#000" stroke-width="1.2"/>
<path d="M342.4 19.1 v4.2 M342.4 186.9 v-4.2" stroke="#000" stroke-width="1.2"/>
<path d="M363.0 19.1 v7.2 M363.0 186.9 v-7.2" stroke="#000" stroke-width="1.6"/>
<path d="M383.6 19.1 v4.2 M383.6 186.9 v-4.2" stroke="#000" stroke-width="1.2"/>
<path d="M404.3 19.1 v4.2 M404.3 186.9 v-4.2" stroke="#000" stroke-width="1.2"/>
<path d="M424.9 19.1 v4.2 M424.9 186.9 v-4.2" stroke="#000" stroke-width="1.2"/>
<path d="M445.5 19.1 v4.2 M445.5 186.9 v-4.2" stroke="#000" stroke-width="1.2"/>
<path d="M466.2 19.1 v7.2 M466.2 186.9 v-7.2" stroke="#000" stroke-width="1.6"/>
<path d="M486.8 19.1 v4.2 M486.8 186.9 v-4.2" stroke="#000" stroke-width="1.2"/>
<path d="M507.4 19.1 v4.2 M507.4 186.9 v-4.2" stroke="#000" stroke-width="1.2"/>
<path d="M528.1 19.1 v4.2 M528.1 186.9 v-4.2" stroke="#000" stroke-width="1.2"/>
<path d="M548.7 19.1 v4.2 M548.7 186.9 v-4.2" stroke="#000" stroke-width="1.2"/>
<path d="M569.3 19.1 v7.2 M569.3 186.9 v-7.2" stroke="#000" stroke-width="1.6"/>
<path d="M590.0 19.1 v4.2 M590.0 186.9 v-4.2" stroke="#000" stroke-width="1.2"/>
<path d="M610.6 19.1 v4.2 M610.6 186.9 v-4.2" stroke="#000" stroke-width="1.2"/>
<path d="M631.2 19.1 v4.2 M631.2 186.9 v-4.2" stroke="#000" stroke-width="1.2"/>
<path d="M651.9 19.1 v4.2 M651.9 186.9 v-4.2" stroke="#000" stroke-width="1.2"/>
<path d="M672.5 19.1 v7.2 M672.5 186.9 v-7.2" stroke="#000" stroke-width="1.6"/>
<path d="M53.5 186.9 h7.2 M672.5 186.9 h-7.2" stroke="#000" stroke-width="1.6"/>
<path d="M53.5 103.0 h7.2 M672.5 103.0 h-7.2" stroke="#000" stroke-width="1.6"/>
<path d="M53.5 19.1 h7.2 M672.5 19.1 h-7.2" stroke="#000" stroke-width="1.6"/>
<path d="M53.5 170.1 h4.2 M672.5 170.1 h-4.2" stroke="#000" stroke-width="1.25"/>
<path d="M53.5 153.3 h4.2 M672.5 153.3 h-4.2" stroke="#000" stroke-width="1.25"/>
<path d="M53.5 136.6 h4.2 M672.5 136.6 h-4.2" stroke="#000" stroke-width="1.25"/>
<path d="M53.5 119.8 h4.2 M672.5 119.8 h-4.2" stroke="#000" stroke-width="1.25"/>
<path d="M53.5 86.2 h4.2 M672.5 86.2 h-4.2" stroke="#000" stroke-width="1.25"/>
<path d="M53.5 69.4 h4.2 M672.5 69.4 h-4.2" stroke="#000" stroke-width="1.25"/>
<path d="M53.5 52.7 h4.2 M672.5 52.7 h-4.2" stroke="#000" stroke-width="1.25"/>
<path d="M53.5 35.9 h4.2 M672.5 35.9 h-4.2" stroke="#000" stroke-width="1.25"/>
<path d="M53.5 212.9 v7.2 M53.5 380.0 v-7.2" stroke="#000" stroke-width="1.6"/>
<path d="M74.1 212.9 v4.2 M74.1 380.0 v-4.2" stroke="#000" stroke-width="1.2"/>
<path d="M94.8 212.9 v4.2 M94.8 380.0 v-4.2" stroke="#000" stroke-width="1.2"/>
<path d="M115.4 212.9 v4.2 M115.4 380.0 v-4.2" stroke="#000" stroke-width="1.2"/>
<path d="M136.0 212.9 v4.2 M136.0 380.0 v-4.2" stroke="#000" stroke-width="1.2"/>
<path d="M156.7 212.9 v7.2 M156.7 380.0 v-7.2" stroke="#000" stroke-width="1.6"/>
<path d="M177.3 212.9 v4.2 M177.3 380.0 v-4.2" stroke="#000" stroke-width="1.2"/>
<path d="M197.9 212.9 v4.2 M197.9 380.0 v-4.2" stroke="#000" stroke-width="1.2"/>
<path d="M218.6 212.9 v4.2 M218.6 380.0 v-4.2" stroke="#000" stroke-width="1.2"/>
<path d="M239.2 212.9 v4.2 M239.2 380.0 v-4.2" stroke="#000" stroke-width="1.2"/>
<path d="M259.8 212.9 v7.2 M259.8 380.0 v-7.2" stroke="#000" stroke-width="1.6"/>
<path d="M280.5 212.9 v4.2 M280.5 380.0 v-4.2" stroke="#000" stroke-width="1.2"/>
<path d="M301.1 212.9 v4.2 M301.1 380.0 v-4.2" stroke="#000" stroke-width="1.2"/>
<path d="M321.7 212.9 v4.2 M321.7 380.0 v-4.2" stroke="#000" stroke-width="1.2"/>
<path d="M342.4 212.9 v4.2 M342.4 380.0 v-4.2" stroke="#000" stroke-width="1.2"/>
<path d="M363.0 212.9 v7.2 M363.0 380.0 v-7.2" stroke="#000" stroke-width="1.6"/>
<path d="M383.6 212.9 v4.2 M383.6 380.0 v-4.2" stroke="#000" stroke-width="1.2"/>
<path d="M404.3 212.9 v4.2 M404.3 380.0 v-4.2" stroke="#000" stroke-width="1.2"/>
<path d="M424.9 212.9 v4.2 M424.9 380.0 v-4.2" stroke="#000" stroke-width="1.2"/>
<path d="M445.5 212.9 v4.2 M445.5 380.0 v-4.2" stroke="#000" stroke-width="1.2"/>
<path d="M466.2 212.9 v7.2 M466.2 380.0 v-7.2" stroke="#000" stroke-width="1.6"/>
<path d="M486.8 212.9 v4.2 M486.8 380.0 v-4.2" stroke="#000" stroke-width="1.2"/>
<path d="M507.4 212.9 v4.2 M507.4 380.0 v-4.2" stroke="#000" stroke-width="1.2"/>
<path d="M528.1 212.9 v4.2 M528.1 380.0 v-4.2" stroke="#000" stroke-width="1.2"/>
<path d="M548.7 212.9 v4.2 M548.7 380.0 v-4.2" stroke="#000" stroke-width="1.2"/>
<path d="M569.3 212.9 v7.2 M569.3 380.0 v-7.2" stroke="#000" stroke-width="1.6"/>
<path d="M590.0 212.9 v4.2 M590.0 380.0 v-4.2" stroke="#000" stroke-width="1.2"/>
<path d="M610.6 212.9 v4.2 M610.6 380.0 v-4.2" stroke="#000" stroke-width="1.2"/>
<path d="M631.2 212.9 v4.2 M631.2 380.0 v-4.2" stroke="#000" stroke-width="1.2"/>
<path d="M651.9 212.9 v4.2 M651.9 380.0 v-4.2" stroke="#000" stroke-width="1.2"/>
<path d="M672.5 212.9 v7.2 M672.5 380.0 v-7.2" stroke="#000" stroke-width="1.6"/>
<path d="M53.5 317.7 h7.2 M672.5 317.7 h-7.2" stroke="#000" stroke-width="1.6"/>
<path d="M53.5 212.9 h7.2 M672.5 212.9 h-7.2" stroke="#000" stroke-width="1.6"/>
<path d="M53.5 359.6 h4.2 M672.5 359.6 h-4.2" stroke="#000" stroke-width="1.25"/>
<path d="M53.5 338.7 h4.2 M672.5 338.7 h-4.2" stroke="#000" stroke-width="1.25"/>
<path d="M53.5 296.7 h4.2 M672.5 296.7 h-4.2" stroke="#000" stroke-width="1.25"/>
<path d="M53.5 275.8 h4.2 M672.5 275.8 h-4.2" stroke="#000" stroke-width="1.25"/>
<path d="M53.5 254.8 h4.2 M672.5 254.8 h-4.2" stroke="#000" stroke-width="1.25"/>
<path d="M53.5 233.9 h4.2 M672.5 233.9 h-4.2" stroke="#000" stroke-width="1.25"/>
<path d="M53.5 404.8 v7.2 M53.5 573.0 v-7.2" stroke="#000" stroke-width="1.6"/>
<path d="M74.1 404.8 v4.2 M74.1 573.0 v-4.2" stroke="#000" stroke-width="1.2"/>
<path d="M94.8 404.8 v4.2 M94.8 573.0 v-4.2" stroke="#000" stroke-width="1.2"/>
<path d="M115.4 404.8 v4.2 M115.4 573.0 v-4.2" stroke="#000" stroke-width="1.2"/>
<path d="M136.0 404.8 v4.2 M136.0 573.0 v-4.2" stroke="#000" stroke-width="1.2"/>
<path d="M156.7 404.8 v7.2 M156.7 573.0 v-7.2" stroke="#000" stroke-width="1.6"/>
<path d="M177.3 404.8 v4.2 M177.3 573.0 v-4.2" stroke="#000" stroke-width="1.2"/>
<path d="M197.9 404.8 v4.2 M197.9 573.0 v-4.2" stroke="#000" stroke-width="1.2"/>
<path d="M218.6 404.8 v4.2 M218.6 573.0 v-4.2" stroke="#000" stroke-width="1.2"/>
<path d="M239.2 404.8 v4.2 M239.2 573.0 v-4.2" stroke="#000" stroke-width="1.2"/>
<path d="M259.8 404.8 v7.2 M259.8 573.0 v-7.2" stroke="#000" stroke-width="1.6"/>
<path d="M280.5 404.8 v4.2 M280.5 573.0 v-4.2" stroke="#000" stroke-width="1.2"/>
<path d="M301.1 404.8 v4.2 M301.1 573.0 v-4.2" stroke="#000" stroke-width="1.2"/>
<path d="M321.7 404.8 v4.2 M321.7 573.0 v-4.2" stroke="#000" stroke-width="1.2"/>
<path d="M342.4 404.8 v4.2 M342.4 573.0 v-4.2" stroke="#000" stroke-width="1.2"/>
<path d="M363.0 404.8 v7.2 M363.0 573.0 v-7.2" stroke="#000" stroke-width="1.6"/>
<path d="M383.6 404.8 v4.2 M383.6 573.0 v-4.2" stroke="#000" stroke-width="1.2"/>
<path d="M404.3 404.8 v4.2 M404.3 573.0 v-4.2" stroke="#000" stroke-width="1.2"/>
<path d="M424.9 404.8 v4.2 M424.9 573.0 v-4.2" stroke="#000" stroke-width="1.2"/>
<path d="M445.5 404.8 v4.2 M445.5 573.0 v-4.2" stroke="#000" stroke-width="1.2"/>
<path d="M466.2 404.8 v7.2 M466.2 573.0 v-7.2" stroke="#000" stroke-width="1.6"/>
<path d="M486.8 404.8 v4.2 M486.8 573.0 v-4.2" stroke="#000" stroke-width="1.2"/>
<path d="M507.4 404.8 v4.2 M507.4 573.0 v-4.2" stroke="#000" stroke-width="1.2"/>
<path d="M528.1 404.8 v4.2 M528.1 573.0 v-4.2" stroke="#000" stroke-width="1.2"/>
<path d="M548.7 404.8 v4.2 M548.7 573.0 v-4.2" stroke="#000" stroke-width="1.2"/>
<path d="M569.3 404.8 v7.2 M569.3 573.0 v-7.2" stroke="#000" stroke-width="1.6"/>
<path d="M590.0 404.8 v4.2 M590.0 573.0 v-4.2" stroke="#000" stroke-width="1.2"/>
<path d="M610.6 404.8 v4.2 M610.6 573.0 v-4.2" stroke="#000" stroke-width="1.2"/>
<path d="M631.2 404.8 v4.2 M631.2 573.0 v-4.2" stroke="#000" stroke-width="1.2"/>
<path d="M651.9 404.8 v4.2 M651.9 573.0 v-4.2" stroke="#000" stroke-width="1.2"/>
<path d="M672.5 404.8 v7.2 M672.5 573.0 v-7.2" stroke="#000" stroke-width="1.6"/>
<path d="M53.5 545.3 h7.2 M672.5 545.3 h-7.2" stroke="#000" stroke-width="1.6"/>
<path d="M53.5 489.7 h7.2 M672.5 489.7 h-7.2" stroke="#000" stroke-width="1.6"/>
<path d="M53.5 434.1 h7.2 M672.5 434.1 h-7.2" stroke="#000" stroke-width="1.6"/>
<path d="M53.5 567.5 h4.2 M672.5 567.5 h-4.2" stroke="#000" stroke-width="1.25"/>
<path d="M53.5 556.4 h4.2 M672.5 556.4 h-4.2" stroke="#000" stroke-width="1.25"/>
<path d="M53.5 534.2 h4.2 M672.5 534.2 h-4.2" stroke="#000" stroke-width="1.25"/>
<path d="M53.5 523.1 h4.2 M672.5 523.1 h-4.2" stroke="#000" stroke-width="1.25"/>
<path d="M53.5 511.9 h4.2 M672.5 511.9 h-4.2" stroke="#000" stroke-width="1.25"/>
<path d="M53.5 500.8 h4.2 M672.5 500.8 h-4.2" stroke="#000" stroke-width="1.25"/>
<path d="M53.5 478.6 h4.2 M672.5 478.6 h-4.2" stroke="#000" stroke-width="1.25"/>
<path d="M53.5 467.5 h4.2 M672.5 467.5 h-4.2" stroke="#000" stroke-width="1.25"/>
<path d="M53.5 456.3 h4.2 M672.5 456.3 h-4.2" stroke="#000" stroke-width="1.25"/>
<path d="M53.5 445.2 h4.2 M672.5 445.2 h-4.2" stroke="#000" stroke-width="1.25"/>
<path d="M53.5 423.0 h4.2 M672.5 423.0 h-4.2" stroke="#000" stroke-width="1.25"/>
<path d="M53.5 411.9 h4.2 M672.5 411.9 h-4.2" stroke="#000" stroke-width="1.25"/>
<path d="M53.5 598.2 v7.2 M53.5 766.6 v-7.2" stroke="#000" stroke-width="1.6"/>
<path d="M74.1 598.2 v4.2 M74.1 766.6 v-4.2" stroke="#000" stroke-width="1.2"/>
<path d="M94.8 598.2 v4.2 M94.8 766.6 v-4.2" stroke="#000" stroke-width="1.2"/>
<path d="M115.4 598.2 v4.2 M115.4 766.6 v-4.2" stroke="#000" stroke-width="1.2"/>
<path d="M136.0 598.2 v4.2 M136.0 766.6 v-4.2" stroke="#000" stroke-width="1.2"/>
<path d="M156.7 598.2 v7.2 M156.7 766.6 v-7.2" stroke="#000" stroke-width="1.6"/>
<path d="M177.3 598.2 v4.2 M177.3 766.6 v-4.2" stroke="#000" stroke-width="1.2"/>
<path d="M197.9 598.2 v4.2 M197.9 766.6 v-4.2" stroke="#000" stroke-width="1.2"/>
<path d="M218.6 598.2 v4.2 M218.6 766.6 v-4.2" stroke="#000" stroke-width="1.2"/>
<path d="M239.2 598.2 v4.2 M239.2 766.6 v-4.2" stroke="#000" stroke-width="1.2"/>
<path d="M259.8 598.2 v7.2 M259.8 766.6 v-7.2" stroke="#000" stroke-width="1.6"/>
<path d="M280.5 598.2 v4.2 M280.5 766.6 v-4.2" stroke="#000" stroke-width="1.2"/>
<path d="M301.1 598.2 v4.2 M301.1 766.6 v-4.2" stroke="#000" stroke-width="1.2"/>
<path d="M321.7 598.2 v4.2 M321.7 766.6 v-4.2" stroke="#000" stroke-width="1.2"/>
<path d="M342.4 598.2 v4.2 M342.4 766.6 v-4.2" stroke="#000" stroke-width="1.2"/>
<path d="M363.0 598.2 v7.2 M363.0 766.6 v-7.2" stroke="#000" stroke-width="1.6"/>
<path d="M383.6 598.2 v4.2 M383.6 766.6 v-4.2" stroke="#000" stroke-width="1.2"/>
<path d="M404.3 598.2 v4.2 M404.3 766.6 v-4.2" stroke="#000" stroke-width="1.2"/>
<path d="M424.9 598.2 v4.2 M424.9 766.6 v-4.2" stroke="#000" stroke-width="1.2"/>
<path d="M445.5 598.2 v4.2 M445.5 766.6 v-4.2" stroke="#000" stroke-width="1.2"/>
<path d="M466.2 598.2 v7.2 M466.2 766.6 v-7.2" stroke="#000" stroke-width="1.6"/>
<path d="M486.8 598.2 v4.2 M486.8 766.6 v-4.2" stroke="#000" stroke-width="1.2"/>
<path d="M507.4 598.2 v4.2 M507.4 766.6 v-4.2" stroke="#000" stroke-width="1.2"/>
<path d="M528.1 598.2 v4.2 M528.1 766.6 v-4.2" stroke="#000" stroke-width="1.2"/>
<path d="M548.7 598.2 v4.2 M548.7 766.6 v-4.2" stroke="#000" stroke-width="1.2"/>
<path d="M569.3 598.2 v7.2 M569.3 766.6 v-7.2" stroke="#000" stroke-width="1.6"/>
<path d="M590.0 598.2 v4.2 M590.0 766.6 v-4.2" stroke="#000" stroke-width="1.2"/>
<path d="M610.6 598.2 v4.2 M610.6 766.6 v-4.2" stroke="#000" stroke-width="1.2"/>
<path d="M631.2 598.2 v4.2 M631.2 766.6 v-4.2" stroke="#000" stroke-width="1.2"/>
<path d="M651.9 598.2 v4.2 M651.9 766.6 v-4.2" stroke="#000" stroke-width="1.2"/>
<path d="M672.5 598.2 v7.2 M672.5 766.6 v-7.2" stroke="#000" stroke-width="1.6"/>
<path d="M53.5 747.6 h7.2 M672.5 747.6 h-7.2" stroke="#000" stroke-width="1.6"/>
<path d="M53.5 654.4 h7.2 M672.5 654.4 h-7.2" stroke="#000" stroke-width="1.6"/>
<path d="M53.5 729.0 h4.2 M672.5 729.0 h-4.2" stroke="#000" stroke-width="1.25"/>
<path d="M53.5 710.3 h4.2 M672.5 710.3 h-4.2" stroke="#000" stroke-width="1.25"/>
<path d="M53.5 691.6 h4.2 M672.5 691.6 h-4.2" stroke="#000" stroke-width="1.25"/>
<path d="M53.5 673.0 h4.2 M672.5 673.0 h-4.2" stroke="#000" stroke-width="1.25"/>
<path d="M53.5 635.7 h4.2 M672.5 635.7 h-4.2" stroke="#000" stroke-width="1.25"/>
<path d="M53.5 617.1 h4.2 M672.5 617.1 h-4.2" stroke="#000" stroke-width="1.25"/>
<rect x="53.5" y="19.1" width="619.0" height="167.8" fill="none" stroke="#000" stroke-width="1.6"/>
<rect x="53.5" y="212.9" width="619.0" height="167.1" fill="none" stroke="#000" stroke-width="1.6"/>
<rect x="53.5" y="404.8" width="619.0" height="168.2" fill="none" stroke="#000" stroke-width="1.6"/>
<rect x="53.5" y="598.2" width="619.0" height="168.4" fill="none" stroke="#000" stroke-width="1.6"/>
<text transform="translate(47.4 25.3) scale(1.070 1)" font-family="Liberation Sans, sans-serif" font-size="16.0" text-anchor="end" fill="#111"  >0.2</text>
<text transform="translate(47.4 109.2) scale(1.070 1)" font-family="Liberation Sans, sans-serif" font-size="16.0" text-anchor="end" fill="#111"  >0.1</text>
<text transform="translate(47.4 193.1) scale(1.070 1)" font-family="Liberation Sans, sans-serif" font-size="16.0" text-anchor="end" fill="#111"  >0.0</text>
<text transform="translate(47.4 219.1) scale(1.070 1)" font-family="Liberation Sans, sans-serif" font-size="16.0" text-anchor="end" fill="#111"  >1.0</text>
<text transform="translate(47.4 323.9) scale(1.070 1)" font-family="Liberation Sans, sans-serif" font-size="16.0" text-anchor="end" fill="#111"  >0.5</text>
<text transform="translate(47.4 551.5) scale(1.070 1)" font-family="Liberation Sans, sans-serif" font-size="16.0" text-anchor="end" fill="#111"  >0</text>
<text transform="translate(47.4 495.9) scale(1.070 1)" font-family="Liberation Sans, sans-serif" font-size="16.0" text-anchor="end" fill="#111"  >1</text>
<text transform="translate(47.4 440.3) scale(1.070 1)" font-family="Liberation Sans, sans-serif" font-size="16.0" text-anchor="end" fill="#111"  >2</text>
<text transform="translate(47.4 753.8) scale(1.070 1)" font-family="Liberation Sans, sans-serif" font-size="16.0" text-anchor="end" fill="#111"  >0</text>
<text transform="translate(47.4 660.6) scale(1.070 1)" font-family="Liberation Sans, sans-serif" font-size="16.0" text-anchor="end" fill="#111"  >5</text>
<text transform="translate(53.5 783.3) scale(1.070 1)" font-family="Liberation Sans, sans-serif" font-size="16.0" text-anchor="middle" fill="#111"  >220</text>
<text transform="translate(156.7 783.3) scale(1.070 1)" font-family="Liberation Sans, sans-serif" font-size="16.0" text-anchor="middle" fill="#111"  >230</text>
<text transform="translate(259.8 783.3) scale(1.070 1)" font-family="Liberation Sans, sans-serif" font-size="16.0" text-anchor="middle" fill="#111"  >240</text>
<text transform="translate(363.0 783.3) scale(1.070 1)" font-family="Liberation Sans, sans-serif" font-size="16.0" text-anchor="middle" fill="#111"  >250</text>
<text transform="translate(466.2 783.3) scale(1.070 1)" font-family="Liberation Sans, sans-serif" font-size="16.0" text-anchor="middle" fill="#111"  >260</text>
<text transform="translate(569.3 783.3) scale(1.070 1)" font-family="Liberation Sans, sans-serif" font-size="16.0" text-anchor="middle" fill="#111"  >270</text>
<text transform="translate(672.5 783.3) scale(1.070 1)" font-family="Liberation Sans, sans-serif" font-size="16.0" text-anchor="middle" fill="#111"  >280</text>
<text transform="translate(672.0 11.0) scale(1.050 1)" font-family="Liberation Sans, sans-serif" font-size="16.0" text-anchor="end" fill="#111"  >#85214</text>
<text transform="translate(59.9 45.7) scale(1.140 1)" font-family="Liberation Sans, sans-serif" font-size="20.5" text-anchor="start" fill="#111"  >(<tspan font-style="italic">a</tspan>)</text>
<text transform="translate(59.9 239.5) scale(1.140 1)" font-family="Liberation Sans, sans-serif" font-size="20.5" text-anchor="start" fill="#111"  >(<tspan font-style="italic">b</tspan>)</text>
<text transform="translate(59.9 431.4) scale(1.140 1)" font-family="Liberation Sans, sans-serif" font-size="20.5" text-anchor="start" fill="#111"  >(<tspan font-style="italic">c</tspan>)</text>
<text transform="translate(59.9 624.8) scale(1.140 1)" font-family="Liberation Sans, sans-serif" font-size="20.5" text-anchor="start" fill="#111"  >(<tspan font-style="italic">d</tspan>)</text>
<text transform="translate(322.0 83.8) scale(1.140 1)" font-family="Liberation Sans, sans-serif" font-size="18.5" text-anchor="middle" fill="#111"  letter-spacing="0.0">(i)</text>
<text transform="translate(407.6 83.8) scale(1.140 1)" font-family="Liberation Sans, sans-serif" font-size="18.5" text-anchor="middle" fill="#111"  letter-spacing="1.0">(ii)</text>
<text transform="translate(493.0 83.8) scale(1.140 1)" font-family="Liberation Sans, sans-serif" font-size="18.5" text-anchor="middle" fill="#111"  letter-spacing="0.9">(iii)</text>
<text transform="translate(362.8 802.6) scale(1.135 1)" font-family="Liberation Sans, sans-serif" font-size="16.0" text-anchor="middle" fill="#111"  ><tspan font-style="italic">Time</tspan>(ms)</text>
<text transform="translate(12.8 103.0) rotate(-90) scale(1.130 1)" font-family="Liberation Sans, sans-serif" font-size="15.4" text-anchor="middle" fill="#111"  >⟨<tspan font-style="italic">I</tspan><tspan font-size="11" dy="2.5">sat</tspan><tspan dy="-2.5">⟩(A)</tspan></text>
<text transform="translate(12.8 296.5) rotate(-90) scale(1.130 1)" font-family="Liberation Sans, sans-serif" font-size="15.4" text-anchor="middle" fill="#111"  ><tspan font-style="italic">σ</tspan><tspan font-size="11" dy="2.5">sat</tspan><tspan dy="-2.5">/⟨</tspan><tspan font-style="italic">I</tspan><tspan font-size="11" dy="2.5">sat</tspan><tspan dy="-2.5">⟩</tspan></text>
<text transform="translate(28.5 489.5) rotate(-90) scale(1.130 1)" font-family="Liberation Sans, sans-serif" font-size="15.4" text-anchor="middle" fill="#111"  ><tspan font-style="italic">Skewness</tspan></text>
<text transform="translate(28.5 682.5) rotate(-90) scale(1.130 1)" font-family="Liberation Sans, sans-serif" font-size="15.4" text-anchor="middle" fill="#111"  ><tspan font-style="italic">Kurtosis</tspan></text>
<path d="M2.7 329.2 C1.3 328.3 1.5 327.3 2.3 326.6 S3.3 325 1.9 324" fill="none" stroke="#1a1a1a" stroke-width="1"/>
<rect x="568.2" y="27.2" width="96.7" height="48.5" rx="3" ry="3" fill="#fff" fill-opacity="0.8" stroke="#ccc" stroke-width="1"/>
<line x1="572.9" x2="606.2" y1="38.9" y2="38.9" stroke="#4169e1" stroke-width="2"/>
<line x1="572.9" x2="606.2" y1="60.4" y2="60.4" stroke="#ff4500" stroke-width="2"/>
<text transform="translate(618.0 44.4) scale(1.030 1)" font-family="Liberation Sans, sans-serif" font-size="16.0" text-anchor="start" fill="#111"  >Ch5</text>
<text transform="translate(618.0 65.9) scale(1.050 1)" font-family="Liberation Sans, sans-serif" font-size="16.0" text-anchor="start" fill="#111"  >Ch11</text>
<rect x="568.2" y="221.0" width="96.7" height="48.5" rx="3" ry="3" fill="#fff" fill-opacity="0.8" stroke="#ccc" stroke-width="1"/>
<line x1="572.9" x2="606.2" y1="232.7" y2="232.7" stroke="#4169e1" stroke-width="2"/>
<line x1="572.9" x2="606.2" y1="254.2" y2="254.2" stroke="#ff4500" stroke-width="2"/>
<text transform="translate(618.0 238.2) scale(1.030 1)" font-family="Liberation Sans, sans-serif" font-size="16.0" text-anchor="start" fill="#111"  >Ch5</text>
<text transform="translate(618.0 259.7) scale(1.050 1)" font-family="Liberation Sans, sans-serif" font-size="16.0" text-anchor="start" fill="#111"  >Ch11</text>
<rect x="568.2" y="412.9" width="96.7" height="48.5" rx="3" ry="3" fill="#fff" fill-opacity="0.8" stroke="#ccc" stroke-width="1"/>
<line x1="572.9" x2="606.2" y1="424.6" y2="424.6" stroke="#4169e1" stroke-width="2"/>
<line x1="572.9" x2="606.2" y1="446.1" y2="446.1" stroke="#ff4500" stroke-width="2"/>
<text transform="translate(618.0 430.1) scale(1.030 1)" font-family="Liberation Sans, sans-serif" font-size="16.0" text-anchor="start" fill="#111"  >Ch5</text>
<text transform="translate(618.0 451.6) scale(1.050 1)" font-family="Liberation Sans, sans-serif" font-size="16.0" text-anchor="start" fill="#111"  >Ch11</text>
<rect x="568.2" y="606.3" width="96.7" height="48.5" rx="3" ry="3" fill="#fff" fill-opacity="0.8" stroke="#ccc" stroke-width="1"/>
<line x1="572.9" x2="606.2" y1="618.0" y2="618.0" stroke="#4169e1" stroke-width="2"/>
<line x1="572.9" x2="606.2" y1="639.5" y2="639.5" stroke="#ff4500" stroke-width="2"/>
<text transform="translate(618.0 623.5) scale(1.030 1)" font-family="Liberation Sans, sans-serif" font-size="16.0" text-anchor="start" fill="#111"  >Ch5</text>
<text transform="translate(618.0 645.0) scale(1.050 1)" font-family="Liberation Sans, sans-serif" font-size="16.0" text-anchor="start" fill="#111"  >Ch11</text>
</svg>
</body></html>
